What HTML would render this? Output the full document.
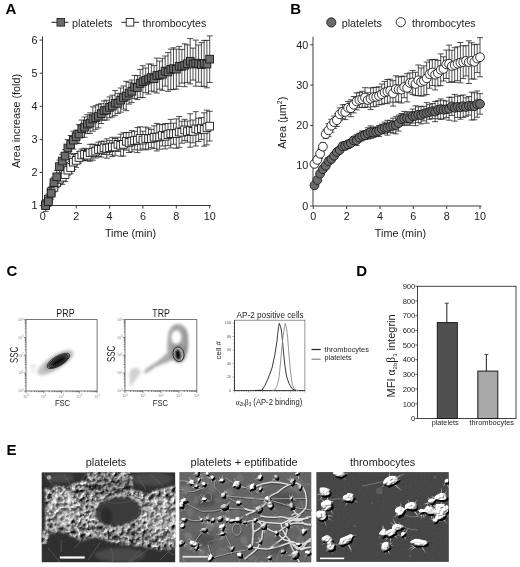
<!DOCTYPE html>
<html><head><meta charset="utf-8"><style>
html,body{margin:0;padding:0;background:#fff;overflow:hidden;}
svg{display:block;font-family:"Liberation Sans", sans-serif;will-change:transform;filter:blur(0.3px);}
</style></head><body>
<svg width="520" height="567" viewBox="0 0 520 567">
<defs>
<filter id="b1" x="-50%" y="-50%" width="200%" height="200%"><feGaussianBlur stdDeviation="0.8"/></filter>
<filter id="b15" x="-50%" y="-50%" width="200%" height="200%"><feGaussianBlur stdDeviation="1.5"/></filter>
</defs>
<rect width="520" height="567" fill="#fff"/>
<text x="5.5" y="13.6" font-size="15" text-anchor="start" font-weight="bold" fill="#000" >A</text>
<line x1="51.5" y1="22.3" x2="68.5" y2="22.3" stroke="#222" stroke-width="1"/>
<rect x="57" y="18.5" width="7.6" height="7.6" fill="#6a6a6a" stroke="#222" stroke-width="0.9"/>
<text x="72.1" y="26.5" font-size="10.8" text-anchor="start" font-weight="normal" fill="#1c1c1c" >platelets</text>
<line x1="121.3" y1="22.3" x2="139" y2="22.3" stroke="#222" stroke-width="1"/>
<rect x="126.2" y="18.5" width="7.6" height="7.6" fill="#fff" stroke="#222" stroke-width="0.9"/>
<text x="142.6" y="26.5" font-size="10.6" text-anchor="start" font-weight="normal" fill="#1c1c1c" >thrombocytes</text>
<path d="M42.5 36.5 V205.5 H210.8" fill="none" stroke="#3a3a3a" stroke-width="1"/>
<line x1="39.6" y1="205.6" x2="42.5" y2="205.6" stroke="#3a3a3a" stroke-width="1"/>
<text x="37.4" y="209.35" font-size="10.8" text-anchor="end" font-weight="normal" fill="#1c1c1c" >1</text>
<line x1="39.6" y1="172.5" x2="42.5" y2="172.5" stroke="#3a3a3a" stroke-width="1"/>
<text x="37.4" y="176.25" font-size="10.8" text-anchor="end" font-weight="normal" fill="#1c1c1c" >2</text>
<line x1="39.6" y1="139.4" x2="42.5" y2="139.4" stroke="#3a3a3a" stroke-width="1"/>
<text x="37.4" y="143.14999999999998" font-size="10.8" text-anchor="end" font-weight="normal" fill="#1c1c1c" >3</text>
<line x1="39.6" y1="106.3" x2="42.5" y2="106.3" stroke="#3a3a3a" stroke-width="1"/>
<text x="37.4" y="110.04999999999998" font-size="10.8" text-anchor="end" font-weight="normal" fill="#1c1c1c" >4</text>
<line x1="39.6" y1="73.2" x2="42.5" y2="73.2" stroke="#3a3a3a" stroke-width="1"/>
<text x="37.4" y="76.94999999999999" font-size="10.8" text-anchor="end" font-weight="normal" fill="#1c1c1c" >5</text>
<line x1="39.6" y1="40.1" x2="42.5" y2="40.1" stroke="#3a3a3a" stroke-width="1"/>
<text x="37.4" y="43.849999999999994" font-size="10.8" text-anchor="end" font-weight="normal" fill="#1c1c1c" >6</text>
<line x1="42.8" y1="205.5" x2="42.8" y2="208.5" stroke="#3a3a3a" stroke-width="1"/>
<text x="42.8" y="219.7" font-size="10.8" text-anchor="middle" font-weight="normal" fill="#1c1c1c" >0</text>
<line x1="76.2" y1="205.5" x2="76.2" y2="208.5" stroke="#3a3a3a" stroke-width="1"/>
<text x="76.18" y="219.7" font-size="10.8" text-anchor="middle" font-weight="normal" fill="#1c1c1c" >2</text>
<line x1="109.6" y1="205.5" x2="109.6" y2="208.5" stroke="#3a3a3a" stroke-width="1"/>
<text x="109.56" y="219.7" font-size="10.8" text-anchor="middle" font-weight="normal" fill="#1c1c1c" >4</text>
<line x1="142.9" y1="205.5" x2="142.9" y2="208.5" stroke="#3a3a3a" stroke-width="1"/>
<text x="142.94" y="219.7" font-size="10.8" text-anchor="middle" font-weight="normal" fill="#1c1c1c" >6</text>
<line x1="176.3" y1="205.5" x2="176.3" y2="208.5" stroke="#3a3a3a" stroke-width="1"/>
<text x="176.32" y="219.7" font-size="10.8" text-anchor="middle" font-weight="normal" fill="#1c1c1c" >8</text>
<line x1="209.7" y1="205.5" x2="209.7" y2="208.5" stroke="#3a3a3a" stroke-width="1"/>
<text x="209.7" y="219.7" font-size="10.8" text-anchor="middle" font-weight="normal" fill="#1c1c1c" >10</text>
<text x="130.5" y="236.6" font-size="10.8" text-anchor="middle" font-weight="normal" fill="#1c1c1c" >Time (min)</text>
<text transform="translate(20.2,121) rotate(-90)" font-size="10.8" text-anchor="middle" fill="#1c1c1c">Area increase (fold)</text>
<path d="M45.6 200.1V209.2M42.6 200.1h6M42.6 209.2h6" stroke="#222" stroke-width="0.8" fill="none"/>
<path d="M48.4 194.1V204.2M45.4 194.1h6M45.4 204.2h6" stroke="#222" stroke-width="0.8" fill="none"/>
<path d="M51.1 187.0V196.6M48.1 187.0h6M48.1 196.6h6" stroke="#222" stroke-width="0.8" fill="none"/>
<path d="M53.9 182.7V191.9M50.9 182.7h6M50.9 191.9h6" stroke="#222" stroke-width="0.8" fill="none"/>
<path d="M56.7 177.3V187.6M53.7 177.3h6M53.7 187.6h6" stroke="#222" stroke-width="0.8" fill="none"/>
<path d="M59.5 173.6V184.8M56.5 173.6h6M56.5 184.8h6" stroke="#222" stroke-width="0.8" fill="none"/>
<path d="M62.3 170.2V184.3M59.3 170.2h6M59.3 184.3h6" stroke="#222" stroke-width="0.8" fill="none"/>
<path d="M65.1 167.6V181.6M62.1 167.6h6M62.1 181.6h6" stroke="#222" stroke-width="0.8" fill="none"/>
<path d="M67.8 165.0V175.2M64.8 165.0h6M64.8 175.2h6" stroke="#222" stroke-width="0.8" fill="none"/>
<path d="M70.6 161.3V173.7M67.6 161.3h6M67.6 173.7h6" stroke="#222" stroke-width="0.8" fill="none"/>
<path d="M73.4 154.6V169.6M70.4 154.6h6M70.4 169.6h6" stroke="#222" stroke-width="0.8" fill="none"/>
<path d="M76.2 153.5V167.3M73.2 153.5h6M73.2 167.3h6" stroke="#222" stroke-width="0.8" fill="none"/>
<path d="M79.0 151.7V163.1M76.0 151.7h6M76.0 163.1h6" stroke="#222" stroke-width="0.8" fill="none"/>
<path d="M81.7 149.0V160.9M78.7 149.0h6M78.7 160.9h6" stroke="#222" stroke-width="0.8" fill="none"/>
<path d="M84.5 148.3V160.4M81.5 148.3h6M81.5 160.4h6" stroke="#222" stroke-width="0.8" fill="none"/>
<path d="M87.3 149.5V160.8M84.3 149.5h6M84.3 160.8h6" stroke="#222" stroke-width="0.8" fill="none"/>
<path d="M90.1 144.3V161.2M87.1 144.3h6M87.1 161.2h6" stroke="#222" stroke-width="0.8" fill="none"/>
<path d="M92.9 144.2V160.2M89.9 144.2h6M89.9 160.2h6" stroke="#222" stroke-width="0.8" fill="none"/>
<path d="M95.7 144.4V158.0M92.7 144.4h6M92.7 158.0h6" stroke="#222" stroke-width="0.8" fill="none"/>
<path d="M98.4 142.2V156.6M95.4 142.2h6M95.4 156.6h6" stroke="#222" stroke-width="0.8" fill="none"/>
<path d="M101.2 141.3V157.1M98.2 141.3h6M98.2 157.1h6" stroke="#222" stroke-width="0.8" fill="none"/>
<path d="M104.0 141.2V154.5M101.0 141.2h6M101.0 154.5h6" stroke="#222" stroke-width="0.8" fill="none"/>
<path d="M106.8 138.8V158.2M103.8 138.8h6M103.8 158.2h6" stroke="#222" stroke-width="0.8" fill="none"/>
<path d="M109.6 140.6V154.8M106.6 140.6h6M106.6 154.8h6" stroke="#222" stroke-width="0.8" fill="none"/>
<path d="M112.3 137.3V156.6M109.3 137.3h6M109.3 156.6h6" stroke="#222" stroke-width="0.8" fill="none"/>
<path d="M115.1 138.5V155.3M112.1 138.5h6M112.1 155.3h6" stroke="#222" stroke-width="0.8" fill="none"/>
<path d="M117.9 137.3V151.4M114.9 137.3h6M114.9 151.4h6" stroke="#222" stroke-width="0.8" fill="none"/>
<path d="M120.7 134.2V156.2M117.7 134.2h6M117.7 156.2h6" stroke="#222" stroke-width="0.8" fill="none"/>
<path d="M123.5 132.7V156.0M120.5 132.7h6M120.5 156.0h6" stroke="#222" stroke-width="0.8" fill="none"/>
<path d="M126.2 132.5V150.1M123.2 132.5h6M123.2 150.1h6" stroke="#222" stroke-width="0.8" fill="none"/>
<path d="M129.0 132.4V152.5M126.0 132.4h6M126.0 152.5h6" stroke="#222" stroke-width="0.8" fill="none"/>
<path d="M131.8 130.7V151.8M128.8 130.7h6M128.8 151.8h6" stroke="#222" stroke-width="0.8" fill="none"/>
<path d="M134.6 131.3V149.8M131.6 131.3h6M131.6 149.8h6" stroke="#222" stroke-width="0.8" fill="none"/>
<path d="M137.4 127.6V152.6M134.4 127.6h6M134.4 152.6h6" stroke="#222" stroke-width="0.8" fill="none"/>
<path d="M140.2 126.8V150.1M137.2 126.8h6M137.2 150.1h6" stroke="#222" stroke-width="0.8" fill="none"/>
<path d="M142.9 131.2V149.0M139.9 131.2h6M139.9 149.0h6" stroke="#222" stroke-width="0.8" fill="none"/>
<path d="M145.7 127.1V149.8M142.7 127.1h6M142.7 149.8h6" stroke="#222" stroke-width="0.8" fill="none"/>
<path d="M148.5 128.0V149.2M145.5 128.0h6M145.5 149.2h6" stroke="#222" stroke-width="0.8" fill="none"/>
<path d="M151.3 129.4V147.7M148.3 129.4h6M148.3 147.7h6" stroke="#222" stroke-width="0.8" fill="none"/>
<path d="M154.1 125.8V148.6M151.1 125.8h6M151.1 148.6h6" stroke="#222" stroke-width="0.8" fill="none"/>
<path d="M156.8 123.4V150.9M153.8 123.4h6M153.8 150.9h6" stroke="#222" stroke-width="0.8" fill="none"/>
<path d="M159.6 124.4V149.2M156.6 124.4h6M156.6 149.2h6" stroke="#222" stroke-width="0.8" fill="none"/>
<path d="M162.4 124.6V146.0M159.4 124.6h6M159.4 146.0h6" stroke="#222" stroke-width="0.8" fill="none"/>
<path d="M165.2 123.6V148.9M162.2 123.6h6M162.2 148.9h6" stroke="#222" stroke-width="0.8" fill="none"/>
<path d="M168.0 123.4V145.6M165.0 123.4h6M165.0 145.6h6" stroke="#222" stroke-width="0.8" fill="none"/>
<path d="M170.8 119.4V147.9M167.8 119.4h6M167.8 147.9h6" stroke="#222" stroke-width="0.8" fill="none"/>
<path d="M173.5 123.2V144.3M170.5 123.2h6M170.5 144.3h6" stroke="#222" stroke-width="0.8" fill="none"/>
<path d="M176.3 118.9V148.3M173.3 118.9h6M173.3 148.3h6" stroke="#222" stroke-width="0.8" fill="none"/>
<path d="M179.1 116.5V147.3M176.1 116.5h6M176.1 147.3h6" stroke="#222" stroke-width="0.8" fill="none"/>
<path d="M181.9 121.2V143.2M178.9 121.2h6M178.9 143.2h6" stroke="#222" stroke-width="0.8" fill="none"/>
<path d="M184.7 119.3V140.6M181.7 119.3h6M181.7 140.6h6" stroke="#222" stroke-width="0.8" fill="none"/>
<path d="M187.4 121.0V142.2M184.4 121.0h6M184.4 142.2h6" stroke="#222" stroke-width="0.8" fill="none"/>
<path d="M190.2 113.8V147.2M187.2 113.8h6M187.2 147.2h6" stroke="#222" stroke-width="0.8" fill="none"/>
<path d="M193.0 120.0V142.8M190.0 120.0h6M190.0 142.8h6" stroke="#222" stroke-width="0.8" fill="none"/>
<path d="M195.8 111.7V146.0M192.8 111.7h6M192.8 146.0h6" stroke="#222" stroke-width="0.8" fill="none"/>
<path d="M198.6 118.3V141.5M195.6 118.3h6M195.6 141.5h6" stroke="#222" stroke-width="0.8" fill="none"/>
<path d="M201.4 117.6V139.6M198.4 117.6h6M198.4 139.6h6" stroke="#222" stroke-width="0.8" fill="none"/>
<path d="M204.1 112.8V146.2M201.1 112.8h6M201.1 146.2h6" stroke="#222" stroke-width="0.8" fill="none"/>
<path d="M206.9 110.2V144.9M203.9 110.2h6M203.9 144.9h6" stroke="#222" stroke-width="0.8" fill="none"/>
<path d="M209.7 111.3V141.0M206.7 111.3h6M206.7 141.0h6" stroke="#222" stroke-width="0.8" fill="none"/>
<rect x="41.7" y="200.8" width="7.7" height="7.7" fill="#fff" stroke="#1a1a1a" stroke-width="0.9"/>
<rect x="44.5" y="195.3" width="7.7" height="7.7" fill="#fff" stroke="#1a1a1a" stroke-width="0.9"/>
<rect x="47.3" y="188.0" width="7.7" height="7.7" fill="#fff" stroke="#1a1a1a" stroke-width="0.9"/>
<rect x="50.1" y="183.5" width="7.7" height="7.7" fill="#fff" stroke="#1a1a1a" stroke-width="0.9"/>
<rect x="52.9" y="178.6" width="7.7" height="7.7" fill="#fff" stroke="#1a1a1a" stroke-width="0.9"/>
<rect x="55.6" y="175.3" width="7.7" height="7.7" fill="#fff" stroke="#1a1a1a" stroke-width="0.9"/>
<rect x="58.4" y="173.4" width="7.7" height="7.7" fill="#fff" stroke="#1a1a1a" stroke-width="0.9"/>
<rect x="61.2" y="170.7" width="7.7" height="7.7" fill="#fff" stroke="#1a1a1a" stroke-width="0.9"/>
<rect x="64.0" y="166.3" width="7.7" height="7.7" fill="#fff" stroke="#1a1a1a" stroke-width="0.9"/>
<rect x="66.8" y="163.7" width="7.7" height="7.7" fill="#fff" stroke="#1a1a1a" stroke-width="0.9"/>
<rect x="69.5" y="158.3" width="7.7" height="7.7" fill="#fff" stroke="#1a1a1a" stroke-width="0.9"/>
<rect x="72.3" y="156.5" width="7.7" height="7.7" fill="#fff" stroke="#1a1a1a" stroke-width="0.9"/>
<rect x="75.1" y="153.6" width="7.7" height="7.7" fill="#fff" stroke="#1a1a1a" stroke-width="0.9"/>
<rect x="77.9" y="151.1" width="7.7" height="7.7" fill="#fff" stroke="#1a1a1a" stroke-width="0.9"/>
<rect x="80.7" y="150.5" width="7.7" height="7.7" fill="#fff" stroke="#1a1a1a" stroke-width="0.9"/>
<rect x="83.5" y="151.3" width="7.7" height="7.7" fill="#fff" stroke="#1a1a1a" stroke-width="0.9"/>
<rect x="86.2" y="148.9" width="7.7" height="7.7" fill="#fff" stroke="#1a1a1a" stroke-width="0.9"/>
<rect x="89.0" y="148.4" width="7.7" height="7.7" fill="#fff" stroke="#1a1a1a" stroke-width="0.9"/>
<rect x="91.8" y="147.3" width="7.7" height="7.7" fill="#fff" stroke="#1a1a1a" stroke-width="0.9"/>
<rect x="94.6" y="145.6" width="7.7" height="7.7" fill="#fff" stroke="#1a1a1a" stroke-width="0.9"/>
<rect x="97.4" y="145.4" width="7.7" height="7.7" fill="#fff" stroke="#1a1a1a" stroke-width="0.9"/>
<rect x="100.1" y="144.0" width="7.7" height="7.7" fill="#fff" stroke="#1a1a1a" stroke-width="0.9"/>
<rect x="102.9" y="144.6" width="7.7" height="7.7" fill="#fff" stroke="#1a1a1a" stroke-width="0.9"/>
<rect x="105.7" y="143.9" width="7.7" height="7.7" fill="#fff" stroke="#1a1a1a" stroke-width="0.9"/>
<rect x="108.5" y="143.1" width="7.7" height="7.7" fill="#fff" stroke="#1a1a1a" stroke-width="0.9"/>
<rect x="111.3" y="143.1" width="7.7" height="7.7" fill="#fff" stroke="#1a1a1a" stroke-width="0.9"/>
<rect x="114.1" y="140.5" width="7.7" height="7.7" fill="#fff" stroke="#1a1a1a" stroke-width="0.9"/>
<rect x="116.8" y="141.4" width="7.7" height="7.7" fill="#fff" stroke="#1a1a1a" stroke-width="0.9"/>
<rect x="119.6" y="140.5" width="7.7" height="7.7" fill="#fff" stroke="#1a1a1a" stroke-width="0.9"/>
<rect x="122.4" y="137.4" width="7.7" height="7.7" fill="#fff" stroke="#1a1a1a" stroke-width="0.9"/>
<rect x="125.2" y="138.6" width="7.7" height="7.7" fill="#fff" stroke="#1a1a1a" stroke-width="0.9"/>
<rect x="128.0" y="137.4" width="7.7" height="7.7" fill="#fff" stroke="#1a1a1a" stroke-width="0.9"/>
<rect x="130.7" y="136.7" width="7.7" height="7.7" fill="#fff" stroke="#1a1a1a" stroke-width="0.9"/>
<rect x="133.5" y="136.3" width="7.7" height="7.7" fill="#fff" stroke="#1a1a1a" stroke-width="0.9"/>
<rect x="136.3" y="134.6" width="7.7" height="7.7" fill="#fff" stroke="#1a1a1a" stroke-width="0.9"/>
<rect x="139.1" y="136.2" width="7.7" height="7.7" fill="#fff" stroke="#1a1a1a" stroke-width="0.9"/>
<rect x="141.9" y="134.6" width="7.7" height="7.7" fill="#fff" stroke="#1a1a1a" stroke-width="0.9"/>
<rect x="144.7" y="134.8" width="7.7" height="7.7" fill="#fff" stroke="#1a1a1a" stroke-width="0.9"/>
<rect x="147.4" y="134.7" width="7.7" height="7.7" fill="#fff" stroke="#1a1a1a" stroke-width="0.9"/>
<rect x="150.2" y="133.4" width="7.7" height="7.7" fill="#fff" stroke="#1a1a1a" stroke-width="0.9"/>
<rect x="153.0" y="133.3" width="7.7" height="7.7" fill="#fff" stroke="#1a1a1a" stroke-width="0.9"/>
<rect x="155.8" y="133.0" width="7.7" height="7.7" fill="#fff" stroke="#1a1a1a" stroke-width="0.9"/>
<rect x="158.6" y="131.4" width="7.7" height="7.7" fill="#fff" stroke="#1a1a1a" stroke-width="0.9"/>
<rect x="161.3" y="132.4" width="7.7" height="7.7" fill="#fff" stroke="#1a1a1a" stroke-width="0.9"/>
<rect x="164.1" y="130.7" width="7.7" height="7.7" fill="#fff" stroke="#1a1a1a" stroke-width="0.9"/>
<rect x="166.9" y="129.8" width="7.7" height="7.7" fill="#fff" stroke="#1a1a1a" stroke-width="0.9"/>
<rect x="169.7" y="129.9" width="7.7" height="7.7" fill="#fff" stroke="#1a1a1a" stroke-width="0.9"/>
<rect x="172.5" y="129.7" width="7.7" height="7.7" fill="#fff" stroke="#1a1a1a" stroke-width="0.9"/>
<rect x="175.3" y="128.1" width="7.7" height="7.7" fill="#fff" stroke="#1a1a1a" stroke-width="0.9"/>
<rect x="178.0" y="128.4" width="7.7" height="7.7" fill="#fff" stroke="#1a1a1a" stroke-width="0.9"/>
<rect x="180.8" y="126.1" width="7.7" height="7.7" fill="#fff" stroke="#1a1a1a" stroke-width="0.9"/>
<rect x="183.6" y="127.7" width="7.7" height="7.7" fill="#fff" stroke="#1a1a1a" stroke-width="0.9"/>
<rect x="186.4" y="126.7" width="7.7" height="7.7" fill="#fff" stroke="#1a1a1a" stroke-width="0.9"/>
<rect x="189.2" y="127.5" width="7.7" height="7.7" fill="#fff" stroke="#1a1a1a" stroke-width="0.9"/>
<rect x="191.9" y="125.0" width="7.7" height="7.7" fill="#fff" stroke="#1a1a1a" stroke-width="0.9"/>
<rect x="194.7" y="126.0" width="7.7" height="7.7" fill="#fff" stroke="#1a1a1a" stroke-width="0.9"/>
<rect x="197.5" y="124.7" width="7.7" height="7.7" fill="#fff" stroke="#1a1a1a" stroke-width="0.9"/>
<rect x="200.3" y="125.6" width="7.7" height="7.7" fill="#fff" stroke="#1a1a1a" stroke-width="0.9"/>
<rect x="203.1" y="123.7" width="7.7" height="7.7" fill="#fff" stroke="#1a1a1a" stroke-width="0.9"/>
<rect x="205.8" y="122.3" width="7.7" height="7.7" fill="#fff" stroke="#1a1a1a" stroke-width="0.9"/>
<path d="M45.6 199.8V211.4M42.6 199.8h6M42.6 211.4h6" stroke="#222" stroke-width="0.8" fill="none"/>
<path d="M48.4 196.5V206.6M45.4 196.5h6M45.4 206.6h6" stroke="#222" stroke-width="0.8" fill="none"/>
<path d="M51.1 187.4V199.1M48.1 187.4h6M48.1 199.1h6" stroke="#222" stroke-width="0.8" fill="none"/>
<path d="M53.9 177.3V188.0M50.9 177.3h6M50.9 188.0h6" stroke="#222" stroke-width="0.8" fill="none"/>
<path d="M56.7 170.6V183.1M53.7 170.6h6M53.7 183.1h6" stroke="#222" stroke-width="0.8" fill="none"/>
<path d="M59.5 160.1V173.1M56.5 160.1h6M56.5 173.1h6" stroke="#222" stroke-width="0.8" fill="none"/>
<path d="M62.3 154.4V167.8M59.3 154.4h6M59.3 167.8h6" stroke="#222" stroke-width="0.8" fill="none"/>
<path d="M65.1 149.5V162.6M62.1 149.5h6M62.1 162.6h6" stroke="#222" stroke-width="0.8" fill="none"/>
<path d="M67.8 139.6V156.2M64.8 139.6h6M64.8 156.2h6" stroke="#222" stroke-width="0.8" fill="none"/>
<path d="M70.6 135.5V153.5M67.6 135.5h6M67.6 153.5h6" stroke="#222" stroke-width="0.8" fill="none"/>
<path d="M73.4 131.2V149.1M70.4 131.2h6M70.4 149.1h6" stroke="#222" stroke-width="0.8" fill="none"/>
<path d="M76.2 130.2V143.2M73.2 130.2h6M73.2 143.2h6" stroke="#222" stroke-width="0.8" fill="none"/>
<path d="M79.0 124.6V143.5M76.0 124.6h6M76.0 143.5h6" stroke="#222" stroke-width="0.8" fill="none"/>
<path d="M81.7 120.0V137.5M78.7 120.0h6M78.7 137.5h6" stroke="#222" stroke-width="0.8" fill="none"/>
<path d="M84.5 117.0V137.3M81.5 117.0h6M81.5 137.3h6" stroke="#222" stroke-width="0.8" fill="none"/>
<path d="M87.3 114.7V133.6M84.3 114.7h6M84.3 133.6h6" stroke="#222" stroke-width="0.8" fill="none"/>
<path d="M90.1 112.8V133.4M87.1 112.8h6M87.1 133.4h6" stroke="#222" stroke-width="0.8" fill="none"/>
<path d="M92.9 106.9V131.2M89.9 106.9h6M89.9 131.2h6" stroke="#222" stroke-width="0.8" fill="none"/>
<path d="M95.7 105.7V129.3M92.7 105.7h6M92.7 129.3h6" stroke="#222" stroke-width="0.8" fill="none"/>
<path d="M98.4 104.4V127.9M95.4 104.4h6M95.4 127.9h6" stroke="#222" stroke-width="0.8" fill="none"/>
<path d="M101.2 103.7V123.5M98.2 103.7h6M98.2 123.5h6" stroke="#222" stroke-width="0.8" fill="none"/>
<path d="M104.0 100.9V120.3M101.0 100.9h6M101.0 120.3h6" stroke="#222" stroke-width="0.8" fill="none"/>
<path d="M106.8 100.2V120.0M103.8 100.2h6M103.8 120.0h6" stroke="#222" stroke-width="0.8" fill="none"/>
<path d="M109.6 96.9V117.8M106.6 96.9h6M106.6 117.8h6" stroke="#222" stroke-width="0.8" fill="none"/>
<path d="M112.3 95.2V117.0M109.3 95.2h6M109.3 117.0h6" stroke="#222" stroke-width="0.8" fill="none"/>
<path d="M115.1 90.6V115.6M112.1 90.6h6M112.1 115.6h6" stroke="#222" stroke-width="0.8" fill="none"/>
<path d="M117.9 93.3V113.5M114.9 93.3h6M114.9 113.5h6" stroke="#222" stroke-width="0.8" fill="none"/>
<path d="M120.7 88.0V112.2M117.7 88.0h6M117.7 112.2h6" stroke="#222" stroke-width="0.8" fill="none"/>
<path d="M123.5 86.0V109.1M120.5 86.0h6M120.5 109.1h6" stroke="#222" stroke-width="0.8" fill="none"/>
<path d="M126.2 81.3V110.7M123.2 81.3h6M123.2 110.7h6" stroke="#222" stroke-width="0.8" fill="none"/>
<path d="M129.0 82.2V104.1M126.0 82.2h6M126.0 104.1h6" stroke="#222" stroke-width="0.8" fill="none"/>
<path d="M131.8 80.0V102.6M128.8 80.0h6M128.8 102.6h6" stroke="#222" stroke-width="0.8" fill="none"/>
<path d="M134.6 75.4V98.5M131.6 75.4h6M131.6 98.5h6" stroke="#222" stroke-width="0.8" fill="none"/>
<path d="M137.4 75.6V99.6M134.4 75.6h6M134.4 99.6h6" stroke="#222" stroke-width="0.8" fill="none"/>
<path d="M140.2 69.4V97.6M137.2 69.4h6M137.2 97.6h6" stroke="#222" stroke-width="0.8" fill="none"/>
<path d="M142.9 65.7V97.6M139.9 65.7h6M139.9 97.6h6" stroke="#222" stroke-width="0.8" fill="none"/>
<path d="M145.7 68.0V92.6M142.7 68.0h6M142.7 92.6h6" stroke="#222" stroke-width="0.8" fill="none"/>
<path d="M148.5 64.0V94.1M145.5 64.0h6M145.5 94.1h6" stroke="#222" stroke-width="0.8" fill="none"/>
<path d="M151.3 64.1V91.1M148.3 64.1h6M148.3 91.1h6" stroke="#222" stroke-width="0.8" fill="none"/>
<path d="M154.1 65.6V91.9M151.1 65.6h6M151.1 91.9h6" stroke="#222" stroke-width="0.8" fill="none"/>
<path d="M156.8 58.1V93.0M153.8 58.1h6M153.8 93.0h6" stroke="#222" stroke-width="0.8" fill="none"/>
<path d="M159.6 61.1V89.2M156.6 61.1h6M156.6 89.2h6" stroke="#222" stroke-width="0.8" fill="none"/>
<path d="M162.4 58.3V90.3M159.4 58.3h6M159.4 90.3h6" stroke="#222" stroke-width="0.8" fill="none"/>
<path d="M165.2 56.0V86.1M162.2 56.0h6M162.2 86.1h6" stroke="#222" stroke-width="0.8" fill="none"/>
<path d="M168.0 52.6V91.3M165.0 52.6h6M165.0 91.3h6" stroke="#222" stroke-width="0.8" fill="none"/>
<path d="M170.8 49.1V89.7M167.8 49.1h6M167.8 89.7h6" stroke="#222" stroke-width="0.8" fill="none"/>
<path d="M173.5 47.8V89.4M170.5 47.8h6M170.5 89.4h6" stroke="#222" stroke-width="0.8" fill="none"/>
<path d="M176.3 49.2V89.1M173.3 49.2h6M173.3 89.1h6" stroke="#222" stroke-width="0.8" fill="none"/>
<path d="M179.1 46.4V86.3M176.1 46.4h6M176.1 86.3h6" stroke="#222" stroke-width="0.8" fill="none"/>
<path d="M181.9 49.4V83.1M178.9 49.4h6M178.9 83.1h6" stroke="#222" stroke-width="0.8" fill="none"/>
<path d="M184.7 43.9V86.7M181.7 43.9h6M181.7 86.7h6" stroke="#222" stroke-width="0.8" fill="none"/>
<path d="M187.4 44.9V82.4M184.4 44.9h6M184.4 82.4h6" stroke="#222" stroke-width="0.8" fill="none"/>
<path d="M190.2 38.6V83.9M187.2 38.6h6M187.2 83.9h6" stroke="#222" stroke-width="0.8" fill="none"/>
<path d="M193.0 48.1V80.1M190.0 48.1h6M190.0 80.1h6" stroke="#222" stroke-width="0.8" fill="none"/>
<path d="M195.8 40.1V86.2M192.8 40.1h6M192.8 86.2h6" stroke="#222" stroke-width="0.8" fill="none"/>
<path d="M198.6 45.0V82.2M195.6 45.0h6M195.6 82.2h6" stroke="#222" stroke-width="0.8" fill="none"/>
<path d="M201.4 42.6V86.4M198.4 42.6h6M198.4 86.4h6" stroke="#222" stroke-width="0.8" fill="none"/>
<path d="M204.1 40.4V86.4M201.1 40.4h6M201.1 86.4h6" stroke="#222" stroke-width="0.8" fill="none"/>
<path d="M206.9 40.4V87.8M203.9 40.4h6M203.9 87.8h6" stroke="#222" stroke-width="0.8" fill="none"/>
<path d="M209.7 35.9V82.5M206.7 35.9h6M206.7 82.5h6" stroke="#222" stroke-width="0.8" fill="none"/>
<rect x="41.7" y="201.8" width="7.7" height="7.7" fill="#6c6c6c" stroke="#1a1a1a" stroke-width="0.9"/>
<rect x="44.5" y="197.7" width="7.7" height="7.7" fill="#6c6c6c" stroke="#1a1a1a" stroke-width="0.9"/>
<rect x="47.3" y="189.4" width="7.7" height="7.7" fill="#6c6c6c" stroke="#1a1a1a" stroke-width="0.9"/>
<rect x="50.1" y="178.8" width="7.7" height="7.7" fill="#6c6c6c" stroke="#1a1a1a" stroke-width="0.9"/>
<rect x="52.9" y="173.0" width="7.7" height="7.7" fill="#6c6c6c" stroke="#1a1a1a" stroke-width="0.9"/>
<rect x="55.6" y="162.7" width="7.7" height="7.7" fill="#6c6c6c" stroke="#1a1a1a" stroke-width="0.9"/>
<rect x="58.4" y="157.2" width="7.7" height="7.7" fill="#6c6c6c" stroke="#1a1a1a" stroke-width="0.9"/>
<rect x="61.2" y="152.2" width="7.7" height="7.7" fill="#6c6c6c" stroke="#1a1a1a" stroke-width="0.9"/>
<rect x="64.0" y="144.1" width="7.7" height="7.7" fill="#6c6c6c" stroke="#1a1a1a" stroke-width="0.9"/>
<rect x="66.8" y="140.6" width="7.7" height="7.7" fill="#6c6c6c" stroke="#1a1a1a" stroke-width="0.9"/>
<rect x="69.5" y="136.3" width="7.7" height="7.7" fill="#6c6c6c" stroke="#1a1a1a" stroke-width="0.9"/>
<rect x="72.3" y="132.8" width="7.7" height="7.7" fill="#6c6c6c" stroke="#1a1a1a" stroke-width="0.9"/>
<rect x="75.1" y="130.2" width="7.7" height="7.7" fill="#6c6c6c" stroke="#1a1a1a" stroke-width="0.9"/>
<rect x="77.9" y="124.9" width="7.7" height="7.7" fill="#6c6c6c" stroke="#1a1a1a" stroke-width="0.9"/>
<rect x="80.7" y="123.3" width="7.7" height="7.7" fill="#6c6c6c" stroke="#1a1a1a" stroke-width="0.9"/>
<rect x="83.5" y="120.3" width="7.7" height="7.7" fill="#6c6c6c" stroke="#1a1a1a" stroke-width="0.9"/>
<rect x="86.2" y="119.3" width="7.7" height="7.7" fill="#6c6c6c" stroke="#1a1a1a" stroke-width="0.9"/>
<rect x="89.0" y="115.2" width="7.7" height="7.7" fill="#6c6c6c" stroke="#1a1a1a" stroke-width="0.9"/>
<rect x="91.8" y="113.7" width="7.7" height="7.7" fill="#6c6c6c" stroke="#1a1a1a" stroke-width="0.9"/>
<rect x="94.6" y="112.3" width="7.7" height="7.7" fill="#6c6c6c" stroke="#1a1a1a" stroke-width="0.9"/>
<rect x="97.4" y="109.7" width="7.7" height="7.7" fill="#6c6c6c" stroke="#1a1a1a" stroke-width="0.9"/>
<rect x="100.1" y="106.8" width="7.7" height="7.7" fill="#6c6c6c" stroke="#1a1a1a" stroke-width="0.9"/>
<rect x="102.9" y="106.3" width="7.7" height="7.7" fill="#6c6c6c" stroke="#1a1a1a" stroke-width="0.9"/>
<rect x="105.7" y="103.5" width="7.7" height="7.7" fill="#6c6c6c" stroke="#1a1a1a" stroke-width="0.9"/>
<rect x="108.5" y="102.2" width="7.7" height="7.7" fill="#6c6c6c" stroke="#1a1a1a" stroke-width="0.9"/>
<rect x="111.3" y="99.3" width="7.7" height="7.7" fill="#6c6c6c" stroke="#1a1a1a" stroke-width="0.9"/>
<rect x="114.1" y="99.5" width="7.7" height="7.7" fill="#6c6c6c" stroke="#1a1a1a" stroke-width="0.9"/>
<rect x="116.8" y="96.3" width="7.7" height="7.7" fill="#6c6c6c" stroke="#1a1a1a" stroke-width="0.9"/>
<rect x="119.6" y="93.7" width="7.7" height="7.7" fill="#6c6c6c" stroke="#1a1a1a" stroke-width="0.9"/>
<rect x="122.4" y="92.1" width="7.7" height="7.7" fill="#6c6c6c" stroke="#1a1a1a" stroke-width="0.9"/>
<rect x="125.2" y="89.3" width="7.7" height="7.7" fill="#6c6c6c" stroke="#1a1a1a" stroke-width="0.9"/>
<rect x="128.0" y="87.4" width="7.7" height="7.7" fill="#6c6c6c" stroke="#1a1a1a" stroke-width="0.9"/>
<rect x="130.7" y="83.1" width="7.7" height="7.7" fill="#6c6c6c" stroke="#1a1a1a" stroke-width="0.9"/>
<rect x="133.5" y="83.7" width="7.7" height="7.7" fill="#6c6c6c" stroke="#1a1a1a" stroke-width="0.9"/>
<rect x="136.3" y="79.6" width="7.7" height="7.7" fill="#6c6c6c" stroke="#1a1a1a" stroke-width="0.9"/>
<rect x="139.1" y="77.8" width="7.7" height="7.7" fill="#6c6c6c" stroke="#1a1a1a" stroke-width="0.9"/>
<rect x="141.9" y="76.4" width="7.7" height="7.7" fill="#6c6c6c" stroke="#1a1a1a" stroke-width="0.9"/>
<rect x="144.7" y="75.2" width="7.7" height="7.7" fill="#6c6c6c" stroke="#1a1a1a" stroke-width="0.9"/>
<rect x="147.4" y="73.7" width="7.7" height="7.7" fill="#6c6c6c" stroke="#1a1a1a" stroke-width="0.9"/>
<rect x="150.2" y="74.9" width="7.7" height="7.7" fill="#6c6c6c" stroke="#1a1a1a" stroke-width="0.9"/>
<rect x="153.0" y="71.7" width="7.7" height="7.7" fill="#6c6c6c" stroke="#1a1a1a" stroke-width="0.9"/>
<rect x="155.8" y="71.3" width="7.7" height="7.7" fill="#6c6c6c" stroke="#1a1a1a" stroke-width="0.9"/>
<rect x="158.6" y="70.4" width="7.7" height="7.7" fill="#6c6c6c" stroke="#1a1a1a" stroke-width="0.9"/>
<rect x="161.3" y="67.2" width="7.7" height="7.7" fill="#6c6c6c" stroke="#1a1a1a" stroke-width="0.9"/>
<rect x="164.1" y="68.1" width="7.7" height="7.7" fill="#6c6c6c" stroke="#1a1a1a" stroke-width="0.9"/>
<rect x="166.9" y="65.5" width="7.7" height="7.7" fill="#6c6c6c" stroke="#1a1a1a" stroke-width="0.9"/>
<rect x="169.7" y="64.8" width="7.7" height="7.7" fill="#6c6c6c" stroke="#1a1a1a" stroke-width="0.9"/>
<rect x="172.5" y="65.3" width="7.7" height="7.7" fill="#6c6c6c" stroke="#1a1a1a" stroke-width="0.9"/>
<rect x="175.3" y="62.5" width="7.7" height="7.7" fill="#6c6c6c" stroke="#1a1a1a" stroke-width="0.9"/>
<rect x="178.0" y="62.4" width="7.7" height="7.7" fill="#6c6c6c" stroke="#1a1a1a" stroke-width="0.9"/>
<rect x="180.8" y="61.4" width="7.7" height="7.7" fill="#6c6c6c" stroke="#1a1a1a" stroke-width="0.9"/>
<rect x="183.6" y="59.8" width="7.7" height="7.7" fill="#6c6c6c" stroke="#1a1a1a" stroke-width="0.9"/>
<rect x="186.4" y="57.4" width="7.7" height="7.7" fill="#6c6c6c" stroke="#1a1a1a" stroke-width="0.9"/>
<rect x="189.2" y="60.2" width="7.7" height="7.7" fill="#6c6c6c" stroke="#1a1a1a" stroke-width="0.9"/>
<rect x="191.9" y="59.3" width="7.7" height="7.7" fill="#6c6c6c" stroke="#1a1a1a" stroke-width="0.9"/>
<rect x="194.7" y="59.8" width="7.7" height="7.7" fill="#6c6c6c" stroke="#1a1a1a" stroke-width="0.9"/>
<rect x="197.5" y="60.7" width="7.7" height="7.7" fill="#6c6c6c" stroke="#1a1a1a" stroke-width="0.9"/>
<rect x="200.3" y="59.5" width="7.7" height="7.7" fill="#6c6c6c" stroke="#1a1a1a" stroke-width="0.9"/>
<rect x="203.1" y="60.2" width="7.7" height="7.7" fill="#6c6c6c" stroke="#1a1a1a" stroke-width="0.9"/>
<rect x="205.8" y="55.3" width="7.7" height="7.7" fill="#6c6c6c" stroke="#1a1a1a" stroke-width="0.9"/>
<text x="290.2" y="13.7" font-size="15" text-anchor="start" font-weight="bold" fill="#000" >B</text>
<circle cx="331.3" cy="22.4" r="4.6" fill="#6a6a6a" stroke="#222" stroke-width="0.9"/>
<text x="341.7" y="26.5" font-size="10.8" text-anchor="start" font-weight="normal" fill="#1c1c1c" >platelets</text>
<circle cx="400.8" cy="22.2" r="4.6" fill="#fff" stroke="#222" stroke-width="0.9"/>
<text x="412.0" y="26.5" font-size="10.6" text-anchor="start" font-weight="normal" fill="#1c1c1c" >thrombocytes</text>
<path d="M313 36.7 V206 H481.5" fill="none" stroke="#3a3a3a" stroke-width="1"/>
<line x1="310.2" y1="206.0" x2="313" y2="206.0" stroke="#3a3a3a" stroke-width="1"/>
<text x="308.3" y="209.75" font-size="10.8" text-anchor="end" font-weight="normal" fill="#1c1c1c" >0</text>
<line x1="310.2" y1="165.7" x2="313" y2="165.7" stroke="#3a3a3a" stroke-width="1"/>
<text x="308.3" y="169.45" font-size="10.8" text-anchor="end" font-weight="normal" fill="#1c1c1c" >10</text>
<line x1="310.2" y1="125.4" x2="313" y2="125.4" stroke="#3a3a3a" stroke-width="1"/>
<text x="308.3" y="129.14999999999998" font-size="10.8" text-anchor="end" font-weight="normal" fill="#1c1c1c" >20</text>
<line x1="310.2" y1="85.1" x2="313" y2="85.1" stroke="#3a3a3a" stroke-width="1"/>
<text x="308.3" y="88.85" font-size="10.8" text-anchor="end" font-weight="normal" fill="#1c1c1c" >30</text>
<line x1="310.2" y1="44.8" x2="313" y2="44.8" stroke="#3a3a3a" stroke-width="1"/>
<text x="308.3" y="48.54999999999998" font-size="10.8" text-anchor="end" font-weight="normal" fill="#1c1c1c" >40</text>
<line x1="313.3" y1="206" x2="313.3" y2="209" stroke="#3a3a3a" stroke-width="1"/>
<text x="313.3" y="219.7" font-size="10.8" text-anchor="middle" font-weight="normal" fill="#1c1c1c" >0</text>
<line x1="346.6" y1="206" x2="346.6" y2="209" stroke="#3a3a3a" stroke-width="1"/>
<text x="346.64" y="219.7" font-size="10.8" text-anchor="middle" font-weight="normal" fill="#1c1c1c" >2</text>
<line x1="380.0" y1="206" x2="380.0" y2="209" stroke="#3a3a3a" stroke-width="1"/>
<text x="379.98" y="219.7" font-size="10.8" text-anchor="middle" font-weight="normal" fill="#1c1c1c" >4</text>
<line x1="413.3" y1="206" x2="413.3" y2="209" stroke="#3a3a3a" stroke-width="1"/>
<text x="413.32000000000005" y="219.7" font-size="10.8" text-anchor="middle" font-weight="normal" fill="#1c1c1c" >6</text>
<line x1="446.7" y1="206" x2="446.7" y2="209" stroke="#3a3a3a" stroke-width="1"/>
<text x="446.66" y="219.7" font-size="10.8" text-anchor="middle" font-weight="normal" fill="#1c1c1c" >8</text>
<line x1="480.0" y1="206" x2="480.0" y2="209" stroke="#3a3a3a" stroke-width="1"/>
<text x="480.0" y="219.7" font-size="10.8" text-anchor="middle" font-weight="normal" fill="#1c1c1c" >10</text>
<text x="400.4" y="236.6" font-size="10.8" text-anchor="middle" font-weight="normal" fill="#1c1c1c" >Time (min)</text>
<text transform="translate(286,122.8) rotate(-90)" font-size="10.8" text-anchor="middle" fill="#1c1c1c">Area (µm<tspan font-size="7" dy="-4">2</tspan><tspan dy="4">)</tspan></text>
<path d="M314.5 160.3V167.4M311.5 160.3h6M311.5 167.4h6" stroke="#222" stroke-width="0.8" fill="none"/>
<path d="M317.3 155.8V163.9M314.3 155.8h6M314.3 163.9h6" stroke="#222" stroke-width="0.8" fill="none"/>
<path d="M320.1 149.0V158.5M317.1 149.0h6M317.1 158.5h6" stroke="#222" stroke-width="0.8" fill="none"/>
<path d="M322.9 142.9V150.3M319.9 142.9h6M319.9 150.3h6" stroke="#222" stroke-width="0.8" fill="none"/>
<path d="M325.7 129.7V138.6M322.7 129.7h6M322.7 138.6h6" stroke="#222" stroke-width="0.8" fill="none"/>
<path d="M328.5 123.8V136.7M325.5 123.8h6M325.5 136.7h6" stroke="#222" stroke-width="0.8" fill="none"/>
<path d="M331.3 119.3V132.0M328.3 119.3h6M328.3 132.0h6" stroke="#222" stroke-width="0.8" fill="none"/>
<path d="M334.1 116.0V128.3M331.1 116.0h6M331.1 128.3h6" stroke="#222" stroke-width="0.8" fill="none"/>
<path d="M336.9 113.8V126.5M333.9 113.8h6M333.9 126.5h6" stroke="#222" stroke-width="0.8" fill="none"/>
<path d="M339.7 107.9V120.5M336.7 107.9h6M336.7 120.5h6" stroke="#222" stroke-width="0.8" fill="none"/>
<path d="M342.5 104.8V118.8M339.5 104.8h6M339.5 118.8h6" stroke="#222" stroke-width="0.8" fill="none"/>
<path d="M345.3 104.5V119.6M342.3 104.5h6M342.3 119.6h6" stroke="#222" stroke-width="0.8" fill="none"/>
<path d="M348.1 101.5V114.1M345.1 101.5h6M345.1 114.1h6" stroke="#222" stroke-width="0.8" fill="none"/>
<path d="M350.9 99.8V116.7M347.9 99.8h6M347.9 116.7h6" stroke="#222" stroke-width="0.8" fill="none"/>
<path d="M353.7 96.5V112.9M350.7 96.5h6M350.7 112.9h6" stroke="#222" stroke-width="0.8" fill="none"/>
<path d="M356.6 92.9V109.8M353.6 92.9h6M353.6 109.8h6" stroke="#222" stroke-width="0.8" fill="none"/>
<path d="M359.4 92.4V107.6M356.4 92.4h6M356.4 107.6h6" stroke="#222" stroke-width="0.8" fill="none"/>
<path d="M362.2 91.3V107.3M359.2 91.3h6M359.2 107.3h6" stroke="#222" stroke-width="0.8" fill="none"/>
<path d="M365.0 87.7V107.5M362.0 87.7h6M362.0 107.5h6" stroke="#222" stroke-width="0.8" fill="none"/>
<path d="M367.8 92.8V107.2M364.8 92.8h6M364.8 107.2h6" stroke="#222" stroke-width="0.8" fill="none"/>
<path d="M370.6 87.9V109.6M367.6 87.9h6M367.6 109.6h6" stroke="#222" stroke-width="0.8" fill="none"/>
<path d="M373.4 87.4V106.8M370.4 87.4h6M370.4 106.8h6" stroke="#222" stroke-width="0.8" fill="none"/>
<path d="M376.2 87.4V106.3M373.2 87.4h6M373.2 106.3h6" stroke="#222" stroke-width="0.8" fill="none"/>
<path d="M379.0 86.8V104.8M376.0 86.8h6M376.0 104.8h6" stroke="#222" stroke-width="0.8" fill="none"/>
<path d="M381.8 84.0V104.6M378.8 84.0h6M378.8 104.6h6" stroke="#222" stroke-width="0.8" fill="none"/>
<path d="M384.6 81.4V103.4M381.6 81.4h6M381.6 103.4h6" stroke="#222" stroke-width="0.8" fill="none"/>
<path d="M387.4 79.5V103.7M384.4 79.5h6M384.4 103.7h6" stroke="#222" stroke-width="0.8" fill="none"/>
<path d="M390.2 79.2V102.2M387.2 79.2h6M387.2 102.2h6" stroke="#222" stroke-width="0.8" fill="none"/>
<path d="M393.0 80.7V106.1M390.0 80.7h6M390.0 106.1h6" stroke="#222" stroke-width="0.8" fill="none"/>
<path d="M395.8 75.8V102.2M392.8 75.8h6M392.8 102.2h6" stroke="#222" stroke-width="0.8" fill="none"/>
<path d="M398.6 76.9V101.9M395.6 76.9h6M395.6 101.9h6" stroke="#222" stroke-width="0.8" fill="none"/>
<path d="M401.4 76.2V103.0M398.4 76.2h6M398.4 103.0h6" stroke="#222" stroke-width="0.8" fill="none"/>
<path d="M404.2 76.3V97.7M401.2 76.3h6M401.2 97.7h6" stroke="#222" stroke-width="0.8" fill="none"/>
<path d="M407.1 73.7V101.9M404.1 73.7h6M404.1 101.9h6" stroke="#222" stroke-width="0.8" fill="none"/>
<path d="M409.9 72.9V92.9M406.9 72.9h6M406.9 92.9h6" stroke="#222" stroke-width="0.8" fill="none"/>
<path d="M412.7 70.4V94.6M409.7 70.4h6M409.7 94.6h6" stroke="#222" stroke-width="0.8" fill="none"/>
<path d="M415.5 72.3V95.6M412.5 72.3h6M412.5 95.6h6" stroke="#222" stroke-width="0.8" fill="none"/>
<path d="M418.3 65.0V95.6M415.3 65.0h6M415.3 95.6h6" stroke="#222" stroke-width="0.8" fill="none"/>
<path d="M421.1 68.0V96.1M418.1 68.0h6M418.1 96.1h6" stroke="#222" stroke-width="0.8" fill="none"/>
<path d="M423.9 65.9V95.8M420.9 65.9h6M420.9 95.8h6" stroke="#222" stroke-width="0.8" fill="none"/>
<path d="M426.7 62.1V94.5M423.7 62.1h6M423.7 94.5h6" stroke="#222" stroke-width="0.8" fill="none"/>
<path d="M429.5 60.0V88.2M426.5 60.0h6M426.5 88.2h6" stroke="#222" stroke-width="0.8" fill="none"/>
<path d="M432.3 59.5V85.6M429.3 59.5h6M429.3 85.6h6" stroke="#222" stroke-width="0.8" fill="none"/>
<path d="M435.1 59.4V89.9M432.1 59.4h6M432.1 89.9h6" stroke="#222" stroke-width="0.8" fill="none"/>
<path d="M437.9 60.4V85.9M434.9 60.4h6M434.9 85.9h6" stroke="#222" stroke-width="0.8" fill="none"/>
<path d="M440.7 53.9V85.6M437.7 53.9h6M437.7 85.6h6" stroke="#222" stroke-width="0.8" fill="none"/>
<path d="M443.5 56.8V81.0M440.5 56.8h6M440.5 81.0h6" stroke="#222" stroke-width="0.8" fill="none"/>
<path d="M446.3 50.1V78.5M443.3 50.1h6M443.3 78.5h6" stroke="#222" stroke-width="0.8" fill="none"/>
<path d="M449.1 45.1V82.4M446.1 45.1h6M446.1 82.4h6" stroke="#222" stroke-width="0.8" fill="none"/>
<path d="M451.9 50.2V81.7M448.9 50.2h6M448.9 81.7h6" stroke="#222" stroke-width="0.8" fill="none"/>
<path d="M454.7 47.7V82.4M451.7 47.7h6M451.7 82.4h6" stroke="#222" stroke-width="0.8" fill="none"/>
<path d="M457.6 46.8V80.7M454.6 46.8h6M454.6 80.7h6" stroke="#222" stroke-width="0.8" fill="none"/>
<path d="M460.4 42.5V82.8M457.4 42.5h6M457.4 82.8h6" stroke="#222" stroke-width="0.8" fill="none"/>
<path d="M463.2 45.7V78.6M460.2 45.7h6M460.2 78.6h6" stroke="#222" stroke-width="0.8" fill="none"/>
<path d="M466.0 45.7V76.0M463.0 45.7h6M463.0 76.0h6" stroke="#222" stroke-width="0.8" fill="none"/>
<path d="M468.8 40.8V83.5M465.8 40.8h6M465.8 83.5h6" stroke="#222" stroke-width="0.8" fill="none"/>
<path d="M471.6 42.7V79.0M468.6 42.7h6M468.6 79.0h6" stroke="#222" stroke-width="0.8" fill="none"/>
<path d="M474.4 44.6V79.1M471.4 44.6h6M471.4 79.1h6" stroke="#222" stroke-width="0.8" fill="none"/>
<path d="M477.2 44.3V72.6M474.2 44.3h6M474.2 72.6h6" stroke="#222" stroke-width="0.8" fill="none"/>
<path d="M480.0 37.6V76.8M477.0 37.6h6M477.0 76.8h6" stroke="#222" stroke-width="0.8" fill="none"/>
<circle cx="314.5" cy="163.9" r="4.4" fill="#fff" stroke="#1a1a1a" stroke-width="0.9"/>
<circle cx="317.3" cy="159.9" r="4.4" fill="#fff" stroke="#1a1a1a" stroke-width="0.9"/>
<circle cx="320.1" cy="153.7" r="4.4" fill="#fff" stroke="#1a1a1a" stroke-width="0.9"/>
<circle cx="322.9" cy="146.6" r="4.4" fill="#fff" stroke="#1a1a1a" stroke-width="0.9"/>
<circle cx="325.7" cy="134.1" r="4.4" fill="#fff" stroke="#1a1a1a" stroke-width="0.9"/>
<circle cx="328.5" cy="130.3" r="4.4" fill="#fff" stroke="#1a1a1a" stroke-width="0.9"/>
<circle cx="331.3" cy="125.7" r="4.4" fill="#fff" stroke="#1a1a1a" stroke-width="0.9"/>
<circle cx="334.1" cy="122.1" r="4.4" fill="#fff" stroke="#1a1a1a" stroke-width="0.9"/>
<circle cx="336.9" cy="120.2" r="4.4" fill="#fff" stroke="#1a1a1a" stroke-width="0.9"/>
<circle cx="339.7" cy="114.2" r="4.4" fill="#fff" stroke="#1a1a1a" stroke-width="0.9"/>
<circle cx="342.5" cy="111.8" r="4.4" fill="#fff" stroke="#1a1a1a" stroke-width="0.9"/>
<circle cx="345.3" cy="112.0" r="4.4" fill="#fff" stroke="#1a1a1a" stroke-width="0.9"/>
<circle cx="348.1" cy="107.8" r="4.4" fill="#fff" stroke="#1a1a1a" stroke-width="0.9"/>
<circle cx="350.9" cy="108.2" r="4.4" fill="#fff" stroke="#1a1a1a" stroke-width="0.9"/>
<circle cx="353.7" cy="104.7" r="4.4" fill="#fff" stroke="#1a1a1a" stroke-width="0.9"/>
<circle cx="356.6" cy="101.4" r="4.4" fill="#fff" stroke="#1a1a1a" stroke-width="0.9"/>
<circle cx="359.4" cy="100.0" r="4.4" fill="#fff" stroke="#1a1a1a" stroke-width="0.9"/>
<circle cx="362.2" cy="99.3" r="4.4" fill="#fff" stroke="#1a1a1a" stroke-width="0.9"/>
<circle cx="365.0" cy="97.6" r="4.4" fill="#fff" stroke="#1a1a1a" stroke-width="0.9"/>
<circle cx="367.8" cy="100.0" r="4.4" fill="#fff" stroke="#1a1a1a" stroke-width="0.9"/>
<circle cx="370.6" cy="98.7" r="4.4" fill="#fff" stroke="#1a1a1a" stroke-width="0.9"/>
<circle cx="373.4" cy="97.1" r="4.4" fill="#fff" stroke="#1a1a1a" stroke-width="0.9"/>
<circle cx="376.2" cy="96.8" r="4.4" fill="#fff" stroke="#1a1a1a" stroke-width="0.9"/>
<circle cx="379.0" cy="95.8" r="4.4" fill="#fff" stroke="#1a1a1a" stroke-width="0.9"/>
<circle cx="381.8" cy="94.3" r="4.4" fill="#fff" stroke="#1a1a1a" stroke-width="0.9"/>
<circle cx="384.6" cy="92.4" r="4.4" fill="#fff" stroke="#1a1a1a" stroke-width="0.9"/>
<circle cx="387.4" cy="91.6" r="4.4" fill="#fff" stroke="#1a1a1a" stroke-width="0.9"/>
<circle cx="390.2" cy="90.7" r="4.4" fill="#fff" stroke="#1a1a1a" stroke-width="0.9"/>
<circle cx="393.0" cy="93.4" r="4.4" fill="#fff" stroke="#1a1a1a" stroke-width="0.9"/>
<circle cx="395.8" cy="89.0" r="4.4" fill="#fff" stroke="#1a1a1a" stroke-width="0.9"/>
<circle cx="398.6" cy="89.4" r="4.4" fill="#fff" stroke="#1a1a1a" stroke-width="0.9"/>
<circle cx="401.4" cy="89.6" r="4.4" fill="#fff" stroke="#1a1a1a" stroke-width="0.9"/>
<circle cx="404.2" cy="87.0" r="4.4" fill="#fff" stroke="#1a1a1a" stroke-width="0.9"/>
<circle cx="407.1" cy="87.8" r="4.4" fill="#fff" stroke="#1a1a1a" stroke-width="0.9"/>
<circle cx="409.9" cy="82.9" r="4.4" fill="#fff" stroke="#1a1a1a" stroke-width="0.9"/>
<circle cx="412.7" cy="82.5" r="4.4" fill="#fff" stroke="#1a1a1a" stroke-width="0.9"/>
<circle cx="415.5" cy="83.9" r="4.4" fill="#fff" stroke="#1a1a1a" stroke-width="0.9"/>
<circle cx="418.3" cy="80.3" r="4.4" fill="#fff" stroke="#1a1a1a" stroke-width="0.9"/>
<circle cx="421.1" cy="82.0" r="4.4" fill="#fff" stroke="#1a1a1a" stroke-width="0.9"/>
<circle cx="423.9" cy="80.9" r="4.4" fill="#fff" stroke="#1a1a1a" stroke-width="0.9"/>
<circle cx="426.7" cy="78.3" r="4.4" fill="#fff" stroke="#1a1a1a" stroke-width="0.9"/>
<circle cx="429.5" cy="74.1" r="4.4" fill="#fff" stroke="#1a1a1a" stroke-width="0.9"/>
<circle cx="432.3" cy="72.5" r="4.4" fill="#fff" stroke="#1a1a1a" stroke-width="0.9"/>
<circle cx="435.1" cy="74.7" r="4.4" fill="#fff" stroke="#1a1a1a" stroke-width="0.9"/>
<circle cx="437.9" cy="73.1" r="4.4" fill="#fff" stroke="#1a1a1a" stroke-width="0.9"/>
<circle cx="440.7" cy="69.8" r="4.4" fill="#fff" stroke="#1a1a1a" stroke-width="0.9"/>
<circle cx="443.5" cy="68.9" r="4.4" fill="#fff" stroke="#1a1a1a" stroke-width="0.9"/>
<circle cx="446.3" cy="64.3" r="4.4" fill="#fff" stroke="#1a1a1a" stroke-width="0.9"/>
<circle cx="449.1" cy="63.8" r="4.4" fill="#fff" stroke="#1a1a1a" stroke-width="0.9"/>
<circle cx="451.9" cy="66.0" r="4.4" fill="#fff" stroke="#1a1a1a" stroke-width="0.9"/>
<circle cx="454.7" cy="65.0" r="4.4" fill="#fff" stroke="#1a1a1a" stroke-width="0.9"/>
<circle cx="457.6" cy="63.7" r="4.4" fill="#fff" stroke="#1a1a1a" stroke-width="0.9"/>
<circle cx="460.4" cy="62.7" r="4.4" fill="#fff" stroke="#1a1a1a" stroke-width="0.9"/>
<circle cx="463.2" cy="62.2" r="4.4" fill="#fff" stroke="#1a1a1a" stroke-width="0.9"/>
<circle cx="466.0" cy="60.9" r="4.4" fill="#fff" stroke="#1a1a1a" stroke-width="0.9"/>
<circle cx="468.8" cy="62.1" r="4.4" fill="#fff" stroke="#1a1a1a" stroke-width="0.9"/>
<circle cx="471.6" cy="60.8" r="4.4" fill="#fff" stroke="#1a1a1a" stroke-width="0.9"/>
<circle cx="474.4" cy="61.8" r="4.4" fill="#fff" stroke="#1a1a1a" stroke-width="0.9"/>
<circle cx="477.2" cy="58.5" r="4.4" fill="#fff" stroke="#1a1a1a" stroke-width="0.9"/>
<circle cx="480.0" cy="57.2" r="4.4" fill="#fff" stroke="#1a1a1a" stroke-width="0.9"/>
<path d="M314.5 183.5V187.0M311.5 183.5h6M311.5 187.0h6" stroke="#222" stroke-width="0.8" fill="none"/>
<path d="M317.3 177.9V182.1M314.3 177.9h6M314.3 182.1h6" stroke="#222" stroke-width="0.8" fill="none"/>
<path d="M320.1 171.4V175.9M317.1 171.4h6M317.1 175.9h6" stroke="#222" stroke-width="0.8" fill="none"/>
<path d="M322.9 167.5V170.9M319.9 167.5h6M319.9 170.9h6" stroke="#222" stroke-width="0.8" fill="none"/>
<path d="M325.7 163.0V168.7M322.7 163.0h6M322.7 168.7h6" stroke="#222" stroke-width="0.8" fill="none"/>
<path d="M328.5 158.1V164.2M325.5 158.1h6M325.5 164.2h6" stroke="#222" stroke-width="0.8" fill="none"/>
<path d="M331.3 156.3V161.8M328.3 156.3h6M328.3 161.8h6" stroke="#222" stroke-width="0.8" fill="none"/>
<path d="M334.1 152.7V158.7M331.1 152.7h6M331.1 158.7h6" stroke="#222" stroke-width="0.8" fill="none"/>
<path d="M336.9 149.6V154.5M333.9 149.6h6M333.9 154.5h6" stroke="#222" stroke-width="0.8" fill="none"/>
<path d="M339.7 147.0V152.9M336.7 147.0h6M336.7 152.9h6" stroke="#222" stroke-width="0.8" fill="none"/>
<path d="M342.5 142.4V150.2M339.5 142.4h6M339.5 150.2h6" stroke="#222" stroke-width="0.8" fill="none"/>
<path d="M345.3 141.5V149.9M342.3 141.5h6M342.3 149.9h6" stroke="#222" stroke-width="0.8" fill="none"/>
<path d="M348.1 140.3V148.5M345.1 140.3h6M345.1 148.5h6" stroke="#222" stroke-width="0.8" fill="none"/>
<path d="M350.9 140.0V146.3M347.9 140.0h6M347.9 146.3h6" stroke="#222" stroke-width="0.8" fill="none"/>
<path d="M353.7 136.6V144.0M350.7 136.6h6M350.7 144.0h6" stroke="#222" stroke-width="0.8" fill="none"/>
<path d="M356.6 134.8V145.6M353.6 134.8h6M353.6 145.6h6" stroke="#222" stroke-width="0.8" fill="none"/>
<path d="M359.4 133.3V141.7M356.4 133.3h6M356.4 141.7h6" stroke="#222" stroke-width="0.8" fill="none"/>
<path d="M362.2 131.0V140.8M359.2 131.0h6M359.2 140.8h6" stroke="#222" stroke-width="0.8" fill="none"/>
<path d="M365.0 130.9V139.5M362.0 130.9h6M362.0 139.5h6" stroke="#222" stroke-width="0.8" fill="none"/>
<path d="M367.8 127.8V139.1M364.8 127.8h6M364.8 139.1h6" stroke="#222" stroke-width="0.8" fill="none"/>
<path d="M370.6 125.9V138.5M367.6 125.9h6M367.6 138.5h6" stroke="#222" stroke-width="0.8" fill="none"/>
<path d="M373.4 127.3V137.6M370.4 127.3h6M370.4 137.6h6" stroke="#222" stroke-width="0.8" fill="none"/>
<path d="M376.2 127.0V136.5M373.2 127.0h6M373.2 136.5h6" stroke="#222" stroke-width="0.8" fill="none"/>
<path d="M379.0 125.6V136.4M376.0 125.6h6M376.0 136.4h6" stroke="#222" stroke-width="0.8" fill="none"/>
<path d="M381.8 124.2V133.6M378.8 124.2h6M378.8 133.6h6" stroke="#222" stroke-width="0.8" fill="none"/>
<path d="M384.6 122.1V133.7M381.6 122.1h6M381.6 133.7h6" stroke="#222" stroke-width="0.8" fill="none"/>
<path d="M387.4 120.3V135.1M384.4 120.3h6M384.4 135.1h6" stroke="#222" stroke-width="0.8" fill="none"/>
<path d="M390.2 120.4V132.6M387.2 120.4h6M387.2 132.6h6" stroke="#222" stroke-width="0.8" fill="none"/>
<path d="M393.0 118.2V133.1M390.0 118.2h6M390.0 133.1h6" stroke="#222" stroke-width="0.8" fill="none"/>
<path d="M395.8 116.7V133.8M392.8 116.7h6M392.8 133.8h6" stroke="#222" stroke-width="0.8" fill="none"/>
<path d="M398.6 115.1V131.1M395.6 115.1h6M395.6 131.1h6" stroke="#222" stroke-width="0.8" fill="none"/>
<path d="M401.4 113.5V125.0M398.4 113.5h6M398.4 125.0h6" stroke="#222" stroke-width="0.8" fill="none"/>
<path d="M404.2 111.4V125.6M401.2 111.4h6M401.2 125.6h6" stroke="#222" stroke-width="0.8" fill="none"/>
<path d="M407.1 112.2V124.2M404.1 112.2h6M404.1 124.2h6" stroke="#222" stroke-width="0.8" fill="none"/>
<path d="M409.9 111.8V125.4M406.9 111.8h6M406.9 125.4h6" stroke="#222" stroke-width="0.8" fill="none"/>
<path d="M412.7 109.1V123.1M409.7 109.1h6M409.7 123.1h6" stroke="#222" stroke-width="0.8" fill="none"/>
<path d="M415.5 105.8V125.7M412.5 105.8h6M412.5 125.7h6" stroke="#222" stroke-width="0.8" fill="none"/>
<path d="M418.3 106.8V122.6M415.3 106.8h6M415.3 122.6h6" stroke="#222" stroke-width="0.8" fill="none"/>
<path d="M421.1 106.4V123.9M418.1 106.4h6M418.1 123.9h6" stroke="#222" stroke-width="0.8" fill="none"/>
<path d="M423.9 106.3V120.9M420.9 106.3h6M420.9 120.9h6" stroke="#222" stroke-width="0.8" fill="none"/>
<path d="M426.7 102.6V123.2M423.7 102.6h6M423.7 123.2h6" stroke="#222" stroke-width="0.8" fill="none"/>
<path d="M429.5 104.7V119.3M426.5 104.7h6M426.5 119.3h6" stroke="#222" stroke-width="0.8" fill="none"/>
<path d="M432.3 103.5V118.7M429.3 103.5h6M429.3 118.7h6" stroke="#222" stroke-width="0.8" fill="none"/>
<path d="M435.1 101.5V121.7M432.1 101.5h6M432.1 121.7h6" stroke="#222" stroke-width="0.8" fill="none"/>
<path d="M437.9 100.7V118.8M434.9 100.7h6M434.9 118.8h6" stroke="#222" stroke-width="0.8" fill="none"/>
<path d="M440.7 98.9V119.3M437.7 98.9h6M437.7 119.3h6" stroke="#222" stroke-width="0.8" fill="none"/>
<path d="M443.5 100.4V119.0M440.5 100.4h6M440.5 119.0h6" stroke="#222" stroke-width="0.8" fill="none"/>
<path d="M446.3 101.0V117.6M443.3 101.0h6M443.3 117.6h6" stroke="#222" stroke-width="0.8" fill="none"/>
<path d="M449.1 97.2V120.2M446.1 97.2h6M446.1 120.2h6" stroke="#222" stroke-width="0.8" fill="none"/>
<path d="M451.9 97.3V115.4M448.9 97.3h6M448.9 115.4h6" stroke="#222" stroke-width="0.8" fill="none"/>
<path d="M454.7 94.4V121.1M451.7 94.4h6M451.7 121.1h6" stroke="#222" stroke-width="0.8" fill="none"/>
<path d="M457.6 96.2V117.4M454.6 96.2h6M454.6 117.4h6" stroke="#222" stroke-width="0.8" fill="none"/>
<path d="M460.4 95.6V119.2M457.4 95.6h6M457.4 119.2h6" stroke="#222" stroke-width="0.8" fill="none"/>
<path d="M463.2 95.0V117.4M460.2 95.0h6M460.2 117.4h6" stroke="#222" stroke-width="0.8" fill="none"/>
<path d="M466.0 97.8V116.3M463.0 97.8h6M463.0 116.3h6" stroke="#222" stroke-width="0.8" fill="none"/>
<path d="M468.8 96.5V115.1M465.8 96.5h6M465.8 115.1h6" stroke="#222" stroke-width="0.8" fill="none"/>
<path d="M471.6 92.2V120.0M468.6 92.2h6M468.6 120.0h6" stroke="#222" stroke-width="0.8" fill="none"/>
<path d="M474.4 92.8V119.8M471.4 92.8h6M471.4 119.8h6" stroke="#222" stroke-width="0.8" fill="none"/>
<path d="M477.2 91.0V117.2M474.2 91.0h6M474.2 117.2h6" stroke="#222" stroke-width="0.8" fill="none"/>
<path d="M480.0 93.6V114.2M477.0 93.6h6M477.0 114.2h6" stroke="#222" stroke-width="0.8" fill="none"/>
<circle cx="314.5" cy="185.3" r="4.4" fill="#6c6c6c" stroke="#1a1a1a" stroke-width="0.9"/>
<circle cx="317.3" cy="180.0" r="4.4" fill="#6c6c6c" stroke="#1a1a1a" stroke-width="0.9"/>
<circle cx="320.1" cy="173.7" r="4.4" fill="#6c6c6c" stroke="#1a1a1a" stroke-width="0.9"/>
<circle cx="322.9" cy="169.2" r="4.4" fill="#6c6c6c" stroke="#1a1a1a" stroke-width="0.9"/>
<circle cx="325.7" cy="165.9" r="4.4" fill="#6c6c6c" stroke="#1a1a1a" stroke-width="0.9"/>
<circle cx="328.5" cy="161.2" r="4.4" fill="#6c6c6c" stroke="#1a1a1a" stroke-width="0.9"/>
<circle cx="331.3" cy="159.1" r="4.4" fill="#6c6c6c" stroke="#1a1a1a" stroke-width="0.9"/>
<circle cx="334.1" cy="155.7" r="4.4" fill="#6c6c6c" stroke="#1a1a1a" stroke-width="0.9"/>
<circle cx="336.9" cy="152.0" r="4.4" fill="#6c6c6c" stroke="#1a1a1a" stroke-width="0.9"/>
<circle cx="339.7" cy="150.0" r="4.4" fill="#6c6c6c" stroke="#1a1a1a" stroke-width="0.9"/>
<circle cx="342.5" cy="146.3" r="4.4" fill="#6c6c6c" stroke="#1a1a1a" stroke-width="0.9"/>
<circle cx="345.3" cy="145.7" r="4.4" fill="#6c6c6c" stroke="#1a1a1a" stroke-width="0.9"/>
<circle cx="348.1" cy="144.4" r="4.4" fill="#6c6c6c" stroke="#1a1a1a" stroke-width="0.9"/>
<circle cx="350.9" cy="143.1" r="4.4" fill="#6c6c6c" stroke="#1a1a1a" stroke-width="0.9"/>
<circle cx="353.7" cy="140.3" r="4.4" fill="#6c6c6c" stroke="#1a1a1a" stroke-width="0.9"/>
<circle cx="356.6" cy="140.2" r="4.4" fill="#6c6c6c" stroke="#1a1a1a" stroke-width="0.9"/>
<circle cx="359.4" cy="137.5" r="4.4" fill="#6c6c6c" stroke="#1a1a1a" stroke-width="0.9"/>
<circle cx="362.2" cy="135.9" r="4.4" fill="#6c6c6c" stroke="#1a1a1a" stroke-width="0.9"/>
<circle cx="365.0" cy="135.2" r="4.4" fill="#6c6c6c" stroke="#1a1a1a" stroke-width="0.9"/>
<circle cx="367.8" cy="133.5" r="4.4" fill="#6c6c6c" stroke="#1a1a1a" stroke-width="0.9"/>
<circle cx="370.6" cy="132.2" r="4.4" fill="#6c6c6c" stroke="#1a1a1a" stroke-width="0.9"/>
<circle cx="373.4" cy="132.5" r="4.4" fill="#6c6c6c" stroke="#1a1a1a" stroke-width="0.9"/>
<circle cx="376.2" cy="131.8" r="4.4" fill="#6c6c6c" stroke="#1a1a1a" stroke-width="0.9"/>
<circle cx="379.0" cy="131.0" r="4.4" fill="#6c6c6c" stroke="#1a1a1a" stroke-width="0.9"/>
<circle cx="381.8" cy="128.9" r="4.4" fill="#6c6c6c" stroke="#1a1a1a" stroke-width="0.9"/>
<circle cx="384.6" cy="127.9" r="4.4" fill="#6c6c6c" stroke="#1a1a1a" stroke-width="0.9"/>
<circle cx="387.4" cy="127.7" r="4.4" fill="#6c6c6c" stroke="#1a1a1a" stroke-width="0.9"/>
<circle cx="390.2" cy="126.5" r="4.4" fill="#6c6c6c" stroke="#1a1a1a" stroke-width="0.9"/>
<circle cx="393.0" cy="125.6" r="4.4" fill="#6c6c6c" stroke="#1a1a1a" stroke-width="0.9"/>
<circle cx="395.8" cy="125.2" r="4.4" fill="#6c6c6c" stroke="#1a1a1a" stroke-width="0.9"/>
<circle cx="398.6" cy="123.1" r="4.4" fill="#6c6c6c" stroke="#1a1a1a" stroke-width="0.9"/>
<circle cx="401.4" cy="119.2" r="4.4" fill="#6c6c6c" stroke="#1a1a1a" stroke-width="0.9"/>
<circle cx="404.2" cy="118.5" r="4.4" fill="#6c6c6c" stroke="#1a1a1a" stroke-width="0.9"/>
<circle cx="407.1" cy="118.2" r="4.4" fill="#6c6c6c" stroke="#1a1a1a" stroke-width="0.9"/>
<circle cx="409.9" cy="118.6" r="4.4" fill="#6c6c6c" stroke="#1a1a1a" stroke-width="0.9"/>
<circle cx="412.7" cy="116.1" r="4.4" fill="#6c6c6c" stroke="#1a1a1a" stroke-width="0.9"/>
<circle cx="415.5" cy="115.8" r="4.4" fill="#6c6c6c" stroke="#1a1a1a" stroke-width="0.9"/>
<circle cx="418.3" cy="114.7" r="4.4" fill="#6c6c6c" stroke="#1a1a1a" stroke-width="0.9"/>
<circle cx="421.1" cy="115.1" r="4.4" fill="#6c6c6c" stroke="#1a1a1a" stroke-width="0.9"/>
<circle cx="423.9" cy="113.6" r="4.4" fill="#6c6c6c" stroke="#1a1a1a" stroke-width="0.9"/>
<circle cx="426.7" cy="112.9" r="4.4" fill="#6c6c6c" stroke="#1a1a1a" stroke-width="0.9"/>
<circle cx="429.5" cy="112.0" r="4.4" fill="#6c6c6c" stroke="#1a1a1a" stroke-width="0.9"/>
<circle cx="432.3" cy="111.1" r="4.4" fill="#6c6c6c" stroke="#1a1a1a" stroke-width="0.9"/>
<circle cx="435.1" cy="111.6" r="4.4" fill="#6c6c6c" stroke="#1a1a1a" stroke-width="0.9"/>
<circle cx="437.9" cy="109.8" r="4.4" fill="#6c6c6c" stroke="#1a1a1a" stroke-width="0.9"/>
<circle cx="440.7" cy="109.1" r="4.4" fill="#6c6c6c" stroke="#1a1a1a" stroke-width="0.9"/>
<circle cx="443.5" cy="109.7" r="4.4" fill="#6c6c6c" stroke="#1a1a1a" stroke-width="0.9"/>
<circle cx="446.3" cy="109.3" r="4.4" fill="#6c6c6c" stroke="#1a1a1a" stroke-width="0.9"/>
<circle cx="449.1" cy="108.7" r="4.4" fill="#6c6c6c" stroke="#1a1a1a" stroke-width="0.9"/>
<circle cx="451.9" cy="106.3" r="4.4" fill="#6c6c6c" stroke="#1a1a1a" stroke-width="0.9"/>
<circle cx="454.7" cy="107.8" r="4.4" fill="#6c6c6c" stroke="#1a1a1a" stroke-width="0.9"/>
<circle cx="457.6" cy="106.8" r="4.4" fill="#6c6c6c" stroke="#1a1a1a" stroke-width="0.9"/>
<circle cx="460.4" cy="107.4" r="4.4" fill="#6c6c6c" stroke="#1a1a1a" stroke-width="0.9"/>
<circle cx="463.2" cy="106.2" r="4.4" fill="#6c6c6c" stroke="#1a1a1a" stroke-width="0.9"/>
<circle cx="466.0" cy="107.0" r="4.4" fill="#6c6c6c" stroke="#1a1a1a" stroke-width="0.9"/>
<circle cx="468.8" cy="105.8" r="4.4" fill="#6c6c6c" stroke="#1a1a1a" stroke-width="0.9"/>
<circle cx="471.6" cy="106.1" r="4.4" fill="#6c6c6c" stroke="#1a1a1a" stroke-width="0.9"/>
<circle cx="474.4" cy="106.3" r="4.4" fill="#6c6c6c" stroke="#1a1a1a" stroke-width="0.9"/>
<circle cx="477.2" cy="104.1" r="4.4" fill="#6c6c6c" stroke="#1a1a1a" stroke-width="0.9"/>
<circle cx="480.0" cy="103.9" r="4.4" fill="#6c6c6c" stroke="#1a1a1a" stroke-width="0.9"/>
<text x="6.5" y="276.1" font-size="15" text-anchor="start" font-weight="bold" fill="#000" >C</text>
<text x="65.5" y="317.3" font-size="10.7" text-anchor="middle" font-weight="normal" fill="#1c1c1c" textLength="18.3" lengthAdjust="spacingAndGlyphs">PRP</text>
<rect x="26.0" y="319.6" width="71.1" height="71.39999999999998" fill="none" stroke="#555" stroke-width="0.8"/>
<path d="M26.0 391.0v2.2M26.0 391.0h-2.2M31.4 391.0v1.2M26.0 385.6h-1.2M34.5 391.0v1.2M26.0 382.5h-1.2M36.7 391.0v1.2M26.0 380.3h-1.2M38.4 391.0v1.2M26.0 378.5h-1.2M39.8 391.0v1.2M26.0 377.1h-1.2M41.0 391.0v1.2M26.0 375.9h-1.2M42.1 391.0v1.2M26.0 374.9h-1.2M43.0 391.0v1.2M26.0 374.0h-1.2M43.8 391.0v2.2M26.0 373.1h-2.2M49.1 391.0v1.2M26.0 367.8h-1.2M52.3 391.0v1.2M26.0 364.6h-1.2M54.5 391.0v1.2M26.0 362.4h-1.2M56.2 391.0v1.2M26.0 360.7h-1.2M57.6 391.0v1.2M26.0 359.3h-1.2M58.8 391.0v1.2M26.0 358.1h-1.2M59.8 391.0v1.2M26.0 357.0h-1.2M60.7 391.0v1.2M26.0 356.1h-1.2M61.5 391.0v2.2M26.0 355.3h-2.2M66.9 391.0v1.2M26.0 349.9h-1.2M70.0 391.0v1.2M26.0 346.8h-1.2M72.3 391.0v1.2M26.0 344.6h-1.2M74.0 391.0v1.2M26.0 342.8h-1.2M75.4 391.0v1.2M26.0 341.4h-1.2M76.6 391.0v1.2M26.0 340.2h-1.2M77.6 391.0v1.2M26.0 339.2h-1.2M78.5 391.0v1.2M26.0 338.3h-1.2M79.3 391.0v2.2M26.0 337.5h-2.2M84.7 391.0v1.2M26.0 332.1h-1.2M87.8 391.0v1.2M26.0 328.9h-1.2M90.0 391.0v1.2M26.0 326.7h-1.2M91.7 391.0v1.2M26.0 325.0h-1.2M93.2 391.0v1.2M26.0 323.6h-1.2M94.3 391.0v1.2M26.0 322.4h-1.2M95.4 391.0v1.2M26.0 321.3h-1.2M96.3 391.0v1.2M26.0 320.4h-1.2M97.1 391.0v2.2M26.0 319.6h-2.2" stroke="#444" stroke-width="0.6" fill="none"/>
<text x="26.0" y="397.5" font-size="3.6" text-anchor="middle" fill="#888">10<tspan font-size="2.6" dy="-1.3">0</tspan></text>
<text x="23.4" y="392.2" font-size="3.6" text-anchor="end" fill="#888">10<tspan font-size="2.6" dy="-1.3">0</tspan></text>
<text x="43.8" y="397.5" font-size="3.6" text-anchor="middle" fill="#888">10<tspan font-size="2.6" dy="-1.3">1</tspan></text>
<text x="23.4" y="374.3" font-size="3.6" text-anchor="end" fill="#888">10<tspan font-size="2.6" dy="-1.3">1</tspan></text>
<text x="61.5" y="397.5" font-size="3.6" text-anchor="middle" fill="#888">10<tspan font-size="2.6" dy="-1.3">2</tspan></text>
<text x="23.4" y="356.5" font-size="3.6" text-anchor="end" fill="#888">10<tspan font-size="2.6" dy="-1.3">2</tspan></text>
<text x="79.3" y="397.5" font-size="3.6" text-anchor="middle" fill="#888">10<tspan font-size="2.6" dy="-1.3">3</tspan></text>
<text x="23.4" y="338.7" font-size="3.6" text-anchor="end" fill="#888">10<tspan font-size="2.6" dy="-1.3">3</tspan></text>
<text x="97.1" y="397.5" font-size="3.6" text-anchor="middle" fill="#888">10<tspan font-size="2.6" dy="-1.3">4</tspan></text>
<text x="23.4" y="320.8" font-size="3.6" text-anchor="end" fill="#888">10<tspan font-size="2.6" dy="-1.3">4</tspan></text>
<text transform="translate(17.9,354.8) rotate(-90)" font-size="10.2" text-anchor="middle" fill="#1c1c1c" textLength="16.2" lengthAdjust="spacingAndGlyphs">SSC</text>
<text x="62.5" y="406.2" font-size="9" text-anchor="middle" fill="#1c1c1c" textLength="15.2" lengthAdjust="spacingAndGlyphs">FSC</text>
<g filter="url(#b15)">
<ellipse cx="55.5" cy="362.5" rx="21" ry="7.2" transform="rotate(-32 55.5 362.5)" fill="#c6c6c6"/>
<ellipse cx="57.5" cy="361.4" rx="15" ry="5.4" transform="rotate(-31 57.5 361.4)" fill="#a0a0a0"/>
<ellipse cx="33.1" cy="366" rx="1.8" ry="1.5" fill="#c8c8c8"/>
<ellipse cx="32.8" cy="371" rx="1.2" ry="1.2" fill="#d0d0d0"/>
</g>
<ellipse cx="58.4" cy="360.9" rx="12.8" ry="4.9" transform="rotate(-30 58.4 360.9)" fill="#8a8a8a" stroke="#2a2a2a" stroke-width="0.8"/>
<ellipse cx="58.5" cy="361.1" rx="11" ry="4.0" transform="rotate(-30 58.5 361.1)" fill="#555" stroke="#1a1a1a" stroke-width="0.8"/>
<g filter="url(#b1)"><ellipse cx="58.6" cy="361.3" rx="8.6" ry="2.8" transform="rotate(-30 58.6 361.3)" fill="#080808"/></g>
<text x="161.1" y="317.0" font-size="10.7" text-anchor="middle" font-weight="normal" fill="#1c1c1c" textLength="17.6" lengthAdjust="spacingAndGlyphs">TRP</text>
<rect x="125.0" y="319.6" width="71.80000000000001" height="71.19999999999999" fill="none" stroke="#555" stroke-width="0.8"/>
<path d="M125.0 390.8v2.2M125.0 390.8h-2.2M130.4 390.8v1.2M125.0 385.4h-1.2M133.6 390.8v1.2M125.0 382.3h-1.2M135.8 390.8v1.2M125.0 380.1h-1.2M137.5 390.8v1.2M125.0 378.4h-1.2M139.0 390.8v1.2M125.0 376.9h-1.2M140.2 390.8v1.2M125.0 375.8h-1.2M141.2 390.8v1.2M125.0 374.7h-1.2M142.1 390.8v1.2M125.0 373.8h-1.2M142.9 390.8v2.2M125.0 373.0h-2.2M148.4 390.8v1.2M125.0 367.6h-1.2M151.5 390.8v1.2M125.0 364.5h-1.2M153.8 390.8v1.2M125.0 362.3h-1.2M155.5 390.8v1.2M125.0 360.6h-1.2M156.9 390.8v1.2M125.0 359.1h-1.2M158.1 390.8v1.2M125.0 358.0h-1.2M159.2 390.8v1.2M125.0 356.9h-1.2M160.1 390.8v1.2M125.0 356.0h-1.2M160.9 390.8v2.2M125.0 355.2h-2.2M166.3 390.8v1.2M125.0 349.8h-1.2M169.5 390.8v1.2M125.0 346.7h-1.2M171.7 390.8v1.2M125.0 344.5h-1.2M173.4 390.8v1.2M125.0 342.8h-1.2M174.9 390.8v1.2M125.0 341.3h-1.2M176.1 390.8v1.2M125.0 340.2h-1.2M177.1 390.8v1.2M125.0 339.1h-1.2M178.0 390.8v1.2M125.0 338.2h-1.2M178.9 390.8v2.2M125.0 337.4h-2.2M184.3 390.8v1.2M125.0 332.0h-1.2M187.4 390.8v1.2M125.0 328.9h-1.2M189.7 390.8v1.2M125.0 326.7h-1.2M191.4 390.8v1.2M125.0 325.0h-1.2M192.8 390.8v1.2M125.0 323.5h-1.2M194.0 390.8v1.2M125.0 322.4h-1.2M195.1 390.8v1.2M125.0 321.3h-1.2M196.0 390.8v1.2M125.0 320.4h-1.2M196.8 390.8v2.2M125.0 319.6h-2.2" stroke="#444" stroke-width="0.6" fill="none"/>
<text x="125.0" y="397.3" font-size="3.6" text-anchor="middle" fill="#888">10<tspan font-size="2.6" dy="-1.3">0</tspan></text>
<text x="122.4" y="392.0" font-size="3.6" text-anchor="end" fill="#888">10<tspan font-size="2.6" dy="-1.3">0</tspan></text>
<text x="142.9" y="397.3" font-size="3.6" text-anchor="middle" fill="#888">10<tspan font-size="2.6" dy="-1.3">1</tspan></text>
<text x="122.4" y="374.2" font-size="3.6" text-anchor="end" fill="#888">10<tspan font-size="2.6" dy="-1.3">1</tspan></text>
<text x="160.9" y="397.3" font-size="3.6" text-anchor="middle" fill="#888">10<tspan font-size="2.6" dy="-1.3">2</tspan></text>
<text x="122.4" y="356.4" font-size="3.6" text-anchor="end" fill="#888">10<tspan font-size="2.6" dy="-1.3">2</tspan></text>
<text x="178.9" y="397.3" font-size="3.6" text-anchor="middle" fill="#888">10<tspan font-size="2.6" dy="-1.3">3</tspan></text>
<text x="122.4" y="338.6" font-size="3.6" text-anchor="end" fill="#888">10<tspan font-size="2.6" dy="-1.3">3</tspan></text>
<text x="196.8" y="397.3" font-size="3.6" text-anchor="middle" fill="#888">10<tspan font-size="2.6" dy="-1.3">4</tspan></text>
<text x="122.4" y="320.8" font-size="3.6" text-anchor="end" fill="#888">10<tspan font-size="2.6" dy="-1.3">4</tspan></text>
<text transform="translate(115.3,354.0) rotate(-90)" font-size="10.2" text-anchor="middle" fill="#1c1c1c" textLength="16.2" lengthAdjust="spacingAndGlyphs">SSC</text>
<text x="160.4" y="406.2" font-size="9" text-anchor="middle" fill="#1c1c1c" textLength="15.2" lengthAdjust="spacingAndGlyphs">FSC</text>
<g filter="url(#b15)">
<path d="M130 386 L129.5 372 Q133 366 138.5 368.5 L141 372 Q137 378 131 386Z" fill="#d0d0d0"/>
<path d="M143 373 Q146 368 152 365 L158 361 L167 353 L172 355 L171 361 Q162 364 155 367 L147 373Z" fill="#adadad"/>
<path d="M148 370 Q156 364 168 357" stroke="#a4a4a4" stroke-width="2.5" fill="none"/>
<path fill-rule="evenodd" fill="#a2a2a2" d="M168 358 Q166.5 345 168.5 333 Q171 324 178 324 Q186 324.5 187.5 334 Q189 345 186 355 Q183 362 176 362 Z M171.3 337.3 a5 7 0 1 0 10 0 a5 7 0 1 0 -10 0Z"/>
<path d="M185 330 Q188 340 186 352" stroke="#909090" stroke-width="3" fill="none"/>
<ellipse cx="179" cy="353" rx="7.5" ry="9.5" fill="#8e8e8e"/>
</g>
<ellipse cx="178.5" cy="354.3" rx="5.5" ry="7.4" transform="rotate(-10 178.5 354.3)" fill="#b0b0b0" stroke="#222" stroke-width="0.9"/>
<g filter="url(#b1)"><ellipse cx="178" cy="354.6" rx="2.4" ry="5" transform="rotate(-8 178 354.6)" fill="#000"/></g>
<text x="270.1" y="317.7" font-size="8.6" text-anchor="middle" font-weight="normal" fill="#1c1c1c" textLength="67.3" lengthAdjust="spacingAndGlyphs">AP-2 positive cells</text>
<rect x="234.5" y="320.2" width="70.4" height="70.4" fill="none" stroke="#666" stroke-width="0.7"/>
<path d="M234.5 320.2V390.6H304.9" fill="none" stroke="#333" stroke-width="0.9"/>
<path d="M234.5 390.5h-2M234.5 387.1h-1.1M234.5 383.8h-1.1M234.5 380.4h-1.1M234.5 377.0h-2M234.5 373.6h-1.1M234.5 370.3h-1.1M234.5 366.9h-1.1M234.5 363.5h-2M234.5 360.2h-1.1M234.5 356.8h-1.1M234.5 353.4h-1.1M234.5 350.1h-2M234.5 346.7h-1.1M234.5 343.3h-1.1M234.5 339.9h-1.1M234.5 336.6h-2M234.5 333.2h-1.1M234.5 329.8h-1.1M234.5 326.5h-1.1M234.5 323.1h-2M234.5 390.6v1.8M236.8 390.6v1M239.2 390.6v1M241.5 390.6v1M243.9 390.6v1M246.2 390.6v1M248.6 390.6v1.8M250.9 390.6v1M253.3 390.6v1M255.6 390.6v1M258.0 390.6v1M260.3 390.6v1M262.7 390.6v1.8M265.0 390.6v1M267.4 390.6v1M269.7 390.6v1M272.0 390.6v1M274.4 390.6v1M276.7 390.6v1.8M279.1 390.6v1M281.4 390.6v1M283.8 390.6v1M286.1 390.6v1M288.5 390.6v1M290.8 390.6v1.8M293.2 390.6v1M295.5 390.6v1M297.9 390.6v1M300.2 390.6v1M302.6 390.6v1M304.9 390.6v1.8" stroke="#444" stroke-width="0.5" fill="none"/>
<text x="231.2" y="391.8" font-size="3.8" text-anchor="end" fill="#555">0</text>
<text x="231.2" y="378.3" font-size="3.8" text-anchor="end" fill="#555">20</text>
<text x="231.2" y="364.8" font-size="3.8" text-anchor="end" fill="#555">40</text>
<text x="231.2" y="351.4" font-size="3.8" text-anchor="end" fill="#555">60</text>
<text x="231.2" y="337.9" font-size="3.8" text-anchor="end" fill="#555">80</text>
<text x="231.2" y="324.4" font-size="3.8" text-anchor="end" fill="#555">100</text>
<text transform="translate(220.9,350.2) rotate(-90)" font-size="8" text-anchor="middle" fill="#1c1c1c" textLength="18.4" lengthAdjust="spacingAndGlyphs">cell #</text>
<path d="M255 390.5 L262 390.2 Q265 386 267 381 Q270 374 272 368 Q275 356 277 341 Q278 329 279.3 323.4 Q281 326 281.6 332 Q282.6 342 283.5 352 Q284.6 366 286.5 376 Q288.8 385 292 388.6 Q294 390 296 390.4 L300 390.5" fill="none" stroke="#222" stroke-width="0.9"/>
<path d="M272 390.5 L275.3 389.6 Q277.5 386 279 378 Q280.5 364 281.6 350 Q283 334 285.2 323.4 Q286.7 327 287.6 337 Q288.6 350 289.6 362 Q290.8 376 292.2 384 Q293.5 389 296 390.3 L299 390.5" fill="none" stroke="#8a8a8a" stroke-width="0.9"/>
<text x="269" y="404.6" font-size="8.4" text-anchor="middle" fill="#1c1c1c" textLength="66.5" lengthAdjust="spacingAndGlyphs"><tspan font-family="Liberation Serif">α</tspan><tspan font-size="5" dy="1.5">2b</tspan><tspan font-family="Liberation Serif" dy="-1.5">β</tspan><tspan font-size="5" dy="1.5">3</tspan><tspan dy="-1.5"> (AP-2 binding)</tspan></text>
<line x1="311.5" y1="349.5" x2="320.8" y2="349.5" stroke="#222" stroke-width="1.2"/>
<line x1="311.5" y1="359.2" x2="320.8" y2="359.2" stroke="#888" stroke-width="1.2"/>
<text x="324.6" y="351.6" font-size="7.4" text-anchor="start" font-weight="normal" fill="#1c1c1c" textLength="44.3" lengthAdjust="spacingAndGlyphs">thrombocytes</text>
<text x="324.6" y="360.4" font-size="7.4" text-anchor="start" font-weight="normal" fill="#1c1c1c" textLength="27" lengthAdjust="spacingAndGlyphs">platelets</text>
<text x="356.2" y="275.7" font-size="15" text-anchor="start" font-weight="bold" fill="#000" >D</text>
<rect x="417.5" y="286.3" width="98.5" height="132.2" fill="none" stroke="#333" stroke-width="0.9"/>
<text x="415.3" y="421.2" font-size="7.6" text-anchor="end" fill="#1c1c1c">0</text>
<text x="415.3" y="406.5" font-size="7.6" text-anchor="end" fill="#1c1c1c">100</text>
<text x="415.3" y="391.8" font-size="7.6" text-anchor="end" fill="#1c1c1c">200</text>
<text x="415.3" y="377.1" font-size="7.6" text-anchor="end" fill="#1c1c1c">300</text>
<text x="415.3" y="362.4" font-size="7.6" text-anchor="end" fill="#1c1c1c">400</text>
<text x="415.3" y="347.8" font-size="7.6" text-anchor="end" fill="#1c1c1c">500</text>
<text x="415.3" y="333.1" font-size="7.6" text-anchor="end" fill="#1c1c1c">600</text>
<text x="415.3" y="318.4" font-size="7.6" text-anchor="end" fill="#1c1c1c">700</text>
<text x="415.3" y="303.7" font-size="7.6" text-anchor="end" fill="#1c1c1c">800</text>
<text x="415.3" y="289.0" font-size="7.6" text-anchor="end" fill="#1c1c1c">900</text>
<path d="M417.5 418.5h-2.2M417.5 403.8h-2.2M417.5 389.1h-2.2M417.5 374.4h-2.2M417.5 359.7h-2.2M417.5 345.1h-2.2M417.5 330.4h-2.2M417.5 315.7h-2.2M417.5 301.0h-2.2M417.5 286.3h-2.2" stroke="#333" stroke-width="0.8"/>
<line x1="446.8" y1="303.2" x2="446.8" y2="322.6" stroke="#333" stroke-width="1.1"/>
<line x1="444.8" y1="303.2" x2="448.8" y2="303.2" stroke="#333" stroke-width="0.9"/>
<line x1="486.4" y1="354.5" x2="486.4" y2="371.1" stroke="#333" stroke-width="1.1"/>
<line x1="484.4" y1="354.5" x2="488.4" y2="354.5" stroke="#333" stroke-width="0.9"/>
<rect x="437.3" y="322.6" width="20" height="95.9" fill="#505050" stroke="#1a1a1a" stroke-width="1"/>
<rect x="477.8" y="371.1" width="20" height="47.4" fill="#a8a8a8" stroke="#1a1a1a" stroke-width="1"/>
<text x="445.2" y="425.2" font-size="7.4" text-anchor="middle" font-weight="normal" fill="#1c1c1c" textLength="27" lengthAdjust="spacingAndGlyphs">platelets</text>
<text x="491.8" y="425.2" font-size="7.4" text-anchor="middle" font-weight="normal" fill="#1c1c1c" textLength="44.5" lengthAdjust="spacingAndGlyphs">thrombocytes</text>
<text transform="translate(395.4,355.9) rotate(-90)" font-size="11" text-anchor="middle" fill="#1c1c1c">MFI <tspan font-family="Liberation Serif" font-size="11.5">α</tspan><tspan font-size="6" dy="2">2b</tspan><tspan font-family="Liberation Serif" font-size="11.5" dy="-2">β</tspan><tspan font-size="6" dy="2">3</tspan><tspan dy="-2"> integrin</tspan></text>
<text x="6.6" y="455" font-size="15" text-anchor="start" font-weight="bold" fill="#000" >E</text>
<text x="106" y="465.5" font-size="10.9" text-anchor="middle" font-weight="normal" fill="#1c1c1c" >platelets</text>
<text x="244.1" y="465.5" font-size="11.05" text-anchor="middle" font-weight="normal" fill="#1c1c1c" >platelets + eptifibatide</text>
<text x="382.6" y="465.5" font-size="10.9" text-anchor="middle" font-weight="normal" fill="#1c1c1c" >thrombocytes</text>
<defs><clipPath id="c1"><rect x="41.5" y="472.2" width="133.9" height="90.2"/></clipPath><clipPath id="c2"><rect x="179.2" y="472.1" width="132.3" height="90.5"/></clipPath><clipPath id="c3"><rect x="316.2" y="472.1" width="132.7" height="89.8"/></clipPath><filter id="noise" x="0" y="0" width="100%" height="100%"><feTurbulence type="fractalNoise" baseFrequency="0.9" numOctaves="2" seed="3"/><feColorMatrix type="matrix" values="0 0 0 0 0  0 0 0 0 0  0 0 0 0 0  1 0 0 0 -0.3"/></filter><filter id="tex1" x="0" y="0" width="100%" height="100%" color-interpolation-filters="sRGB"><feTurbulence type="fractalNoise" baseFrequency="0.22" numOctaves="3" seed="4" result="n"/><feDiffuseLighting in="n" surfaceScale="3" diffuseConstant="1" lighting-color="#fff" result="l"><feDistantLight azimuth="225" elevation="50"/></feDiffuseLighting><feColorMatrix in="n" type="matrix" values="0 0 0 1 0  0 0 0 1 0  0 0 0 1 0  0 0 0 0 1" result="h"/><feComposite in="l" in2="h" operator="arithmetic" k1="1.6" k2="0" k3="0" k4="-0.05"/><feColorMatrix type="matrix" values="1 0 0 0 0  0 1 0 0 0  0 0 1 0 0  0 0 0 0 1"/></filter><filter id="grain" x="0" y="0" width="100%" height="100%" color-interpolation-filters="sRGB"><feTurbulence type="fractalNoise" baseFrequency="0.6" numOctaves="2" seed="9"/><feColorMatrix type="matrix" values="0 0 0 0 0.5  0 0 0 0 0.5  0 0 0 0 0.5  1.2 0 0 0 -0.5"/></filter><filter id="cell" x="-30%" y="-30%" width="160%" height="160%" color-interpolation-filters="sRGB"><feGaussianBlur in="SourceAlpha" stdDeviation="1.1" result="b"/><feTurbulence type="fractalNoise" baseFrequency="0.45" numOctaves="2" seed="6" result="n"/><feComposite in="n" in2="b" operator="arithmetic" k1="0" k2="0.45" k3="0.9" k4="-0.22" result="bb"/><feDiffuseLighting in="bb" surfaceScale="4" diffuseConstant="1.15" lighting-color="#fff" result="l"><feDistantLight azimuth="235" elevation="42"/></feDiffuseLighting><feComposite in="l" in2="SourceGraphic" operator="arithmetic" k1="1.3" k2="0" k3="0" k4="0.02" result="m"/><feComposite in="m" in2="SourceAlpha" operator="in"/></filter><filter id="cell3" x="-30%" y="-30%" width="160%" height="160%" color-interpolation-filters="sRGB"><feGaussianBlur in="SourceAlpha" stdDeviation="1.3" result="b"/><feTurbulence type="fractalNoise" baseFrequency="0.5" numOctaves="2" seed="8" result="n"/><feComposite in="n" in2="b" operator="arithmetic" k1="0" k2="0.35" k3="0.9" k4="-0.17" result="bb"/><feDiffuseLighting in="bb" surfaceScale="4.5" diffuseConstant="1.2" lighting-color="#fff" result="l"><feDistantLight azimuth="235" elevation="45"/></feDiffuseLighting><feComposite in="l" in2="SourceGraphic" operator="arithmetic" k1="1.2" k2="0" k3="0" k4="0.02" result="m"/><feComposite in="m" in2="SourceAlpha" operator="in"/></filter><filter id="bgtex" x="0" y="0" width="100%" height="100%" color-interpolation-filters="sRGB"><feTurbulence type="fractalNoise" baseFrequency="0.5" numOctaves="2" seed="2"/><feDiffuseLighting surfaceScale="1.5" diffuseConstant="1" lighting-color="#fff"><feDistantLight azimuth="225" elevation="55"/></feDiffuseLighting></filter><filter id="bgtex2" x="0" y="0" width="100%" height="100%" color-interpolation-filters="sRGB"><feTurbulence type="fractalNoise" baseFrequency="0.9" numOctaves="2" seed="12"/><feDiffuseLighting surfaceScale="1.2" diffuseConstant="1" lighting-color="#fff"><feDistantLight azimuth="225" elevation="55"/></feDiffuseLighting></filter><filter id="soft" x="-10%" y="-10%" width="120%" height="120%"><feGaussianBlur stdDeviation="1.5"/></filter><filter id="b03" x="-50%" y="-50%" width="200%" height="200%"><feGaussianBlur stdDeviation="0.3"/></filter><filter id="b04" x="-50%" y="-50%" width="200%" height="200%"><feGaussianBlur stdDeviation="0.5"/></filter></defs>
<g clip-path="url(#c1)">
<rect x="41.5" y="472.2" width="133.9" height="90.19999999999999" fill="#262626"/>
<rect x="41.5" y="472.2" width="133.9" height="90.19999999999999" filter="url(#bgtex2)" opacity="0.06"/>
<g fill="#484848" filter="url(#soft)"><ellipse cx="152" cy="479" rx="20" ry="7"/><ellipse cx="120" cy="555" rx="25" ry="7"/><ellipse cx="60" cy="478" rx="14" ry="5"/></g>
<path d="M43 472 L55 488 M64 474 L72 488 M48 548 L60 562 M61.2 540 L61.2 552 M81.4 540 L74.6 548 M100.2 542.6 L88 560 M130 562 L150 548 M160 560 L172 548 M140 550 L128 562 M110 548 Q115 555 112 562 M168 552 L176 556 M150 474 L165 488 M138 476 L146 490" stroke="#5e5e5e" stroke-width="0.8" fill="none"/>
<circle cx="49" cy="477.4" r="2.2" fill="#a8a8a8" filter="url(#b04)"/>
<defs><mask id="agg" maskUnits="userSpaceOnUse" x="0" y="400" width="520" height="167"><path d="M41.5 488.0L49.0 487.5L57.0 485.5L68.0 487.0L73.3 482.8L80.0 482.0L85.4 477.4L86.8 471.0L131.6 471.0L133.0 489.5L146.4 493.5L157.0 489.5L166.6 486.8L177.0 485.5L177.0 548.0L160.0 550.6L150.0 548.0L139.0 546.0L125.0 545.0L111.0 542.6L100.2 538.5L92.1 537.2L85.4 539.9L80.0 540.6L73.3 537.2L65.2 533.0L57.2 531.8L49.0 534.5L46.0 544.0L40.0 544.0L40.0 531.0L45.0 530.0L45.5 492.0Z" fill="#fff" filter="url(#b1)"/></mask></defs>
<g mask="url(#agg)"><rect x="41.5" y="472.2" width="133.9" height="90.19999999999999" filter="url(#tex1)"/>
<g opacity="0.75" filter="url(#b03)"><circle cx="165.3" cy="514.2" r="1.2" fill="#d0d0d0"/><circle cx="66.2" cy="518.4" r="1.3" fill="#dddddd"/><circle cx="54.1" cy="499.6" r="0.8" fill="#dedede"/><circle cx="129.1" cy="527.7" r="0.9" fill="#aaaaaa"/><circle cx="112.3" cy="477.6" r="0.9" fill="#b9b9b9"/><circle cx="45.5" cy="514.0" r="1.1" fill="#e0e0e0"/><circle cx="111.0" cy="530.0" r="1.2" fill="#d5d5d5"/><circle cx="102.7" cy="497.3" r="1.7" fill="#eaeaea"/><circle cx="154.0" cy="536.0" r="1.0" fill="#b8b8b8"/><circle cx="144.1" cy="508.3" r="1.5" fill="#c3c3c3"/><circle cx="169.8" cy="548.6" r="0.7" fill="#b7b7b7"/><circle cx="163.4" cy="514.6" r="1.7" fill="#c3c3c3"/><circle cx="51.3" cy="529.0" r="1.5" fill="#bbbbbb"/><circle cx="53.2" cy="502.2" r="1.6" fill="#dbdbdb"/><circle cx="57.3" cy="494.4" r="0.8" fill="#adadad"/><circle cx="59.0" cy="530.3" r="0.8" fill="#c5c5c5"/><circle cx="70.0" cy="496.5" r="1.7" fill="#dedede"/><circle cx="69.7" cy="507.8" r="1.5" fill="#d3d3d3"/><circle cx="70.1" cy="495.5" r="1.5" fill="#bfbfbf"/><circle cx="53.6" cy="524.8" r="1.0" fill="#d1d1d1"/><circle cx="91.3" cy="513.1" r="1.6" fill="#c9c9c9"/><circle cx="163.1" cy="546.0" r="1.0" fill="#b6b6b6"/><circle cx="159.6" cy="526.6" r="1.1" fill="#b0b0b0"/><circle cx="73.4" cy="535.8" r="1.0" fill="#dfdfdf"/><circle cx="50.7" cy="492.8" r="1.3" fill="#e1e1e1"/><circle cx="164.3" cy="490.6" r="0.7" fill="#bbbbbb"/><circle cx="101.2" cy="477.7" r="0.9" fill="#c1c1c1"/><circle cx="118.1" cy="484.1" r="1.1" fill="#e3e3e3"/><circle cx="172.8" cy="531.5" r="1.4" fill="#cfcfcf"/><circle cx="106.1" cy="538.1" r="1.0" fill="#eaeaea"/><circle cx="51.6" cy="521.5" r="1.4" fill="#e4e4e4"/><circle cx="140.2" cy="535.7" r="1.5" fill="#e5e5e5"/><circle cx="88.6" cy="534.0" r="1.6" fill="#e2e2e2"/><circle cx="157.1" cy="523.9" r="1.3" fill="#c2c2c2"/><circle cx="119.5" cy="527.1" r="0.8" fill="#d3d3d3"/><circle cx="139.9" cy="524.6" r="1.1" fill="#e0e0e0"/><circle cx="45.5" cy="526.4" r="1.2" fill="#b8b8b8"/><circle cx="81.8" cy="533.4" r="0.9" fill="#b5b5b5"/><circle cx="162.8" cy="531.7" r="1.1" fill="#e3e3e3"/><circle cx="85.3" cy="532.3" r="0.9" fill="#c6c6c6"/><circle cx="159.4" cy="506.9" r="1.3" fill="#bebebe"/><circle cx="59.7" cy="517.0" r="1.5" fill="#e1e1e1"/><circle cx="78.6" cy="487.5" r="1.2" fill="#bbbbbb"/><circle cx="70.2" cy="509.5" r="1.3" fill="#cacaca"/><circle cx="173.0" cy="513.0" r="0.8" fill="#acacac"/><circle cx="136.4" cy="523.7" r="1.0" fill="#dddddd"/><circle cx="102.4" cy="474.4" r="1.5" fill="#b9b9b9"/><circle cx="125.9" cy="531.3" r="1.5" fill="#e8e8e8"/><circle cx="133.2" cy="490.2" r="1.2" fill="#b5b5b5"/><circle cx="78.0" cy="503.4" r="1.4" fill="#cbcbcb"/><circle cx="123.8" cy="540.4" r="1.1" fill="#dddddd"/><circle cx="166.4" cy="537.4" r="0.8" fill="#c7c7c7"/><circle cx="92.0" cy="523.5" r="1.6" fill="#dddddd"/><circle cx="167.9" cy="514.0" r="1.3" fill="#b7b7b7"/><circle cx="127.4" cy="536.9" r="0.9" fill="#e4e4e4"/><circle cx="156.1" cy="503.6" r="0.8" fill="#c6c6c6"/><circle cx="115.2" cy="541.5" r="1.2" fill="#ababab"/><circle cx="110.7" cy="537.5" r="1.5" fill="#d6d6d6"/><circle cx="168.1" cy="516.6" r="1.6" fill="#afafaf"/><circle cx="71.1" cy="519.7" r="1.0" fill="#d9d9d9"/><circle cx="154.5" cy="522.7" r="1.0" fill="#c2c2c2"/><circle cx="171.2" cy="519.5" r="1.3" fill="#b7b7b7"/><circle cx="122.5" cy="474.7" r="1.7" fill="#cbcbcb"/><circle cx="77.5" cy="514.9" r="0.8" fill="#c6c6c6"/><circle cx="67.1" cy="527.9" r="1.6" fill="#b2b2b2"/><circle cx="67.5" cy="492.7" r="1.4" fill="#bebebe"/><circle cx="89.1" cy="528.1" r="0.8" fill="#d9d9d9"/><circle cx="57.9" cy="518.2" r="1.0" fill="#b6b6b6"/><circle cx="91.8" cy="509.5" r="1.2" fill="#b4b4b4"/><circle cx="68.9" cy="529.1" r="1.3" fill="#cccccc"/><circle cx="155.5" cy="527.4" r="1.5" fill="#b9b9b9"/><circle cx="140.7" cy="545.3" r="1.6" fill="#bebebe"/><circle cx="152.9" cy="510.2" r="1.5" fill="#b2b2b2"/><circle cx="95.4" cy="534.0" r="0.7" fill="#b7b7b7"/><circle cx="109.2" cy="540.6" r="1.2" fill="#d6d6d6"/><circle cx="117.7" cy="485.4" r="0.9" fill="#b7b7b7"/><circle cx="85.3" cy="514.3" r="1.2" fill="#c5c5c5"/><circle cx="122.0" cy="473.4" r="1.4" fill="#e0e0e0"/><circle cx="65.8" cy="513.1" r="1.4" fill="#c4c4c4"/><circle cx="67.6" cy="487.1" r="1.2" fill="#ababab"/><circle cx="161.1" cy="544.5" r="1.4" fill="#e1e1e1"/><circle cx="173.1" cy="544.8" r="1.0" fill="#e5e5e5"/><circle cx="141.2" cy="542.4" r="1.5" fill="#c4c4c4"/><circle cx="134.5" cy="541.4" r="1.5" fill="#c4c4c4"/><circle cx="87.3" cy="514.5" r="0.7" fill="#c1c1c1"/><circle cx="127.0" cy="528.5" r="0.9" fill="#e7e7e7"/><circle cx="175.4" cy="530.1" r="1.4" fill="#dbdbdb"/><circle cx="123.9" cy="538.8" r="1.0" fill="#c4c4c4"/><circle cx="48.3" cy="489.8" r="1.1" fill="#b0b0b0"/><circle cx="171.0" cy="523.4" r="1.7" fill="#d3d3d3"/><circle cx="121.5" cy="540.7" r="0.8" fill="#e6e6e6"/><circle cx="62.9" cy="514.8" r="0.9" fill="#cacaca"/><circle cx="123.3" cy="477.5" r="1.6" fill="#c5c5c5"/><circle cx="90.5" cy="498.0" r="1.3" fill="#cecece"/><circle cx="79.5" cy="536.8" r="1.0" fill="#aaaaaa"/><circle cx="171.8" cy="494.2" r="1.2" fill="#e6e6e6"/><circle cx="172.6" cy="545.9" r="1.3" fill="#b1b1b1"/><circle cx="112.2" cy="483.4" r="1.1" fill="#d5d5d5"/><circle cx="102.5" cy="495.8" r="1.3" fill="#c5c5c5"/><circle cx="145.7" cy="520.1" r="1.7" fill="#e7e7e7"/><circle cx="139.8" cy="493.7" r="0.8" fill="#e4e4e4"/><circle cx="146.5" cy="528.6" r="1.1" fill="#bbbbbb"/><circle cx="120.7" cy="529.3" r="1.4" fill="#b6b6b6"/><circle cx="77.8" cy="510.6" r="1.3" fill="#b0b0b0"/><circle cx="114.0" cy="478.7" r="0.8" fill="#d5d5d5"/><circle cx="115.2" cy="529.1" r="1.1" fill="#c9c9c9"/><circle cx="69.7" cy="503.2" r="1.4" fill="#e0e0e0"/><circle cx="149.8" cy="528.5" r="1.5" fill="#b7b7b7"/><circle cx="98.3" cy="495.5" r="1.5" fill="#c1c1c1"/><circle cx="85.1" cy="521.7" r="1.4" fill="#e5e5e5"/><circle cx="133.3" cy="499.2" r="1.5" fill="#aeaeae"/><circle cx="70.1" cy="531.9" r="0.8" fill="#bdbdbd"/><circle cx="138.6" cy="534.8" r="1.0" fill="#b3b3b3"/><circle cx="89.4" cy="537.7" r="1.1" fill="#b1b1b1"/><circle cx="136.5" cy="523.5" r="1.6" fill="#e7e7e7"/><circle cx="163.8" cy="511.7" r="1.5" fill="#bdbdbd"/><circle cx="84.0" cy="508.2" r="1.6" fill="#e4e4e4"/><circle cx="74.7" cy="504.8" r="1.1" fill="#c1c1c1"/><circle cx="94.5" cy="507.2" r="0.9" fill="#cecece"/><circle cx="148.2" cy="521.0" r="1.5" fill="#cecece"/><circle cx="159.5" cy="497.6" r="0.7" fill="#cbcbcb"/><circle cx="170.9" cy="530.9" r="1.5" fill="#aeaeae"/><circle cx="52.8" cy="529.4" r="0.9" fill="#dadada"/><circle cx="128.4" cy="494.3" r="0.9" fill="#dbdbdb"/><circle cx="111.3" cy="541.2" r="1.1" fill="#bfbfbf"/><circle cx="171.2" cy="532.8" r="1.2" fill="#cccccc"/><circle cx="138.0" cy="536.1" r="1.6" fill="#c4c4c4"/><circle cx="152.1" cy="532.3" r="1.5" fill="#dedede"/><circle cx="169.7" cy="530.0" r="1.2" fill="#d8d8d8"/><circle cx="148.9" cy="510.2" r="1.1" fill="#b3b3b3"/><circle cx="91.8" cy="487.3" r="0.9" fill="#c5c5c5"/><circle cx="49.4" cy="500.0" r="0.8" fill="#d4d4d4"/><circle cx="49.8" cy="513.6" r="1.3" fill="#e5e5e5"/><circle cx="66.2" cy="491.8" r="0.9" fill="#d8d8d8"/><circle cx="121.1" cy="492.4" r="0.9" fill="#bcbcbc"/><circle cx="83.2" cy="521.7" r="1.5" fill="#c9c9c9"/><circle cx="163.9" cy="503.1" r="1.2" fill="#e8e8e8"/><circle cx="106.1" cy="492.1" r="0.8" fill="#e7e7e7"/><circle cx="148.8" cy="506.9" r="1.2" fill="#cbcbcb"/><circle cx="129.5" cy="493.6" r="0.7" fill="#c8c8c8"/><circle cx="137.0" cy="526.9" r="0.9" fill="#b4b4b4"/><circle cx="84.6" cy="495.6" r="1.6" fill="#cbcbcb"/><circle cx="77.2" cy="520.4" r="0.9" fill="#dcdcdc"/><circle cx="154.8" cy="546.4" r="0.8" fill="#bbbbbb"/><circle cx="169.4" cy="525.1" r="1.5" fill="#bdbdbd"/><circle cx="147.2" cy="509.8" r="1.6" fill="#afafaf"/><circle cx="83.2" cy="500.2" r="0.8" fill="#bdbdbd"/><circle cx="104.1" cy="536.7" r="1.1" fill="#d6d6d6"/><circle cx="55.7" cy="507.8" r="1.2" fill="#e8e8e8"/><circle cx="152.6" cy="531.2" r="0.7" fill="#c2c2c2"/><circle cx="136.6" cy="493.6" r="1.3" fill="#c7c7c7"/><circle cx="91.8" cy="520.9" r="1.0" fill="#bfbfbf"/><circle cx="94.0" cy="532.3" r="1.0" fill="#b6b6b6"/><circle cx="139.4" cy="501.9" r="1.6" fill="#cecece"/><circle cx="138.4" cy="502.1" r="1.5" fill="#afafaf"/><circle cx="132.2" cy="536.1" r="0.9" fill="#c4c4c4"/><circle cx="153.6" cy="525.7" r="0.8" fill="#b8b8b8"/><circle cx="96.0" cy="478.8" r="1.6" fill="#c5c5c5"/><circle cx="110.0" cy="530.6" r="1.5" fill="#dfdfdf"/><circle cx="93.2" cy="502.1" r="1.1" fill="#ababab"/><circle cx="95.2" cy="535.3" r="1.7" fill="#dddddd"/><circle cx="129.9" cy="527.1" r="0.7" fill="#bfbfbf"/><circle cx="87.3" cy="530.9" r="0.8" fill="#c2c2c2"/><circle cx="152.0" cy="527.4" r="0.9" fill="#dbdbdb"/><circle cx="162.4" cy="521.7" r="1.1" fill="#cacaca"/><circle cx="173.6" cy="518.7" r="1.4" fill="#e0e0e0"/><circle cx="125.5" cy="490.1" r="0.8" fill="#b9b9b9"/><circle cx="118.7" cy="535.1" r="1.0" fill="#e6e6e6"/><circle cx="89.9" cy="514.0" r="0.8" fill="#e9e9e9"/><circle cx="151.0" cy="526.5" r="0.8" fill="#dfdfdf"/><circle cx="73.8" cy="523.9" r="1.5" fill="#b6b6b6"/><circle cx="114.9" cy="479.1" r="0.8" fill="#b5b5b5"/><circle cx="131.4" cy="538.7" r="1.1" fill="#d0d0d0"/><circle cx="68.2" cy="514.4" r="0.9" fill="#c3c3c3"/><circle cx="117.8" cy="487.9" r="1.2" fill="#bbbbbb"/><circle cx="127.4" cy="475.6" r="1.4" fill="#b3b3b3"/><circle cx="170.0" cy="526.3" r="1.2" fill="#c4c4c4"/><circle cx="125.0" cy="534.4" r="1.4" fill="#dadada"/><circle cx="139.5" cy="526.1" r="1.4" fill="#bdbdbd"/><circle cx="121.0" cy="478.5" r="0.8" fill="#c7c7c7"/><circle cx="48.5" cy="534.9" r="1.2" fill="#b9b9b9"/><circle cx="82.5" cy="507.9" r="0.9" fill="#aeaeae"/><circle cx="58.1" cy="520.7" r="1.6" fill="#aaaaaa"/><circle cx="74.2" cy="499.2" r="1.0" fill="#aeaeae"/><circle cx="161.4" cy="545.8" r="1.1" fill="#c1c1c1"/><circle cx="119.9" cy="476.3" r="0.7" fill="#e4e4e4"/><circle cx="82.7" cy="517.2" r="1.6" fill="#e9e9e9"/><circle cx="104.8" cy="490.8" r="1.0" fill="#e5e5e5"/><circle cx="161.6" cy="489.8" r="1.5" fill="#c1c1c1"/><circle cx="104.8" cy="487.7" r="1.6" fill="#eaeaea"/><circle cx="68.5" cy="529.2" r="0.9" fill="#e3e3e3"/><circle cx="138.7" cy="500.4" r="1.6" fill="#e2e2e2"/><circle cx="101.1" cy="479.3" r="0.9" fill="#bdbdbd"/><circle cx="65.7" cy="493.4" r="1.4" fill="#dddddd"/><circle cx="91.4" cy="531.9" r="1.6" fill="#d0d0d0"/><circle cx="72.2" cy="499.3" r="1.6" fill="#d5d5d5"/><circle cx="78.6" cy="529.9" r="0.8" fill="#e9e9e9"/><circle cx="112.6" cy="476.3" r="1.3" fill="#bcbcbc"/><circle cx="53.2" cy="497.9" r="1.4" fill="#b9b9b9"/><circle cx="78.9" cy="521.6" r="0.9" fill="#e4e4e4"/><circle cx="108.4" cy="488.4" r="1.3" fill="#d3d3d3"/><circle cx="89.7" cy="531.6" r="1.5" fill="#cbcbcb"/><circle cx="168.9" cy="487.9" r="1.5" fill="#b4b4b4"/><circle cx="122.9" cy="493.4" r="1.1" fill="#dcdcdc"/><circle cx="146.8" cy="543.6" r="0.9" fill="#c9c9c9"/><circle cx="71.1" cy="524.5" r="1.2" fill="#acacac"/><circle cx="121.4" cy="536.7" r="1.3" fill="#e2e2e2"/><circle cx="147.5" cy="493.7" r="0.9" fill="#bebebe"/><circle cx="47.2" cy="500.6" r="1.3" fill="#cccccc"/><circle cx="76.9" cy="525.3" r="0.8" fill="#dfdfdf"/><circle cx="64.5" cy="495.2" r="0.9" fill="#d6d6d6"/><circle cx="152.8" cy="543.2" r="0.8" fill="#c4c4c4"/><circle cx="90.3" cy="491.7" r="1.7" fill="#acacac"/><circle cx="107.0" cy="540.9" r="1.7" fill="#b3b3b3"/><circle cx="46.8" cy="493.9" r="1.6" fill="#b3b3b3"/><circle cx="94.1" cy="499.1" r="1.1" fill="#aeaeae"/><circle cx="143.7" cy="538.4" r="0.9" fill="#bababa"/><circle cx="115.4" cy="494.0" r="1.2" fill="#e6e6e6"/><circle cx="90.2" cy="502.6" r="1.7" fill="#d1d1d1"/><circle cx="46.8" cy="508.6" r="1.3" fill="#adadad"/><circle cx="87.5" cy="534.9" r="1.5" fill="#d0d0d0"/><circle cx="160.2" cy="513.9" r="1.1" fill="#e0e0e0"/><circle cx="70.3" cy="503.5" r="0.9" fill="#cdcdcd"/><circle cx="63.4" cy="490.6" r="0.9" fill="#c8c8c8"/><circle cx="82.8" cy="512.5" r="1.7" fill="#d6d6d6"/><circle cx="157.0" cy="490.7" r="1.1" fill="#aeaeae"/><circle cx="65.9" cy="495.9" r="1.1" fill="#e6e6e6"/><circle cx="137.3" cy="496.4" r="1.1" fill="#b3b3b3"/><circle cx="166.9" cy="504.6" r="1.5" fill="#d9d9d9"/><circle cx="84.6" cy="506.9" r="0.8" fill="#e3e3e3"/><circle cx="111.0" cy="477.2" r="1.1" fill="#b9b9b9"/><circle cx="121.2" cy="475.1" r="1.0" fill="#c5c5c5"/><circle cx="114.3" cy="484.5" r="1.4" fill="#bababa"/><circle cx="138.6" cy="532.3" r="0.9" fill="#b7b7b7"/><circle cx="79.0" cy="536.5" r="1.1" fill="#c3c3c3"/><circle cx="157.5" cy="492.6" r="1.0" fill="#c0c0c0"/><circle cx="172.1" cy="499.1" r="1.4" fill="#e5e5e5"/><circle cx="70.4" cy="534.4" r="1.4" fill="#e8e8e8"/><circle cx="157.8" cy="493.4" r="1.3" fill="#afafaf"/><circle cx="49.5" cy="506.8" r="1.0" fill="#cacaca"/><circle cx="79.0" cy="486.5" r="1.1" fill="#c8c8c8"/><circle cx="63.8" cy="532.2" r="1.0" fill="#b0b0b0"/><circle cx="87.3" cy="510.3" r="0.9" fill="#cfcfcf"/><circle cx="93.9" cy="505.1" r="0.8" fill="#c4c4c4"/><circle cx="48.8" cy="516.9" r="1.3" fill="#c8c8c8"/><circle cx="85.1" cy="495.1" r="0.7" fill="#c0c0c0"/><circle cx="160.9" cy="523.2" r="1.0" fill="#d5d5d5"/><circle cx="66.4" cy="514.5" r="1.3" fill="#e8e8e8"/><circle cx="90.1" cy="524.2" r="1.6" fill="#dcdcdc"/><circle cx="125.5" cy="528.2" r="1.1" fill="#c5c5c5"/><circle cx="159.3" cy="506.6" r="1.6" fill="#acacac"/><circle cx="59.7" cy="517.9" r="1.0" fill="#c1c1c1"/><circle cx="67.3" cy="492.8" r="1.4" fill="#b9b9b9"/><circle cx="94.2" cy="493.8" r="1.2" fill="#d4d4d4"/><circle cx="114.9" cy="528.5" r="1.3" fill="#e0e0e0"/><circle cx="171.2" cy="502.3" r="1.1" fill="#e3e3e3"/></g>
<g filter="url(#soft)"><ellipse cx="62" cy="508" rx="14" ry="18" fill="#fff" opacity="0.22"/><ellipse cx="160" cy="515" rx="14" ry="20" fill="#fff" opacity="0.2"/><ellipse cx="108" cy="486" rx="22" ry="11" fill="#000" opacity="0.25"/><ellipse cx="128" cy="537" rx="25" ry="6" fill="#000" opacity="0.15"/></g>
</g>
<ellipse cx="118" cy="511.5" rx="24.3" ry="15.7" transform="rotate(-8 118 511.5)" fill="none" stroke="#d0d0d0" stroke-width="2.2" opacity="0.55" filter="url(#b04)"/>
<ellipse cx="118" cy="511.5" rx="22.8" ry="14.2" transform="rotate(-8 118 511.5)" fill="#3a3a3a" filter="url(#b1)"/>
<ellipse cx="106" cy="514.5" rx="6" ry="9" transform="rotate(-8 118 511.5)" fill="#2c2c2c" filter="url(#soft)"/>
<path d="M100 512 Q98 520 104 524 M108 502 Q120 505 135 500" stroke="#555" stroke-width="0.7" fill="none"/>
<rect x="59.8" y="556.4" width="24.9" height="2.2" fill="#fff"/>
</g>
<g clip-path="url(#c2)">
<rect x="179.2" y="472.1" width="132.3" height="90.5" fill="#595959"/>
<rect x="179.2" y="472.1" width="132.3" height="90.5" filter="url(#bgtex2)" opacity="0.10"/>
<g fill="#3c3c3c" opacity="0.5" filter="url(#soft)"><ellipse cx="205" cy="500" rx="12" ry="7"/><ellipse cx="275" cy="545" rx="14" ry="9"/><ellipse cx="285" cy="500" rx="12" ry="7"/><ellipse cx="205" cy="540" rx="10" ry="6"/></g>
<g fill="#7c7c7c" opacity="0.55" filter="url(#soft)"><ellipse cx="222" cy="521.5" rx="22" ry="5.5"/><ellipse cx="200" cy="481" rx="12" ry="7"/><ellipse cx="287" cy="522" rx="20" ry="6"/><ellipse cx="268" cy="540" rx="9" ry="12"/><ellipse cx="192" cy="545" rx="9" ry="5"/><ellipse cx="296" cy="485" rx="10" ry="6"/></g>
<path d="M181.5 487.2 Q186.6 493.6 195.5 491 Q199 489.5 201.8 488.5 M186.6 503.7 Q192 507 201.8 511.3 Q213 512 224.7 508.8 Q235 508 245 509 M214.5 487.2 Q219 492 223.4 495.5 Q233 497 242.5 497.4 Q252 497.5 261.8 499 L306.9 498.4 M227.2 497.4 Q233 500 238.6 503.7 Q242 506 245 508.8 M226 478 Q232 483 237.4 485.3 Q242 487 247 488 M179 490 Q184 488 186.6 493.6 M212 558 L229.8 553 Q238 551 245 550.5 M208 545 Q210 552 212 558 M185 518 Q192 522 201.8 520 Q210 519 220.9 518.8 Q230 520 238.6 520 Q244 521 250 522 M236.7 529.6 m-4.5 0 a4.5 5.7 0 1 0 9 0 a4.5 5.7 0 1 0 -9 0 M204.4 530.2 Q196 538 194.2 544.2 M199 480 Q196 485 196.1 486 M207.6 473.9 Q210 476 212.6 478.3 Q216 483 214.5 487.2 M191.7 482.8 Q184 480 180 481 M222 528 Q228 540 232.3 549.3 M245 497.8 Q255 499 268.2 499.7 Q280 503 292 506.8 Q302 509 312 510" stroke="#2e2e2e" stroke-width="1.6" fill="none" opacity="0.5" transform="translate(0.5 0.7)"/>
<path d="M264.3 501.6 Q270 495 277.2 492.6 Q283 487 288.8 484.9 Q293 483 296.5 483 Q300 484 303 487.5 Q306 492 306.2 497.8 Q307 503 305.6 508 Q303 512 299.1 514.5 Q294 518 288 518.5 M252.7 487.5 Q262 483 270.8 482.3 Q280 482 287.5 484.2 M245 522.7 Q250 520 255.3 520.2 Q260 522 264.3 526.6 Q270 531 277.2 533 Q283 528 287.5 525.3 Q292 523 296.5 522.7 Q304 523 312 525.3 M277.2 533 Q281 537 283.7 539.5 Q286 540.5 288.8 540.8 Q294 542 299.1 544.6 Q305 543 312 540.8 M264.3 526.6 Q262 532 261.8 538.2 Q260 543 257.9 547.2 Q255 551 251.4 553.7 Q248 556 245 558.8 M287.5 525.3 Q289 520 294 520.2 Q298 517 300 515 M294 520.2 Q300 522 304 519 Q308 516 312 517 M292 515 Q296 512 299 515 M302 522 Q306 526 310 524 M268.2 499.7 Q265 505 259.2 509.4 Q252 512 246 515 M292 506.8 Q296 516 299.1 514.5 M288.8 540.8 Q292 548 295.3 555 Q298 560 300 563 M260.7 516 Q270 518 277.5 517 Q283 516 288 518.5 M245 508.8 Q252 512 259.2 509.4 M281.1 523.4Q284.8 522.9 290.3 518.8M310.5 538.7Q311.9 543.6 312.9 547.2M253.8 531.7Q251.8 541.2 252.1 547.1M290.6 542.2Q295.0 547.5 297.9 549.0M307.9 518.3Q305.2 518.4 299.5 520.1M299.5 520.1Q294.3 518.1 290.3 518.8M301.3 549.8Q305.7 546.7 312.9 547.2M281.1 523.4Q272.2 523.2 265.0 522.2M307.9 518.3Q297.1 519.3 290.3 518.8M290.6 542.2Q295.3 545.2 301.3 549.8M290.6 542.2Q289.4 538.9 285.7 535.8M297.9 549.0Q303.4 543.8 310.5 538.7M301.3 549.8Q300.4 547.7 297.9 549.0M252.8 522.2Q260.8 520.3 265.0 522.2M269.3 548.8Q261.7 549.3 252.1 547.1M299.5 520.1Q298.5 520.8 301.4 519.3M285.7 535.8Q277.0 542.6 269.3 548.8M281.1 523.4Q281.4 527.8 285.7 535.8M285.7 535.8Q286.7 529.1 290.3 518.8M253.8 531.7Q252.1 528.0 252.8 522.2M253.8 531.7Q261.1 528.7 265.0 522.2M307.9 518.3Q304.0 518.2 301.4 519.3M290.6 542.2Q280.1 546.6 269.3 548.8M301.3 549.8Q304.3 545.2 310.5 538.7M252.8 522.2Q253.7 536.1 252.1 547.1M301.4 519.3Q294.0 520.8 290.3 518.8M297.9 549.0Q303.8 547.5 312.9 547.2" stroke="#2e2e2e" stroke-width="2.4" fill="none" opacity="0.5" transform="translate(0.5 0.7)"/>
<path d="M181.5 487.2 Q186.6 493.6 195.5 491 Q199 489.5 201.8 488.5 M186.6 503.7 Q192 507 201.8 511.3 Q213 512 224.7 508.8 Q235 508 245 509 M214.5 487.2 Q219 492 223.4 495.5 Q233 497 242.5 497.4 Q252 497.5 261.8 499 L306.9 498.4 M227.2 497.4 Q233 500 238.6 503.7 Q242 506 245 508.8 M226 478 Q232 483 237.4 485.3 Q242 487 247 488 M179 490 Q184 488 186.6 493.6 M212 558 L229.8 553 Q238 551 245 550.5 M208 545 Q210 552 212 558 M185 518 Q192 522 201.8 520 Q210 519 220.9 518.8 Q230 520 238.6 520 Q244 521 250 522 M236.7 529.6 m-4.5 0 a4.5 5.7 0 1 0 9 0 a4.5 5.7 0 1 0 -9 0 M204.4 530.2 Q196 538 194.2 544.2 M199 480 Q196 485 196.1 486 M207.6 473.9 Q210 476 212.6 478.3 Q216 483 214.5 487.2 M191.7 482.8 Q184 480 180 481 M222 528 Q228 540 232.3 549.3 M245 497.8 Q255 499 268.2 499.7 Q280 503 292 506.8 Q302 509 312 510" stroke="#b8b8b8" stroke-width="0.8" fill="none" stroke-linecap="round"/>
<path d="M264.3 501.6 Q270 495 277.2 492.6 Q283 487 288.8 484.9 Q293 483 296.5 483 Q300 484 303 487.5 Q306 492 306.2 497.8 Q307 503 305.6 508 Q303 512 299.1 514.5 Q294 518 288 518.5 M252.7 487.5 Q262 483 270.8 482.3 Q280 482 287.5 484.2 M245 522.7 Q250 520 255.3 520.2 Q260 522 264.3 526.6 Q270 531 277.2 533 Q283 528 287.5 525.3 Q292 523 296.5 522.7 Q304 523 312 525.3 M277.2 533 Q281 537 283.7 539.5 Q286 540.5 288.8 540.8 Q294 542 299.1 544.6 Q305 543 312 540.8 M264.3 526.6 Q262 532 261.8 538.2 Q260 543 257.9 547.2 Q255 551 251.4 553.7 Q248 556 245 558.8 M287.5 525.3 Q289 520 294 520.2 Q298 517 300 515 M294 520.2 Q300 522 304 519 Q308 516 312 517 M292 515 Q296 512 299 515 M302 522 Q306 526 310 524 M268.2 499.7 Q265 505 259.2 509.4 Q252 512 246 515 M292 506.8 Q296 516 299.1 514.5 M288.8 540.8 Q292 548 295.3 555 Q298 560 300 563 M260.7 516 Q270 518 277.5 517 Q283 516 288 518.5 M245 508.8 Q252 512 259.2 509.4 M281.1 523.4Q284.8 522.9 290.3 518.8M310.5 538.7Q311.9 543.6 312.9 547.2M253.8 531.7Q251.8 541.2 252.1 547.1M290.6 542.2Q295.0 547.5 297.9 549.0M307.9 518.3Q305.2 518.4 299.5 520.1M299.5 520.1Q294.3 518.1 290.3 518.8M301.3 549.8Q305.7 546.7 312.9 547.2M281.1 523.4Q272.2 523.2 265.0 522.2M307.9 518.3Q297.1 519.3 290.3 518.8M290.6 542.2Q295.3 545.2 301.3 549.8M290.6 542.2Q289.4 538.9 285.7 535.8M297.9 549.0Q303.4 543.8 310.5 538.7M301.3 549.8Q300.4 547.7 297.9 549.0M252.8 522.2Q260.8 520.3 265.0 522.2M269.3 548.8Q261.7 549.3 252.1 547.1M299.5 520.1Q298.5 520.8 301.4 519.3M285.7 535.8Q277.0 542.6 269.3 548.8M281.1 523.4Q281.4 527.8 285.7 535.8M285.7 535.8Q286.7 529.1 290.3 518.8M253.8 531.7Q252.1 528.0 252.8 522.2M253.8 531.7Q261.1 528.7 265.0 522.2M307.9 518.3Q304.0 518.2 301.4 519.3M290.6 542.2Q280.1 546.6 269.3 548.8M301.3 549.8Q304.3 545.2 310.5 538.7M252.8 522.2Q253.7 536.1 252.1 547.1M301.4 519.3Q294.0 520.8 290.3 518.8M297.9 549.0Q303.8 547.5 312.9 547.2" stroke="#dcdcdc" stroke-width="1.5" fill="none" stroke-linecap="round"/>
<path d="M306.0 484.8Q313.4 482.5 325.9 486.3M265.4 503.4Q264.7 503.5 256.7 506.5M258.7 556.5Q255.2 560.7 248.3 572.3M295.8 525.5Q301.0 529.7 300.7 532.6M303.3 542.1Q298.0 543.9 289.5 543.8M213.4 558.7Q221.7 566.9 222.8 572.8M198.0 546.8Q192.3 550.8 193.7 554.2M183.5 555.8Q182.6 563.7 183.2 569.1M300.4 499.9Q301.6 507.2 305.9 513.0M251.1 511.3Q244.3 521.0 244.1 522.8M226.3 511.2Q232.7 520.3 232.0 529.3M232.2 480.8Q228.6 481.0 224.3 483.5M222.6 504.4Q225.6 508.6 228.0 508.1M264.8 490.3Q262.2 495.7 261.0 495.9M301.1 513.8Q295.5 517.5 289.6 519.8M310.3 539.4Q312.2 546.3 311.7 555.5M282.9 546.3Q275.9 555.3 276.5 564.4M263.2 502.9Q269.4 505.1 276.6 511.0M184.7 559.6Q184.2 561.1 188.2 566.5M293.8 488.4Q295.9 488.9 298.6 494.1M224.7 538.6Q212.4 539.7 207.5 542.7M291.5 475.1Q295.7 480.9 301.8 482.7M274.2 514.1Q275.6 513.9 280.8 520.6M267.3 486.4Q256.7 488.9 253.1 491.5M259.1 475.9Q261.3 475.2 259.3 482.3M262.8 561.3Q259.0 560.6 254.6 565.6M224.5 550.3Q220.9 553.1 219.3 553.6M202.4 544.7Q194.8 549.8 189.5 549.3M247.0 489.1Q252.4 492.4 252.3 495.4M271.4 546.1Q266.3 549.4 262.7 546.8" stroke="#8e8e8e" stroke-width="0.6" fill="none"/>
<g filter="url(#b1)" opacity="0.8"><path d="M182.9 494.0L182.6 492.6Q182.4 491.2 182.5 489.8Q182.7 488.5 184.1 487.1Q185.6 485.8 187.4 486.7Q189.2 487.5 190.0 488.4Q190.9 489.2 189.8 491.0Q188.7 492.7 187.1 493.1Q185.4 493.5 184.1 493.7Z" fill="#7b7b7b" stroke="#a0a0a0" stroke-width="0.5"/><path d="M193.6 503.5L193.6 502.6Q193.6 501.7 193.4 500.4Q193.2 499.2 194.7 497.5Q196.2 495.8 197.0 496.1Q197.8 496.4 198.3 497.7Q198.9 499.1 198.6 500.8Q198.4 502.5 197.3 503.3Q196.2 504.0 194.9 503.8Z" fill="#797979" stroke="#a0a0a0" stroke-width="0.5"/><path d="M210.6 492.1L210.0 491.2Q209.3 490.2 209.5 488.1Q209.6 486.0 210.0 485.5Q210.4 484.9 211.8 484.2Q213.1 483.5 214.0 484.7Q214.9 485.8 214.9 487.5Q215.0 489.2 214.2 490.7Q213.3 492.3 212.0 492.2Z" fill="#6f6f6f" stroke="#a0a0a0" stroke-width="0.5"/><path d="M229.1 496.4L228.7 495.3Q228.4 494.2 227.8 492.6Q227.3 491.0 227.7 490.5Q228.2 490.0 229.0 489.2Q229.8 488.5 230.6 489.0Q231.4 489.5 232.3 491.4Q233.1 493.2 232.7 493.7Q232.2 494.2 230.7 495.3Z" fill="#797979" stroke="#a0a0a0" stroke-width="0.5"/><path d="M190.8 515.4L189.4 515.4Q188.0 515.5 187.6 513.7Q187.2 512.0 187.8 510.9Q188.3 509.8 189.2 508.7Q190.1 507.7 191.0 508.6Q191.9 509.6 192.1 510.6Q192.2 511.5 192.2 512.6Q192.1 513.6 191.5 514.5Z" fill="#727272" stroke="#a0a0a0" stroke-width="0.5"/><path d="M207.2 529.7L206.4 528.0Q205.5 526.3 205.7 525.1Q205.9 524.0 208.2 523.0Q210.5 522.1 211.8 522.0Q213.1 522.0 213.5 524.2Q213.8 526.3 213.4 527.4Q213.0 528.5 211.6 529.2Q210.3 530.0 208.7 529.8Z" fill="#7b7b7b" stroke="#a0a0a0" stroke-width="0.5"/><path d="M227.2 533.3L226.0 532.7Q224.7 532.1 224.7 531.1Q224.6 530.2 225.4 528.5Q226.1 526.8 227.3 526.7Q228.5 526.7 229.5 527.2Q230.5 527.8 230.8 529.3Q231.0 530.8 230.2 532.2Q229.4 533.5 228.3 533.4Z" fill="#6d6d6d" stroke="#a0a0a0" stroke-width="0.5"/><path d="M245.9 543.7L244.7 543.7Q243.6 543.7 242.4 542.5Q241.1 541.4 241.0 540.0Q240.9 538.6 242.0 537.7Q243.2 536.7 243.8 536.7Q244.5 536.7 245.5 538.1Q246.5 539.4 246.7 540.2Q246.9 541.0 246.4 542.4Z" fill="#797979" stroke="#a0a0a0" stroke-width="0.5"/><path d="M191.8 538.8L191.0 538.8Q190.1 538.9 188.5 539.0Q186.8 539.1 185.9 538.0Q184.9 536.9 184.6 535.5Q184.2 534.1 185.1 533.3Q186.0 532.5 188.0 532.8Q190.0 533.2 190.6 534.1Q191.3 535.1 191.5 536.9Z" fill="#7a7a7a" stroke="#a0a0a0" stroke-width="0.5"/><path d="M205.1 552.0L204.5 553.3Q203.9 554.7 202.3 554.7Q200.7 554.8 200.0 554.3Q199.3 553.7 199.0 552.5Q198.7 551.2 199.5 550.3Q200.2 549.5 200.9 549.4Q201.6 549.3 203.1 550.0Q204.6 550.7 204.8 551.4Z" fill="#7b7b7b" stroke="#a0a0a0" stroke-width="0.5"/><path d="M216.8 554.0L217.5 552.3Q218.2 550.7 219.0 549.7Q219.7 548.7 222.4 548.8Q225.0 549.0 225.3 549.7Q225.6 550.5 226.0 551.9Q226.4 553.4 224.9 554.1Q223.3 554.7 221.2 555.2Q219.2 555.7 218.0 554.8Z" fill="#6c6c6c" stroke="#a0a0a0" stroke-width="0.5"/><path d="M241.9 480.4L240.8 480.7Q239.8 481.0 238.6 480.2Q237.5 479.4 237.5 478.6Q237.4 477.9 237.4 476.9Q237.4 475.8 238.8 475.1Q240.2 474.4 241.1 475.4Q242.1 476.4 242.9 477.7Q243.6 479.0 242.8 479.7Z" fill="#707070" stroke="#a0a0a0" stroke-width="0.5"/><path d="M259.3 500.8L258.9 501.5Q258.5 502.3 257.3 502.8Q256.1 503.4 254.4 502.6Q252.7 501.8 252.9 500.4Q253.2 499.0 253.8 497.9Q254.3 496.8 255.6 496.8Q256.9 496.8 257.7 497.9Q258.5 498.9 258.9 499.9Z" fill="#6b6b6b" stroke="#a0a0a0" stroke-width="0.5"/><path d="M302.1 543.8L301.3 543.5Q300.6 543.3 299.5 542.6Q298.4 542.0 297.7 540.7Q296.9 539.3 297.0 538.2Q297.2 537.1 298.4 536.5Q299.5 536.0 300.9 537.2Q302.2 538.3 302.6 539.8Q303.0 541.3 302.5 542.5Z" fill="#6e6e6e" stroke="#a0a0a0" stroke-width="0.5"/><path d="M279.2 546.0L278.3 546.9Q277.3 547.8 276.0 547.5Q274.7 547.3 274.1 546.8Q273.5 546.4 272.6 545.0Q271.8 543.6 272.9 543.1Q274.0 542.6 275.2 542.5Q276.4 542.4 278.3 543.6Q280.2 544.7 279.7 545.3Z" fill="#6d6d6d" stroke="#a0a0a0" stroke-width="0.5"/><path d="M255.9 558.6L255.4 559.1Q254.8 559.7 253.1 559.7Q251.3 559.8 250.0 559.4Q248.6 559.1 248.5 558.1Q248.4 557.1 248.9 556.5Q249.5 555.9 250.6 555.8Q251.7 555.6 253.0 556.1Q254.4 556.6 255.1 557.6Z" fill="#696969" stroke="#a0a0a0" stroke-width="0.5"/><path d="M219.8 500.8L219.1 501.6Q218.4 502.4 217.2 502.1Q216.0 501.9 215.3 501.5Q214.6 501.0 214.5 499.7Q214.4 498.4 215.2 497.9Q216.0 497.5 216.7 497.7Q217.4 497.8 218.5 498.8Q219.5 499.8 219.7 500.3Z" fill="#6b6b6b" stroke="#a0a0a0" stroke-width="0.5"/><path d="M236.6 516.1L236.0 516.3Q235.4 516.5 234.3 514.8Q233.3 513.2 233.0 512.2Q232.8 511.3 233.6 510.6Q234.5 509.9 235.9 509.7Q237.4 509.5 238.0 511.1Q238.7 512.8 238.7 513.6Q238.7 514.5 237.6 515.3Z" fill="#6b6b6b" stroke="#a0a0a0" stroke-width="0.5"/></g>
<g fill="none" stroke="#8a8a8a" stroke-width="0.8"><ellipse cx="208" cy="497" rx="3.5" ry="4.5"/><ellipse cx="222.8" cy="534" rx="3" ry="3"/><ellipse cx="259" cy="490.5" rx="3" ry="2.5"/><ellipse cx="202" cy="497" rx="2.5" ry="2.5"/></g>
<path d="M191.8 481.9L184.8 481.7L191.6 483.7ZM191.2 483.6L196.7 485.9L192.2 482.0ZM191.6 481.9L185.5 483.4L191.8 483.7ZM192.5 482.4L188.8 476.1L190.9 483.2ZM197.2 474.8L203.9 475.4L197.6 473.0ZM196.5 473.7L196.3 479.7L198.3 474.1ZM198.1 474.5L201.4 469.5L196.7 473.3ZM197.2 473.0L192.4 474.9L197.6 474.8ZM208.3 474.5L211.9 469.0L206.9 473.3ZM208.4 474.3L209.4 469.8L206.8 473.5ZM207.7 473.0L202.2 473.4L207.5 474.8ZM208.5 473.7L206.8 469.4L206.7 474.1ZM213.3 477.7L209.2 474.4L211.9 478.9ZM212.7 477.4L206.7 477.8L212.5 479.2ZM212.0 478.9L217.4 483.1L213.2 477.7ZM212.8 477.4L206.0 477.0L212.4 479.2ZM211.7 478.1L211.3 483.0L213.5 478.5ZM199.9 480.8L203.0 476.5L198.7 479.6ZM199.9 480.9L203.6 476.4L198.7 479.5ZM198.8 481.0L204.3 483.4L199.8 479.4ZM204.8 485.5L209.3 482.4L204.0 483.9ZM204.6 483.8L199.5 483.5L204.2 485.6ZM203.6 484.4L202.4 490.1L205.2 485.0ZM195.7 485.2L191.0 488.5L196.5 486.8ZM195.2 486.2L197.4 491.0L197.0 485.8ZM195.8 486.8L201.7 488.3L196.4 485.2ZM196.9 485.6L194.2 481.4L195.3 486.4ZM196.4 486.8L200.5 484.1L195.8 485.2ZM223.0 480.9L222.2 474.1L221.2 480.9ZM222.3 480.0L216.1 479.7L221.9 481.8ZM222.8 480.4L218.3 476.0L221.4 481.4ZM238.2 484.9L233.9 477.6L236.6 485.7ZM237.1 486.2L245.4 487.9L237.7 484.4ZM224.3 495.7L224.6 490.1L222.5 495.3ZM224.1 496.0L227.9 489.6L222.7 495.0ZM224.0 496.2L228.5 490.7L222.8 494.8ZM224.2 495.9L226.0 489.6L222.6 495.1ZM223.4 496.4L230.2 495.9L223.4 494.6ZM239.1 503.8L242.3 500.3L238.1 502.4ZM239.4 503.5L241.0 498.4L237.8 502.7ZM224.6 507.4L230.0 513.9L226.0 506.4ZM226.0 507.5L231.1 500.0L224.6 506.3ZM225.2 507.8L232.7 507.3L225.4 506.0ZM224.6 506.3L219.4 513.2L226.0 507.5ZM224.4 507.1L226.8 513.7L226.2 506.7ZM185.0 500.4L179.5 499.3L184.4 502.0ZM184.8 500.3L177.9 500.1L184.6 502.1ZM185.6 500.9L183.2 496.2L183.8 501.5ZM184.9 500.3L179.2 500.1L184.5 502.1ZM184.7 500.3L178.3 500.9L184.7 502.1ZM180.8 506.1L185.9 511.5L182.2 505.1ZM181.1 504.8L176.7 508.2L181.9 506.4ZM181.4 504.7L174.8 506.6L181.6 506.5ZM180.6 505.7L182.1 512.0L182.4 505.5ZM181.2 504.7L176.3 507.3L181.8 506.5ZM205.3 499.1L203.2 494.9L203.5 499.5ZM203.7 498.7L200.0 504.3L205.1 499.9ZM205.0 498.7L200.5 495.2L203.8 499.9ZM204.1 498.5L199.2 501.1L204.7 500.1ZM204.2 500.2L210.0 500.4L204.6 498.4ZM183.7 519.1L177.7 522.0L184.3 520.9ZM183.5 519.2L178.4 523.5L184.5 520.8ZM183.7 519.2L177.6 522.4L184.3 520.8ZM183.6 519.2L177.9 522.8L184.4 520.8ZM184.3 520.9L189.1 518.4L183.7 519.1ZM181.9 526.2L181.8 531.4L183.7 526.6ZM183.3 525.6L178.2 523.7L182.3 527.2ZM183.6 525.9L179.2 520.8L182.0 526.9ZM202.4 519.4L198.3 516.4L201.2 520.6ZM201.1 520.6L204.6 523.1L202.5 519.4ZM202.5 519.4L198.0 515.2L201.1 520.6ZM201.2 520.7L205.4 523.4L202.4 519.3ZM200.9 520.1L202.6 525.3L202.7 519.9ZM209.1 518.8L208.1 513.3L207.3 518.8ZM207.3 518.6L207.0 524.9L209.1 519.0ZM207.3 518.8L208.0 524.8L209.1 518.8ZM208.5 517.9L202.9 517.0L207.9 519.7ZM212.8 519.9L207.9 523.9L213.8 521.5ZM212.4 520.4L211.5 526.7L214.2 521.0ZM213.2 521.6L218.7 521.4L213.4 519.8ZM221.6 519.4L224.7 514.3L220.2 518.2ZM221.2 518.0L215.0 516.6L220.6 519.6ZM220.2 518.2L215.9 524.0L221.6 519.4ZM227.9 519.5L224.0 515.8L226.5 520.5ZM228.0 519.7L225.2 514.4L226.4 520.3ZM228.0 520.5L229.3 516.7L226.4 519.5ZM232.0 520.4L227.9 522.7L232.6 522.2ZM232.0 520.4L227.5 522.8L232.6 522.2ZM231.9 522.1L236.6 523.2L232.7 520.5ZM232.8 520.6L227.5 518.0L231.8 522.0ZM231.6 520.8L229.3 525.9L233.0 521.8ZM239.2 520.7L244.7 514.7L238.0 519.3ZM238.2 519.2L232.0 523.2L239.0 520.8ZM204.3 529.3L197.8 531.1L204.5 531.1ZM203.6 529.8L201.9 534.8L205.2 530.6ZM204.0 529.4L199.5 532.8L204.8 531.0ZM205.1 530.7L207.5 526.2L203.7 529.7ZM203.8 530.9L210.0 534.7L205.0 529.5ZM222.4 528.6L227.9 525.9L221.8 526.8ZM222.9 528.1L224.9 521.3L221.3 527.3ZM221.2 527.6L221.4 534.4L223.0 527.8ZM221.8 528.5L228.9 530.1L222.4 526.9ZM222.7 533.1L215.9 535.0L222.9 534.9ZM223.1 534.8L227.8 531.9L222.5 533.2ZM221.9 533.7L220.8 540.4L223.7 534.3ZM221.9 533.8L221.3 539.8L223.7 534.2ZM181.2 543.9L188.4 545.1L181.8 542.1ZM180.9 543.7L186.7 547.3L182.1 542.3ZM193.4 543.7L190.0 550.6L195.0 544.7ZM194.5 543.4L187.3 541.7L193.9 545.0ZM194.8 543.6L188.1 538.1L193.6 544.8ZM193.7 543.4L188.6 547.7L194.7 545.0ZM193.3 544.3L195.1 552.4L195.1 544.1ZM196.3 548.7L202.5 552.1L197.3 547.3ZM197.3 548.7L202.6 543.6L196.3 547.3ZM232.8 548.5L226.4 545.7L231.8 550.1ZM231.4 549.2L231.4 555.3L233.2 549.4ZM209.9 557.6L207.5 563.5L211.5 558.6ZM211.4 558.6L213.5 553.9L210.0 557.6ZM211.5 557.6L206.9 552.4L209.9 558.6ZM240.8 555.6L240.0 550.2L239.0 555.6ZM239.5 556.4L244.7 557.7L240.3 554.8ZM239.0 555.6L239.9 562.3L240.8 555.6ZM260.3 476.9L253.1 479.5L260.7 478.7ZM261.4 477.8L260.3 470.5L259.6 477.8ZM275.7 478.1L278.3 483.3L277.5 477.5ZM275.7 477.5L275.3 482.2L277.5 478.1ZM277.2 477.1L273.0 474.4L276.0 478.5ZM276.1 477.1L271.2 481.4L277.1 478.5ZM276.3 476.9L271.5 479.4L276.9 478.7ZM296.9 474.1L299.3 479.8L298.7 473.7ZM297.1 473.4L295.4 477.6L298.5 474.4ZM298.7 473.7L296.2 467.5L296.9 474.1ZM296.9 474.0L298.5 479.3L298.7 473.8ZM296.9 474.1L299.0 480.0L298.7 473.7ZM293.5 481.3L289.4 475.3L291.9 482.1ZM293.1 480.9L286.2 478.1L292.3 482.5ZM291.8 481.6L291.7 489.0L293.6 481.8ZM299.9 488.2L304.1 490.0L300.9 486.8ZM301.0 486.9L295.9 483.1L299.8 488.1ZM300.0 488.3L305.8 490.2L300.8 486.7ZM253.2 486.7L246.9 483.8L252.2 488.3ZM252.8 486.6L245.5 486.6L252.6 488.4ZM252.6 486.6L245.8 488.3L252.8 488.4ZM259.8 490.0L263.7 493.1L261.2 488.8ZM260.0 488.7L255.4 493.0L261.0 490.1ZM261.4 489.5L261.2 484.4L259.6 489.3ZM261.4 489.5L261.4 482.9L259.6 489.3ZM269.0 500.2L272.2 493.2L267.4 499.2ZM267.4 500.1L271.0 505.5L269.0 499.3ZM267.3 499.6L267.6 505.9L269.1 499.8ZM267.9 500.5L273.4 501.8L268.5 498.9ZM267.8 498.9L262.1 502.6L268.6 500.5ZM271.3 504.7L264.0 501.4L270.3 506.3ZM270.2 506.2L275.6 509.9L271.4 504.8ZM291.4 507.5L297.2 511.7L292.6 506.1ZM292.5 506.0L285.6 503.0L291.5 507.6ZM260.0 509.8L262.2 503.6L258.4 509.0ZM259.6 508.6L252.3 506.4L258.8 510.2ZM258.4 509.8L262.0 514.6L260.0 509.0ZM259.9 510.0L263.2 505.1L258.5 508.8ZM292.3 499.2L292.4 493.4L290.5 498.8ZM291.2 499.9L297.1 500.6L291.6 498.1ZM292.1 499.6L294.4 495.5L290.7 498.4ZM292.2 498.6L289.0 494.5L290.6 499.4ZM260.4 541.1L253.9 542.9L260.6 542.9ZM260.3 541.1L255.9 543.3L260.7 542.9ZM261.3 541.6L257.8 536.2L259.7 542.4ZM259.6 542.0L260.3 546.6L261.4 542.0ZM261.4 542.0L260.6 537.2L259.6 542.0ZM296.2 555.3L297.6 547.4L294.4 554.7ZM295.3 554.1L287.7 555.1L295.3 555.9ZM295.3 554.1L286.9 555.3L295.3 555.9ZM295.2 554.1L286.8 555.7L295.4 555.9ZM294.7 554.4L289.4 560.7L295.9 555.6ZM249.7 546.5L246.2 550.2L250.7 547.9ZM250.5 546.4L244.3 545.1L249.9 548.0ZM305.0 532.3L307.3 527.3L303.6 531.3ZM304.8 531.0L299.2 528.8L303.8 532.6ZM305.2 531.6L302.6 525.7L303.4 532.0ZM304.8 532.5L309.3 528.3L303.8 531.1ZM276.5 532.4L274.3 536.6L277.9 533.6ZM277.7 533.7L280.7 530.5L276.7 532.3ZM277.2 533.9L281.5 532.9L277.2 532.1ZM276.4 532.6L274.5 537.8L278.0 533.4ZM287.1 526.1L293.0 528.3L287.9 524.5ZM288.4 525.4L288.1 520.1L286.6 525.2ZM288.1 525.9L292.8 520.1L286.9 524.7ZM286.6 525.0L285.7 530.5L288.4 525.6ZM254.4 519.9L253.4 526.7L256.2 520.5ZM254.7 519.5L250.1 524.4L255.9 520.9ZM255.9 520.9L259.9 516.2L254.7 519.5ZM254.8 520.9L259.4 523.1L255.8 519.5ZM256.0 519.6L252.0 516.7L254.6 520.8ZM264.6 527.5L270.5 524.7L264.0 525.7ZM263.5 526.9L266.4 532.3L265.1 526.3ZM263.4 526.6L264.6 534.6L265.2 526.6ZM298.5 545.3L303.2 548.4L299.7 543.9ZM298.6 545.4L303.6 547.4L299.6 543.8ZM299.5 545.4L304.6 542.2L298.7 543.8ZM298.7 543.8L293.7 547.2L299.5 545.4ZM245.2 523.6L249.9 521.4L244.8 521.8ZM244.5 521.9L241.0 525.2L245.5 523.5ZM244.8 521.8L240.1 523.6L245.2 523.6ZM244.3 523.2L247.6 526.7L245.7 522.2ZM282.1 551.7L281.0 557.8L283.9 552.3ZM282.2 552.5L285.8 556.6L283.8 551.5ZM282.8 552.9L287.8 552.9L283.2 551.1ZM269.2 557.6L267.7 563.1L270.8 558.4ZM270.1 557.1L265.1 557.5L269.9 558.9ZM270.7 558.5L272.5 554.7L269.3 557.5ZM269.2 558.4L272.2 562.5L270.8 557.6ZM308.7 553.6L312.4 548.4L307.3 552.4ZM307.3 552.4L304.0 557.7L308.7 553.6Z" fill="#b8b8b8" filter="url(#b04)"/>
<g filter="url(#cell)"><path d="M189.9 485.3L188.8 484.3Q187.7 483.3 188.6 482.1Q189.5 480.9 190.4 480.0Q191.4 479.1 192.5 479.4Q193.6 479.6 194.6 480.5Q195.5 481.5 195.2 482.1Q194.9 482.7 194.4 483.7Q193.9 484.6 192.3 485.4Q190.7 486.2 190.3 485.8Z" fill="#d2d2d2"/><path d="M195.0 476.9L194.7 476.1Q194.4 475.3 194.3 474.3Q194.1 473.2 194.8 471.9Q195.5 470.7 197.1 470.2Q198.7 469.6 199.4 470.5Q200.2 471.4 200.1 472.4Q199.9 473.3 199.9 474.8Q199.8 476.3 198.6 477.1Q197.4 477.8 196.2 477.4Z" fill="#a3a3a3"/><path d="M209.7 475.0L209.4 475.7Q209.1 476.5 207.5 476.2Q205.9 475.8 205.8 475.2Q205.6 474.5 205.5 473.6Q205.5 472.8 205.5 472.4Q205.5 471.9 206.8 471.9Q208.1 471.8 208.8 472.3Q209.5 472.9 210.0 473.8Q210.5 474.7 210.1 474.8Z" fill="#c1c1c1"/><path d="M214.9 479.5L214.4 480.2Q213.9 480.9 213.0 481.0Q212.0 481.0 211.1 480.1Q210.2 479.1 210.2 478.1Q210.2 477.2 210.4 476.8Q210.7 476.5 211.2 475.7Q211.7 475.0 213.3 475.6Q214.9 476.2 215.2 477.5Q215.5 478.8 215.2 479.2Z" fill="#d7d7d7"/><path d="M199.1 483.3L198.2 482.9Q197.3 482.6 197.4 481.6Q197.4 480.6 197.3 479.7Q197.2 478.8 198.0 478.3Q198.8 477.8 199.5 478.0Q200.3 478.2 201.0 478.8Q201.7 479.3 201.4 480.0Q201.0 480.6 200.7 481.3Q200.3 481.9 199.7 482.6Z" fill="#cfcfcf"/><path d="M206.0 487.0L205.5 487.4Q205.1 487.9 203.7 487.3Q202.3 486.8 201.7 485.7Q201.1 484.6 201.6 483.5Q202.1 482.4 202.6 482.0Q203.1 481.6 204.4 481.9Q205.8 482.1 206.3 483.1Q206.9 484.2 207.3 484.7Q207.7 485.2 206.9 486.1Z" fill="#cccccc"/><path d="M196.9 489.3L196.2 488.9Q195.5 488.5 194.6 488.0Q193.7 487.5 193.4 486.2Q193.1 484.9 193.5 484.3Q194.0 483.6 195.0 483.4Q196.0 483.2 196.8 483.7Q197.6 484.2 198.3 484.9Q199.0 485.7 199.0 486.6Q199.0 487.5 197.9 488.4Z" fill="#d4d4d4"/><path d="M225.1 481.9L224.2 482.8Q223.3 483.7 222.4 483.4Q221.4 483.0 220.4 482.8Q219.4 482.7 219.2 481.5Q218.9 480.4 219.5 479.6Q220.1 478.7 220.8 478.4Q221.6 478.0 223.1 478.5Q224.7 479.0 224.8 479.6Q225.0 480.2 225.0 481.0Z" fill="#d9d9d9"/><path d="M231.8 486.4L232.8 484.4Q233.7 482.4 234.2 481.7Q234.7 481.0 237.6 480.8Q240.6 480.7 240.9 482.1Q241.2 483.5 241.4 485.0Q241.5 486.6 240.8 487.3Q240.1 488.1 239.4 489.2Q238.7 490.2 237.0 489.3Q235.4 488.4 233.6 487.4Z" fill="#d2d2d2"/><path d="M222.2 498.6L221.2 498.2Q220.2 497.8 220.6 496.8Q220.9 495.8 220.7 494.6Q220.5 493.5 222.1 492.9Q223.8 492.3 224.3 492.2Q224.8 492.1 225.6 492.7Q226.4 493.3 226.4 495.5Q226.3 497.7 225.9 498.4Q225.5 499.0 223.9 498.8Z" fill="#bbbbbb"/><path d="M241.8 504.3L241.2 504.8Q240.5 505.4 239.1 505.8Q237.8 506.2 236.7 505.4Q235.6 504.7 235.9 504.0Q236.1 503.3 236.2 502.1Q236.2 500.8 236.9 500.4Q237.6 499.9 239.0 500.4Q240.4 500.9 241.2 501.9Q242.0 502.9 241.9 503.6Z" fill="#dcdcdc"/><path d="M219.9 507.8L220.4 506.5Q220.9 505.2 222.0 504.5Q223.1 503.7 225.4 503.7Q227.6 503.7 228.4 504.0Q229.2 504.3 229.4 505.3Q229.6 506.4 229.3 508.3Q228.9 510.2 226.7 510.7Q224.4 511.3 223.5 510.7Q222.6 510.1 221.2 508.9Z" fill="#979797"/><path d="M189.1 502.2L187.8 503.0Q186.5 503.8 185.5 504.2Q184.4 504.7 183.8 504.1Q183.2 503.5 181.9 502.6Q180.6 501.6 180.7 500.7Q180.8 499.7 181.6 499.0Q182.5 498.3 184.3 498.0Q186.1 497.8 186.9 499.0Q187.6 500.2 188.4 501.2Z" fill="#bababa"/><path d="M183.6 509.3L182.4 509.3Q181.2 509.3 180.2 508.9Q179.1 508.6 178.3 507.0Q177.4 505.4 178.0 504.8Q178.6 504.1 179.0 503.3Q179.5 502.4 180.8 501.8Q182.0 501.2 183.0 502.4Q184.0 503.6 184.6 504.8Q185.1 506.1 184.4 507.7Z" fill="#c6c6c6"/><path d="M201.6 499.7L201.7 499.0Q201.7 498.2 202.9 497.8Q204.2 497.3 204.7 497.2Q205.2 497.2 206.4 497.6Q207.7 498.1 207.8 498.6Q207.9 499.0 206.9 500.3Q205.8 501.5 204.9 501.8Q204.1 502.2 203.1 501.5Q202.1 500.7 201.9 500.2Z" fill="#dcdcdc"/><path d="M188.1 519.9L187.2 521.4Q186.2 522.8 185.1 522.9Q184.1 523.0 183.4 522.6Q182.8 522.3 181.7 521.2Q180.7 520.2 180.7 519.4Q180.7 518.6 181.6 518.2Q182.4 517.8 183.8 517.6Q185.2 517.4 186.2 517.7Q187.3 518.1 187.7 519.0Z" fill="#b6b6b6"/><path d="M180.7 529.5L180.4 528.4Q180.2 527.2 180.0 526.6Q179.9 526.1 180.7 524.8Q181.5 523.5 182.6 523.3Q183.6 523.0 184.3 523.3Q185.0 523.6 185.4 525.2Q185.8 526.8 185.2 527.7Q184.5 528.7 183.9 528.8Q183.4 529.0 182.0 529.3Z" fill="#e0e0e0"/><path d="M200.9 522.3L200.6 521.8Q200.2 521.2 199.8 520.8Q199.3 520.4 199.7 519.6Q200.0 518.8 201.0 518.3Q201.9 517.8 202.6 517.9Q203.4 518.0 203.5 518.7Q203.6 519.3 203.6 520.5Q203.6 521.7 203.2 522.0Q202.9 522.2 201.9 522.3Z" fill="#c3c3c3"/><path d="M209.7 521.0L209.5 521.4Q209.3 521.9 208.0 521.4Q206.8 520.9 206.2 520.3Q205.6 519.7 205.7 518.3Q205.8 516.9 205.9 516.5Q206.0 516.1 207.3 516.3Q208.5 516.5 209.6 517.1Q210.7 517.7 210.8 518.7Q210.8 519.8 210.2 520.4Z" fill="#9c9c9c"/><path d="M210.7 523.2L210.8 522.3Q210.9 521.4 211.2 520.2Q211.5 519.0 212.3 518.1Q213.2 517.2 214.0 517.3Q214.8 517.4 215.3 518.4Q215.7 519.4 215.7 520.2Q215.7 521.1 214.9 522.1Q214.2 523.1 213.5 523.2Q212.8 523.3 211.7 523.2Z" fill="#b6b6b6"/><path d="M218.2 521.9L217.9 521.0Q217.6 520.1 217.6 518.9Q217.6 517.8 218.3 516.8Q219.1 515.7 220.7 515.7Q222.2 515.7 222.9 516.5Q223.6 517.4 223.6 518.4Q223.6 519.5 223.3 520.2Q223.1 521.0 222.1 521.8Q221.1 522.7 219.7 522.3Z" fill="#a2a2a2"/><path d="M225.8 523.0L225.7 522.4Q225.5 521.7 225.3 520.7Q225.2 519.6 225.6 519.1Q225.9 518.6 226.4 518.2Q226.9 517.8 227.8 517.6Q228.6 517.4 228.9 518.2Q229.1 518.9 229.2 519.7Q229.3 520.5 228.6 521.5Q227.9 522.6 226.9 522.8Z" fill="#dbdbdb"/><path d="M229.0 522.4L229.0 521.1Q229.1 519.9 230.0 519.4Q230.9 519.0 232.2 518.7Q233.5 518.5 234.5 518.9Q235.5 519.3 235.6 520.8Q235.6 522.2 234.6 522.8Q233.6 523.3 232.5 523.4Q231.5 523.6 230.7 523.7Q229.9 523.8 229.4 523.1Z" fill="#aeaeae"/><path d="M242.5 522.2L241.9 523.1Q241.2 524.0 240.0 523.5Q238.8 522.9 237.0 522.9Q235.1 522.9 234.9 521.6Q234.7 520.4 235.1 518.6Q235.5 516.9 236.9 516.7Q238.4 516.4 239.5 516.9Q240.6 517.3 241.5 518.6Q242.3 519.8 242.4 521.0Z" fill="#b8b8b8"/><path d="M208.5 531.3L207.5 531.9Q206.4 532.6 205.7 533.0Q204.9 533.3 203.4 532.9Q201.9 532.4 201.3 531.5Q200.7 530.5 200.7 529.6Q200.6 528.7 202.0 528.1Q203.4 527.5 204.2 527.4Q205.1 527.3 206.4 527.8Q207.7 528.2 208.1 529.8Z" fill="#999999"/><path d="M220.8 532.0L220.0 530.9Q219.2 529.9 218.7 528.4Q218.2 526.9 219.3 525.4Q220.5 523.9 221.2 524.2Q221.9 524.4 223.3 523.9Q224.8 523.3 225.4 525.4Q226.0 527.5 225.5 528.1Q225.0 528.7 224.4 529.9Q223.8 531.1 222.3 531.5Z" fill="#d9d9d9"/><path d="M218.9 534.6L219.3 533.9Q219.8 533.2 220.6 532.5Q221.4 531.8 222.6 531.4Q223.8 531.1 224.7 532.0Q225.5 532.8 225.8 533.4Q226.1 534.0 225.6 534.8Q225.2 535.6 223.8 536.0Q222.4 536.4 221.1 536.5Q219.8 536.6 219.3 535.6Z" fill="#b4b4b4"/><path d="M178.4 546.7L178.0 546.2Q177.5 545.7 177.4 544.1Q177.2 542.6 178.5 541.5Q179.7 540.5 181.0 540.1Q182.2 539.7 183.2 539.9Q184.1 540.2 184.9 541.8Q185.6 543.4 184.6 544.6Q183.5 545.7 182.7 546.3Q181.8 547.0 180.1 546.8Z" fill="#aeaeae"/><path d="M199.1 545.4L198.1 546.5Q197.1 547.6 194.9 547.6Q192.7 547.6 191.2 546.8Q189.7 546.0 189.3 545.1Q189.0 544.1 189.6 542.2Q190.1 540.3 191.3 540.3Q192.5 540.3 194.9 541.0Q197.3 541.7 198.6 543.1Q199.8 544.4 199.5 544.9Z" fill="#c8c8c8"/><path d="M196.2 551.3L194.9 550.5Q193.5 549.7 193.7 548.5Q193.8 547.4 194.5 546.1Q195.1 544.8 196.3 544.4Q197.4 544.1 198.1 544.4Q198.8 544.6 199.3 545.7Q199.8 546.8 199.5 547.7Q199.2 548.5 198.3 549.6Q197.4 550.7 196.8 551.0Z" fill="#d1d1d1"/><path d="M232.1 552.6L231.0 552.0Q229.9 551.3 230.1 550.0Q230.3 548.8 230.5 548.1Q230.7 547.5 231.5 546.7Q232.2 545.9 233.2 546.2Q234.1 546.5 234.6 547.0Q235.1 547.5 234.8 548.7Q234.5 549.9 233.7 551.0Q232.9 552.1 232.5 552.4Z" fill="#a5a5a5"/><path d="M209.3 561.9L208.3 561.4Q207.4 561.0 207.6 559.4Q207.9 557.9 208.5 556.4Q209.2 554.8 210.2 554.2Q211.3 553.6 212.3 554.7Q213.2 555.8 213.8 556.9Q214.4 558.0 214.0 558.5Q213.7 559.1 212.3 560.4Q210.9 561.6 210.1 561.8Z" fill="#dddddd"/><path d="M243.0 558.7L242.0 558.7Q241.1 558.6 239.8 558.8Q238.5 558.9 237.9 557.8Q237.3 556.7 236.8 555.1Q236.3 553.5 236.9 553.0Q237.6 552.4 239.4 552.2Q241.2 552.1 241.8 552.7Q242.5 553.2 242.9 554.6Q243.4 556.0 243.2 557.3Z" fill="#c8c8c8"/><path d="M260.2 481.8L258.7 480.8Q257.3 479.8 257.3 478.7Q257.4 477.6 257.6 476.8Q257.8 476.0 258.7 475.3Q259.6 474.7 260.9 474.5Q262.3 474.4 263.0 475.5Q263.8 476.6 263.6 478.1Q263.3 479.7 262.3 480.2Q261.3 480.8 260.7 481.3Z" fill="#dedede"/><path d="M277.2 481.1L276.4 480.6Q275.7 480.2 274.7 479.1Q273.7 478.0 273.8 476.8Q274.0 475.7 274.6 475.0Q275.3 474.3 276.4 474.6Q277.5 474.8 278.0 475.5Q278.4 476.1 279.0 477.1Q279.6 478.1 279.5 479.0Q279.3 479.9 278.2 480.5Z" fill="#a0a0a0"/><path d="M295.1 475.9L295.0 475.0Q294.9 474.1 295.1 473.3Q295.4 472.5 296.3 472.2Q297.3 472.0 298.5 471.6Q299.7 471.3 300.3 471.7Q300.9 472.1 300.3 473.5Q299.7 474.9 299.0 475.4Q298.4 475.9 297.5 476.2Q296.5 476.5 295.8 476.2Z" fill="#b1b1b1"/><path d="M293.0 486.9L291.8 486.4Q290.6 486.0 290.2 483.6Q289.7 481.3 290.0 480.5Q290.3 479.8 291.2 479.0Q292.0 478.2 293.0 478.2Q294.0 478.1 294.9 478.5Q295.9 478.9 295.8 480.5Q295.7 482.1 295.3 483.4Q294.9 484.8 294.0 485.8Z" fill="#9a9a9a"/><path d="M300.3 491.3L299.4 490.9Q298.6 490.4 298.2 489.0Q297.8 487.7 298.3 486.9Q298.7 486.1 299.3 485.2Q299.8 484.2 300.9 484.4Q302.1 484.5 302.4 485.2Q302.7 485.9 302.8 486.8Q302.8 487.8 302.4 489.1Q302.0 490.3 301.1 490.8Z" fill="#a1a1a1"/><path d="M250.2 491.8L249.6 490.6Q248.9 489.4 249.3 488.0Q249.7 486.6 249.9 485.6Q250.2 484.6 252.0 483.6Q253.9 482.6 254.6 483.2Q255.3 483.9 255.9 485.5Q256.6 487.1 256.4 488.5Q256.1 490.0 254.6 490.4Q253.1 490.7 251.7 491.3Z" fill="#cdcdcd"/><path d="M260.6 492.7L259.4 492.3Q258.3 491.8 258.4 490.6Q258.5 489.5 258.7 488.5Q259.0 487.5 259.5 487.2Q260.1 486.8 261.1 486.6Q262.1 486.4 262.6 487.4Q263.1 488.4 262.9 489.6Q262.7 490.8 262.1 491.4Q261.4 491.9 261.0 492.3Z" fill="#b3b3b3"/><path d="M270.3 503.0L269.6 503.5Q269.0 504.0 267.6 503.1Q266.2 502.1 265.1 501.0Q264.0 499.8 264.4 498.3Q264.8 496.9 265.7 496.4Q266.5 495.9 267.6 496.1Q268.6 496.3 270.0 497.2Q271.3 498.2 271.7 499.1Q272.1 500.0 271.2 501.5Z" fill="#bdbdbd"/><path d="M270.1 510.5L269.0 508.9Q268.0 507.3 267.4 506.0Q266.8 504.6 267.4 503.7Q268.0 502.8 268.9 502.0Q269.9 501.2 271.2 500.9Q272.5 500.6 273.3 502.4Q274.1 504.3 274.3 505.5Q274.6 506.6 273.7 508.2Q272.8 509.8 271.4 510.2Z" fill="#dcdcdc"/><path d="M292.8 509.9L291.9 510.6Q291.0 511.3 290.2 509.8Q289.4 508.3 289.1 506.7Q288.8 505.1 289.3 503.8Q289.8 502.5 290.9 502.3Q291.9 502.1 293.0 502.9Q294.2 503.7 295.0 505.0Q295.9 506.2 295.4 508.4Q295.0 510.5 293.9 510.2Z" fill="#a4a4a4"/><path d="M257.4 513.8L256.4 512.8Q255.3 511.8 255.5 510.6Q255.7 509.4 255.7 508.1Q255.7 506.7 257.1 506.3Q258.5 505.9 259.6 505.9Q260.8 505.9 261.9 506.5Q263.0 507.2 263.1 509.0Q263.2 510.8 262.2 512.3Q261.1 513.8 259.3 513.8Z" fill="#a4a4a4"/><path d="M289.2 500.6L289.3 499.6Q289.3 498.6 289.8 498.0Q290.2 497.4 290.6 497.0Q291.1 496.6 292.0 496.7Q293.0 496.8 293.2 497.6Q293.5 498.5 293.5 499.0Q293.6 499.6 292.8 500.5Q291.9 501.5 291.3 501.4Q290.6 501.3 289.9 500.9Z" fill="#a9a9a9"/><path d="M260.4 544.5L259.5 544.3Q258.6 544.2 258.4 543.2Q258.3 542.2 258.5 541.6Q258.6 540.9 259.4 540.1Q260.3 539.4 261.0 539.3Q261.7 539.2 262.2 540.1Q262.7 541.0 262.6 541.6Q262.6 542.3 262.3 543.6Q262.1 544.9 261.2 544.7Z" fill="#9c9c9c"/><path d="M292.4 558.7L291.9 557.3Q291.4 555.9 291.1 554.7Q290.7 553.5 292.5 552.1Q294.2 550.8 296.5 550.5Q298.9 550.2 298.9 551.3Q298.8 552.5 299.6 553.5Q300.4 554.4 299.3 556.9Q298.1 559.4 296.2 559.8Q294.4 560.1 293.4 559.4Z" fill="#b5b5b5"/><path d="M248.0 549.9L247.6 548.6Q247.2 547.2 247.5 546.7Q247.7 546.1 248.7 544.9Q249.7 543.7 250.4 543.7Q251.1 543.8 252.0 544.6Q253.0 545.3 253.3 546.8Q253.6 548.4 252.6 548.9Q251.5 549.5 250.4 549.9Q249.3 550.4 248.7 550.1Z" fill="#b9b9b9"/><path d="M301.9 535.2L301.6 534.4Q301.3 533.5 301.4 531.9Q301.5 530.3 302.0 529.4Q302.5 528.6 303.8 528.6Q305.2 528.5 306.2 528.8Q307.3 529.1 307.5 529.9Q307.7 530.8 307.3 531.9Q306.9 533.1 305.5 534.6Q304.2 536.1 303.1 535.7Z" fill="#c5c5c5"/><path d="M277.1 536.4L276.5 535.6Q275.8 534.9 275.2 534.5Q274.6 534.2 274.6 532.8Q274.7 531.5 275.2 530.7Q275.7 530.0 276.9 530.3Q278.1 530.6 279.0 531.0Q279.8 531.3 279.6 532.0Q279.4 532.7 279.0 534.3Q278.7 535.8 277.9 536.1Z" fill="#c2c2c2"/><path d="M288.4 529.3L287.7 528.8Q287.1 528.4 285.9 527.2Q284.8 526.0 284.6 524.8Q284.5 523.6 285.0 523.1Q285.5 522.7 286.5 522.3Q287.6 522.0 288.4 522.5Q289.2 523.1 289.9 524.4Q290.6 525.8 290.4 527.0Q290.2 528.2 289.3 528.7Z" fill="#c4c4c4"/><path d="M253.5 522.6L253.2 521.7Q252.8 520.9 253.0 520.1Q253.3 519.3 254.0 518.6Q254.8 517.9 255.8 517.6Q256.8 517.4 257.0 518.0Q257.2 518.7 257.8 519.5Q258.4 520.3 257.7 521.1Q257.0 522.0 255.8 522.7Q254.6 523.5 254.1 523.0Z" fill="#b4b4b4"/><path d="M261.3 529.1L260.6 528.0Q259.9 527.0 260.1 526.0Q260.3 525.0 262.4 523.5Q264.4 522.0 265.6 522.7Q266.9 523.5 267.3 523.7Q267.8 524.0 267.4 525.9Q267.0 527.9 267.0 528.8Q267.0 529.6 265.1 530.1Q263.2 530.6 262.2 529.8Z" fill="#afafaf"/><path d="M302.1 545.0L301.3 545.8Q300.4 546.6 299.9 547.1Q299.3 547.5 298.2 546.8Q297.2 546.1 296.5 545.8Q295.8 545.5 295.9 544.1Q295.9 542.7 296.8 542.6Q297.7 542.5 299.0 542.5Q300.3 542.5 301.1 543.3Q301.9 544.1 302.0 544.5Z" fill="#d3d3d3"/><path d="M242.8 523.4L242.8 522.5Q242.8 521.7 243.2 521.4Q243.5 521.0 244.7 520.8Q245.8 520.5 246.3 520.8Q246.8 521.0 247.4 521.8Q247.9 522.7 247.3 523.5Q246.7 524.4 245.8 524.5Q245.0 524.6 244.2 524.4Q243.3 524.2 243.1 523.8Z" fill="#999999"/><path d="M286.2 552.6L285.4 553.8Q284.5 555.1 283.5 554.6Q282.5 554.2 281.8 554.4Q281.0 554.5 280.5 553.4Q280.1 552.4 280.4 551.4Q280.7 550.4 281.6 549.6Q282.6 548.8 283.6 549.0Q284.6 549.3 285.4 550.3Q286.2 551.4 286.2 552.0Z" fill="#969696"/><path d="M271.3 561.1L270.2 560.6Q269.1 560.0 268.4 559.8Q267.7 559.6 267.6 558.2Q267.4 556.7 268.2 556.3Q268.9 555.9 269.6 555.4Q270.4 554.8 270.9 555.3Q271.4 555.8 271.7 557.0Q272.0 558.2 271.8 559.3Q271.6 560.4 271.5 560.8Z" fill="#c0c0c0"/><path d="M312.5 554.3L311.0 555.0Q309.5 555.8 308.7 556.2Q307.9 556.7 306.3 555.3Q304.6 554.0 304.6 553.6Q304.6 553.2 304.9 551.8Q305.2 550.5 306.5 550.4Q307.8 550.2 309.0 550.8Q310.3 551.3 311.0 552.0Q311.8 552.6 312.2 553.4Z" fill="#dadada"/></g>
<rect x="182.6" y="555.8" width="25.3" height="1.9" fill="#dcdcdc"/>
</g>
<g clip-path="url(#c3)">
<rect x="316.2" y="472.1" width="132.7" height="89.79999999999995" fill="#404040"/>
<rect x="316.2" y="472.1" width="132.7" height="89.79999999999995" filter="url(#bgtex)" opacity="0.05"/>
<path d="M362 486.3 L382.7 481.5 M395 479 L404 474 M405 515 Q415 520 428 512 M398 522 Q405 530 418 530 M330 500 Q338 498 345 499 M300 0" stroke="#8c8c8c" stroke-width="0.7" fill="none"/>
<g fill="#5a5a5a" filter="url(#b04)"><circle cx="379.5" cy="491" r="3.5"/><circle cx="355" cy="526" r="1.5"/><circle cx="372" cy="503" r="1.2"/><circle cx="410" cy="556" r="1.5"/><circle cx="435" cy="477" r="1.5"/></g>
<path d="M340.5 474.9L346.6 464.7L339.1 473.9ZM340.1 473.6L329.6 470.7L339.5 475.2ZM339.2 475.1L346.0 480.0L340.4 473.7ZM339.9 475.3L349.0 473.2L339.7 473.5ZM324.7 492.9L329.6 503.7L326.3 492.3ZM325.3 491.7L314.8 495.5L325.7 493.5ZM324.8 492.0L318.4 501.4L326.2 493.2ZM327.4 504.6L319.7 510.8L328.4 506.0ZM328.5 504.7L319.9 497.6L327.3 505.9ZM327.3 504.6L319.5 512.5L328.5 506.0ZM327.1 504.9L323.0 516.1L328.7 505.7ZM327.1 505.7L333.8 515.6L328.7 504.9ZM321.5 516.0L326.7 526.7L323.1 515.4ZM321.9 516.5L332.9 520.8L322.7 514.9ZM323.2 515.8L323.7 505.5L321.4 515.6ZM322.3 516.6L333.0 515.4L322.3 514.8ZM322.3 516.6L334.1 516.2L322.3 514.8ZM349.3 497.7L344.5 507.1L350.9 498.7ZM349.8 497.3L341.2 501.1L350.4 499.1ZM349.7 499.0L358.2 502.8L350.5 497.4ZM327.3 539.6L321.5 545.3L328.5 541.0ZM327.5 541.1L337.7 545.9L328.3 539.5ZM327.1 540.6L332.4 551.2L328.7 540.0ZM331.9 547.7L333.8 539.1L330.1 547.1ZM330.5 546.7L325.0 551.8L331.5 548.1ZM331.9 547.5L331.9 539.8L330.1 547.3ZM330.1 547.6L332.4 554.4L331.9 547.2ZM345.4 540.7L352.2 553.0L347.0 539.9ZM345.8 539.5L334.8 545.4L346.6 541.1ZM346.6 541.1L357.4 534.1L345.8 539.5ZM345.7 539.5L337.5 545.5L346.7 541.1ZM345.4 540.7L352.1 550.8L347.0 539.9ZM346.4 541.2L356.2 538.3L346.0 539.4ZM390.5 482.2L402.2 491.3L391.7 480.8ZM391.6 482.2L400.7 474.6L390.6 480.8ZM392.0 481.3L388.6 469.9L390.2 481.7ZM390.7 480.7L379.9 487.9L391.5 482.3ZM391.6 482.2L402.1 473.8L390.6 480.8ZM412.5 506.4L407.2 499.1L410.9 507.4ZM410.9 507.4L418.7 517.7L412.5 506.4ZM411.2 506.1L401.4 513.0L412.2 507.7ZM412.4 507.5L417.7 499.2L411.0 506.3ZM411.0 507.4L418.2 515.8L412.4 506.4ZM401.5 512.5L400.1 501.9L399.7 512.5ZM401.5 512.6L401.5 503.4L399.7 512.4ZM400.1 511.8L392.9 518.1L401.1 513.2ZM401.3 512.0L395.0 504.9L399.9 513.0ZM430.9 511.1L432.1 503.0L429.1 510.7ZM429.1 511.1L432.6 520.8L430.9 510.7ZM430.9 510.9L430.5 500.9L429.1 510.9ZM430.8 510.6L426.4 502.2L429.2 511.2ZM429.4 510.3L422.7 517.9L430.6 511.5ZM430.0 511.8L438.8 511.0L430.0 510.0ZM440.6 506.8L433.3 505.5L440.0 508.6ZM440.5 506.8L432.5 506.2L440.1 508.6ZM440.2 506.8L429.3 508.9L440.4 508.6ZM440.4 508.6L449.0 506.5L440.2 506.8ZM441.2 507.9L442.2 498.7L439.4 507.5ZM441.2 497.3L431.2 497.3L441.0 499.1ZM441.3 497.3L430.1 496.3L440.9 499.1ZM442.0 498.2L441.5 487.0L440.2 498.2ZM441.8 498.7L447.9 489.4L440.4 497.7ZM441.1 497.3L430.9 497.7L441.1 499.1ZM442.0 498.2L441.6 488.0L440.2 498.2ZM440.2 516.6L449.7 516.4L440.4 514.8ZM441.2 515.7L440.7 505.0L439.4 515.7ZM439.5 515.3L436.4 522.7L441.1 516.1ZM439.6 516.3L447.3 524.1L441.0 515.1ZM397.2 528.5L405.8 530.1L397.8 526.7ZM398.0 526.9L388.8 521.3L397.0 528.3ZM397.2 528.4L405.6 530.8L397.8 526.8ZM398.3 527.2L392.3 517.6L396.7 528.0ZM390.5 533.2L384.2 540.1L391.7 534.6ZM390.4 533.3L384.9 541.2L391.8 534.5ZM391.0 534.8L401.5 535.5L391.2 533.0ZM390.4 533.3L386.6 539.3L391.8 534.5ZM390.6 534.7L398.2 538.2L391.6 533.1ZM390.2 533.8L390.3 544.2L392.0 534.0ZM384.1 533.8L382.5 524.4L382.3 534.0ZM382.6 533.2L378.4 538.4L383.8 534.6ZM384.1 534.0L383.8 524.9L382.3 533.8ZM384.1 534.0L383.8 524.4L382.3 533.8ZM384.1 533.8L382.6 527.3L382.3 534.0ZM383.5 534.7L392.8 530.2L382.9 533.1ZM385.4 546.5L385.6 555.4L387.2 546.7ZM386.8 547.4L393.1 542.3L385.8 545.8ZM385.5 547.0L390.5 555.8L387.1 546.2ZM386.8 545.8L379.9 542.8L385.8 547.4ZM386.5 547.5L394.0 545.3L386.1 545.7ZM419.5 542.5L409.6 546.1L419.9 544.3ZM419.1 542.7L409.3 551.8L420.3 544.1ZM419.3 542.6L407.8 549.5L420.1 544.2ZM418.9 543.9L425.9 553.3L420.5 542.9ZM403.0 535.0L406.0 540.4L404.6 534.4ZM403.4 533.9L399.3 536.6L404.2 535.5ZM404.5 535.2L408.4 528.6L403.1 534.2ZM446.4 481.4L442.7 486.1L447.6 482.6ZM446.1 482.2L448.9 489.5L447.9 481.8ZM446.5 482.7L451.0 485.1L447.5 481.3ZM431.8 501.1L424.3 503.8L432.2 502.9ZM431.7 501.1L423.0 504.6L432.3 502.9ZM432.6 501.3L427.5 498.1L431.4 502.7ZM432.7 501.4L427.5 496.4L431.3 502.6ZM431.2 502.4L435.7 508.6L432.8 501.6ZM446.8 509.1L438.2 512.1L447.2 510.9ZM447.1 510.9L453.5 509.6L446.9 509.1ZM446.5 509.3L439.3 515.3L447.5 510.7ZM421.5 511.2L417.0 515.1L422.5 512.8ZM421.1 511.9L421.1 519.7L422.9 512.1ZM422.0 512.9L429.0 511.8L422.0 511.1ZM421.2 512.3L424.5 518.9L422.8 511.7ZM422.4 511.2L414.3 507.9L421.6 512.8ZM436.0 521.9L442.8 521.2L436.0 520.1ZM436.7 520.4L432.5 517.3L435.3 521.6ZM436.0 521.9L444.0 520.6L436.0 520.1ZM436.3 520.2L429.5 518.5L435.7 521.8ZM436.7 520.4L431.8 516.1L435.3 521.6Z" fill="#bdbdbd" filter="url(#b04)"/>
<g filter="url(#cell3)"><path d="M347.4 475.5L346.7 476.2Q346.0 477.0 343.6 478.2Q341.2 479.3 340.3 479.1Q339.5 478.9 337.1 477.9Q334.8 476.9 333.9 475.4Q332.9 473.9 332.6 473.1Q332.2 472.4 334.3 471.7Q336.4 471.0 337.5 470.6Q338.6 470.2 340.1 470.2Q341.7 470.3 343.8 471.7Q345.9 473.2 346.6 474.3Z" fill="#dcdcdc"/><path d="M331.5 495.2L331.0 496.1Q330.6 497.0 328.9 497.4Q327.2 497.8 325.0 497.9Q322.7 497.9 321.5 496.8Q320.2 495.7 319.9 494.5Q319.5 493.3 319.3 490.2Q319.2 487.2 321.0 487.2Q322.8 487.3 323.9 487.2Q325.1 487.0 327.0 487.7Q329.0 488.4 330.3 489.6Q331.6 490.7 331.6 492.9Z" fill="#eaeaea"/><path d="M333.2 505.3L333.8 506.8Q334.3 508.4 332.8 509.5Q331.3 510.6 329.5 511.3Q327.8 512.0 325.3 510.9Q322.8 509.7 321.5 507.8Q320.3 505.9 320.6 504.1Q320.9 502.3 322.5 501.5Q324.2 500.6 325.8 499.7Q327.5 498.7 329.5 499.9Q331.5 501.2 332.8 501.1Q334.1 501.0 333.6 503.2Z" fill="#ededed"/><path d="M328.2 517.2L327.8 518.9Q327.4 520.5 324.9 521.4Q322.5 522.2 321.4 522.0Q320.2 521.8 317.9 520.1Q315.5 518.3 315.5 516.8Q315.4 515.3 315.5 513.8Q315.5 512.4 317.2 511.2Q318.9 510.0 320.3 510.5Q321.7 511.0 323.6 510.8Q325.5 510.6 326.6 512.4Q327.7 514.2 327.9 515.7Z" fill="#e1e1e1"/><path d="M356.1 498.9L355.8 499.3Q355.5 499.7 353.9 501.9Q352.4 504.2 351.2 503.5Q350.1 502.9 347.6 503.0Q345.2 503.2 343.6 501.2Q341.9 499.3 342.6 497.2Q343.2 495.1 345.2 494.8Q347.1 494.4 347.1 493.3Q347.0 492.3 350.1 493.0Q353.2 493.6 354.1 494.2Q354.9 494.7 355.5 496.8Z" fill="#dadada"/><path d="M334.5 541.5L333.8 542.7Q333.2 544.0 331.2 544.6Q329.2 545.2 327.3 544.5Q325.4 543.7 324.8 543.5Q324.3 543.3 322.6 542.0Q320.8 540.7 321.2 539.1Q321.5 537.5 323.7 536.3Q325.8 535.1 327.4 535.0Q328.9 535.0 330.7 536.4Q332.5 537.8 333.1 538.9Q333.7 540.0 334.1 540.7Z" fill="#e0e0e0"/><path d="M335.5 548.0L336.2 548.8Q336.8 549.6 335.2 550.9Q333.6 552.2 332.0 552.5Q330.4 552.8 329.3 552.3Q328.1 551.7 327.3 550.4Q326.5 549.2 326.3 547.2Q326.1 545.3 327.2 544.5Q328.3 543.8 329.5 542.8Q330.8 541.9 332.1 542.8Q333.4 543.7 335.2 544.3Q337.0 544.8 336.3 546.4Z" fill="#dbdbdb"/><path d="M355.3 535.9L353.8 538.5Q352.4 541.0 352.7 542.1Q353.0 543.1 349.2 544.5Q345.4 546.0 344.5 546.7Q343.5 547.4 340.9 546.4Q338.3 545.5 338.8 543.8Q339.4 542.0 339.5 540.3Q339.7 538.6 340.9 538.0Q342.1 537.5 345.7 536.0Q349.3 534.4 350.4 534.0Q351.5 533.6 353.4 534.7Z" fill="#dedede"/><path d="M399.5 479.2L400.5 480.1Q401.4 481.0 399.6 482.5Q397.9 483.9 393.7 486.1Q389.5 488.3 388.5 487.4Q387.5 486.5 385.9 486.5Q384.3 486.5 383.3 484.8Q382.4 483.2 383.3 481.1Q384.2 479.0 386.2 477.7Q388.2 476.3 390.5 475.8Q392.7 475.4 394.9 475.8Q397.0 476.3 398.3 477.7Z" fill="#e3e3e3"/><path d="M418.8 507.7L418.0 509.4Q417.2 511.1 416.0 511.6Q414.7 512.0 412.2 511.7Q409.7 511.4 408.5 511.1Q407.2 510.9 405.7 510.0Q404.2 509.1 404.6 506.9Q405.0 504.8 405.6 504.2Q406.2 503.6 408.8 502.5Q411.4 501.3 413.5 501.9Q415.6 502.4 416.8 503.6Q418.0 504.7 418.4 506.2Z" fill="#dadada"/><path d="M406.5 511.5L405.7 513.1Q405.0 514.7 403.8 515.9Q402.6 517.0 400.9 517.9Q399.3 518.7 398.6 518.3Q397.9 517.8 396.8 516.3Q395.8 514.8 395.1 512.3Q394.3 509.9 395.2 509.0Q396.1 508.1 397.6 507.0Q399.1 505.9 400.7 506.3Q402.2 506.6 403.5 507.5Q404.7 508.4 405.6 510.0Z" fill="#e8e8e8"/><path d="M437.4 512.1L436.7 513.5Q436.0 514.9 433.3 515.8Q430.7 516.8 428.6 516.0Q426.6 515.3 426.0 514.4Q425.4 513.4 423.9 512.0Q422.3 510.6 423.4 509.7Q424.6 508.9 425.7 507.1Q426.7 505.3 428.0 506.0Q429.2 506.6 430.9 506.5Q432.5 506.4 434.1 508.3Q435.7 510.3 436.6 511.2Z" fill="#dfdfdf"/><path d="M445.5 507.0L445.1 509.3Q444.6 511.5 444.0 512.1Q443.3 512.6 441.0 512.9Q438.6 513.1 437.4 512.3Q436.1 511.5 435.7 510.7Q435.2 509.9 435.2 508.3Q435.1 506.7 435.3 505.2Q435.4 503.6 437.2 503.7Q438.9 503.7 440.5 503.7Q442.0 503.7 443.6 503.6Q445.1 503.5 445.3 505.3Z" fill="#d9d9d9"/><path d="M448.8 499.4L447.8 500.5Q446.8 501.6 445.4 501.8Q444.0 502.0 442.3 502.1Q440.6 502.2 438.4 501.6Q436.2 501.1 435.2 500.3Q434.2 499.4 434.2 498.4Q434.2 497.3 435.0 496.2Q435.9 495.0 438.5 493.7Q441.0 492.4 443.4 492.9Q445.8 493.3 446.6 494.6Q447.4 495.8 448.1 497.6Z" fill="#ebebeb"/><path d="M447.0 516.7L446.9 517.3Q446.7 517.9 444.9 519.4Q443.0 520.9 441.5 521.3Q439.9 521.6 437.8 521.0Q435.7 520.4 435.3 518.4Q435.0 516.4 434.5 514.8Q433.9 513.2 435.7 511.9Q437.5 510.6 438.0 510.6Q438.6 510.6 440.5 510.3Q442.4 510.0 443.6 510.9Q444.7 511.8 445.9 514.2Z" fill="#dfdfdf"/><path d="M405.1 529.0L403.1 529.9Q401.2 530.9 400.1 531.2Q399.0 531.6 396.7 532.1Q394.5 532.7 392.7 531.2Q390.9 529.6 391.6 528.8Q392.2 528.0 392.0 527.1Q391.9 526.1 393.7 524.8Q395.5 523.5 396.0 523.5Q396.6 523.4 398.8 524.1Q401.0 524.8 402.5 525.1Q403.9 525.5 404.5 527.2Z" fill="#e9e9e9"/><path d="M397.7 535.1L396.5 535.3Q395.4 535.5 394.0 537.0Q392.7 538.6 391.1 538.5Q389.6 538.5 388.4 538.3Q387.2 538.1 386.5 536.9Q385.8 535.6 385.5 534.1Q385.2 532.7 385.9 531.8Q386.6 531.0 388.5 529.8Q390.5 528.6 392.4 529.4Q394.3 530.1 395.6 531.1Q396.9 532.1 397.3 533.6Z" fill="#e0e0e0"/><path d="M387.3 533.4L387.1 535.8Q386.8 538.2 385.4 538.2Q384.0 538.1 383.8 538.8Q383.6 539.5 382.3 538.4Q381.0 537.4 380.3 536.8Q379.6 536.2 379.1 534.5Q378.5 532.8 380.0 531.4Q381.5 529.9 382.3 529.2Q383.2 528.5 384.8 528.6Q386.3 528.8 386.5 530.6Q386.7 532.3 387.0 532.9Z" fill="#dfdfdf"/><path d="M391.7 547.8L391.6 548.6Q391.5 549.4 389.7 550.6Q387.9 551.8 386.3 552.5Q384.7 553.2 383.5 552.5Q382.3 551.9 381.6 550.6Q381.0 549.3 381.2 546.7Q381.4 544.2 382.0 543.7Q382.5 543.1 383.8 542.2Q385.2 541.3 386.7 541.6Q388.2 541.9 389.4 543.0Q390.6 544.1 391.2 545.9Z" fill="#e6e6e6"/><path d="M428.8 544.9L428.7 545.7Q428.5 546.5 425.7 547.1Q422.9 547.6 420.9 547.8Q418.8 548.0 416.5 547.6Q414.2 547.2 412.2 545.1Q410.1 543.0 409.9 542.3Q409.7 541.6 412.1 540.0Q414.5 538.3 416.0 538.4Q417.4 538.4 421.0 539.3Q424.6 540.2 426.6 540.6Q428.7 541.1 428.8 543.0Z" fill="#dfdfdf"/><path d="M406.6 535.2L406.1 535.9Q405.7 536.6 405.0 537.0Q404.3 537.5 403.7 537.9Q403.0 538.2 402.1 537.7Q401.2 537.2 400.9 536.8Q400.5 536.4 400.5 535.5Q400.5 534.5 401.2 533.1Q402.0 531.8 402.9 531.6Q403.7 531.5 404.6 532.0Q405.5 532.6 406.3 533.0Q407.1 533.5 406.8 534.3Z" fill="#e9e9e9"/><path d="M449.9 482.6L450.1 483.0Q450.3 483.3 449.4 484.2Q448.6 485.0 447.8 484.8Q447.0 484.7 445.8 484.4Q444.6 484.1 444.6 483.7Q444.5 483.3 444.4 482.0Q444.3 480.7 444.7 479.9Q445.1 479.2 446.0 478.9Q446.9 478.5 447.4 478.4Q447.9 478.4 449.0 479.6Q450.2 480.7 450.0 481.7Z" fill="#ededed"/><path d="M436.4 502.1L435.5 503.1Q434.6 504.2 433.8 505.0Q433.0 505.9 432.4 505.7Q431.8 505.5 430.7 505.0Q429.6 504.4 428.7 503.5Q427.9 502.5 427.7 501.1Q427.4 499.8 428.8 499.5Q430.1 499.2 430.4 498.6Q430.8 498.0 432.8 498.3Q434.8 498.7 435.3 499.0Q435.9 499.3 436.2 500.7Z" fill="#dddddd"/><path d="M450.7 509.3L450.5 510.4Q450.2 511.4 449.3 513.0Q448.3 514.6 447.2 514.8Q446.2 515.0 445.4 514.1Q444.7 513.2 443.9 511.8Q443.1 510.4 442.9 510.1Q442.8 509.7 443.5 508.3Q444.2 507.0 445.5 505.6Q446.7 504.2 447.3 504.9Q447.9 505.6 449.1 506.4Q450.4 507.2 450.6 508.2Z" fill="#ebebeb"/><path d="M424.9 512.1L424.9 512.9Q424.9 513.7 424.1 514.2Q423.3 514.8 422.0 514.7Q420.7 514.7 420.7 514.6Q420.6 514.4 419.9 513.6Q419.2 512.7 418.7 511.9Q418.3 511.2 419.1 510.1Q419.9 509.1 420.9 508.8Q421.9 508.5 422.4 508.7Q423.0 508.9 424.0 509.7Q424.9 510.4 424.9 511.3Z" fill="#eeeeee"/><path d="M439.4 520.3L439.2 521.3Q439.0 522.4 438.0 523.0Q437.0 523.7 436.7 524.2Q436.3 524.7 434.9 524.0Q433.5 523.3 432.8 522.3Q432.0 521.3 432.5 520.5Q432.9 519.7 433.2 519.3Q433.5 518.9 434.5 518.3Q435.4 517.7 436.2 517.8Q437.0 517.8 438.4 518.8Q439.8 519.8 439.6 520.0Z" fill="#e5e5e5"/></g>
<rect x="320" y="557.6" width="24.2" height="1.6" fill="#fff"/>
</g>
</svg></body></html>
